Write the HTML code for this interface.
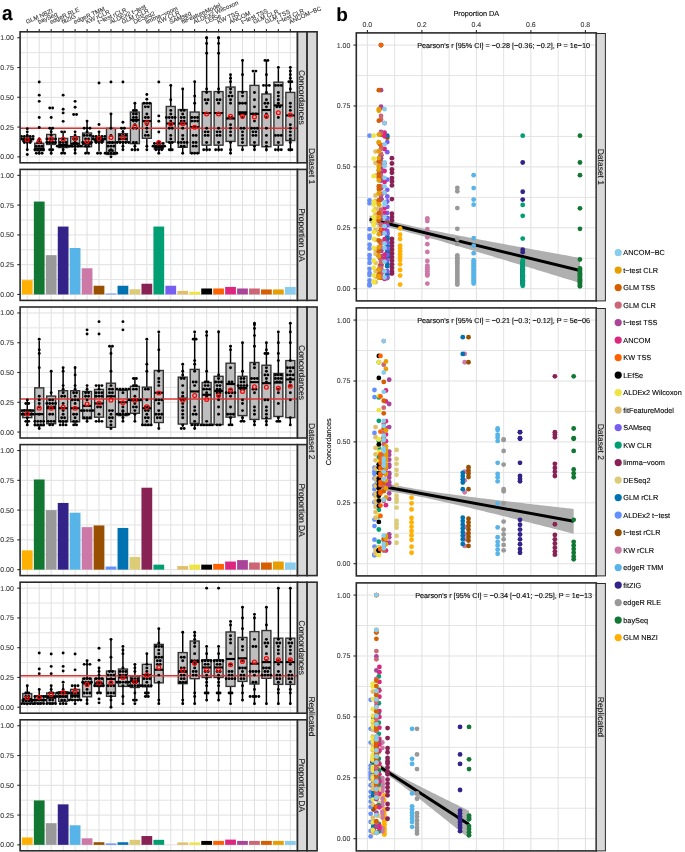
<!DOCTYPE html>
<html><head><meta charset="utf-8"><style>
html,body{margin:0;padding:0;background:#fff;}
svg{display:block;font-family:"Liberation Sans", sans-serif;will-change:transform;text-rendering:geometricPrecision;}
text{stroke-width:0.1px;}
</style></head><body>
<svg width="685" height="852" viewBox="0 0 685 852">
<rect width="685" height="852" fill="#fff"/>
<rect x="20.10" y="31.80" width="277.40" height="131.00" fill="#fff"/>
<line x1="20.10" x2="297.50" y1="141.96" y2="141.96" stroke="#E0E0E0" stroke-width="0.9"/>
<line x1="20.10" x2="297.50" y1="112.19" y2="112.19" stroke="#E0E0E0" stroke-width="0.9"/>
<line x1="20.10" x2="297.50" y1="82.41" y2="82.41" stroke="#E0E0E0" stroke-width="0.9"/>
<line x1="20.10" x2="297.50" y1="52.64" y2="52.64" stroke="#E0E0E0" stroke-width="0.9"/>
<line x1="20.10" x2="297.50" y1="156.85" y2="156.85" stroke="#E0E0E0" stroke-width="1.0"/>
<line x1="20.10" x2="297.50" y1="127.07" y2="127.07" stroke="#E0E0E0" stroke-width="1.0"/>
<line x1="20.10" x2="297.50" y1="97.30" y2="97.30" stroke="#E0E0E0" stroke-width="1.0"/>
<line x1="20.10" x2="297.50" y1="67.53" y2="67.53" stroke="#E0E0E0" stroke-width="1.0"/>
<line x1="20.10" x2="297.50" y1="37.75" y2="37.75" stroke="#E0E0E0" stroke-width="1.0"/>
<line x1="27.27" x2="27.27" y1="31.80" y2="162.80" stroke="#E0E0E0" stroke-width="1.0"/>
<line x1="39.23" x2="39.23" y1="31.80" y2="162.80" stroke="#E0E0E0" stroke-width="1.0"/>
<line x1="51.19" x2="51.19" y1="31.80" y2="162.80" stroke="#E0E0E0" stroke-width="1.0"/>
<line x1="63.14" x2="63.14" y1="31.80" y2="162.80" stroke="#E0E0E0" stroke-width="1.0"/>
<line x1="75.10" x2="75.10" y1="31.80" y2="162.80" stroke="#E0E0E0" stroke-width="1.0"/>
<line x1="87.06" x2="87.06" y1="31.80" y2="162.80" stroke="#E0E0E0" stroke-width="1.0"/>
<line x1="99.02" x2="99.02" y1="31.80" y2="162.80" stroke="#E0E0E0" stroke-width="1.0"/>
<line x1="110.97" x2="110.97" y1="31.80" y2="162.80" stroke="#E0E0E0" stroke-width="1.0"/>
<line x1="122.93" x2="122.93" y1="31.80" y2="162.80" stroke="#E0E0E0" stroke-width="1.0"/>
<line x1="134.89" x2="134.89" y1="31.80" y2="162.80" stroke="#E0E0E0" stroke-width="1.0"/>
<line x1="146.84" x2="146.84" y1="31.80" y2="162.80" stroke="#E0E0E0" stroke-width="1.0"/>
<line x1="158.80" x2="158.80" y1="31.80" y2="162.80" stroke="#E0E0E0" stroke-width="1.0"/>
<line x1="170.76" x2="170.76" y1="31.80" y2="162.80" stroke="#E0E0E0" stroke-width="1.0"/>
<line x1="182.71" x2="182.71" y1="31.80" y2="162.80" stroke="#E0E0E0" stroke-width="1.0"/>
<line x1="194.67" x2="194.67" y1="31.80" y2="162.80" stroke="#E0E0E0" stroke-width="1.0"/>
<line x1="206.63" x2="206.63" y1="31.80" y2="162.80" stroke="#E0E0E0" stroke-width="1.0"/>
<line x1="218.58" x2="218.58" y1="31.80" y2="162.80" stroke="#E0E0E0" stroke-width="1.0"/>
<line x1="230.54" x2="230.54" y1="31.80" y2="162.80" stroke="#E0E0E0" stroke-width="1.0"/>
<line x1="242.50" x2="242.50" y1="31.80" y2="162.80" stroke="#E0E0E0" stroke-width="1.0"/>
<line x1="254.46" x2="254.46" y1="31.80" y2="162.80" stroke="#E0E0E0" stroke-width="1.0"/>
<line x1="266.41" x2="266.41" y1="31.80" y2="162.80" stroke="#E0E0E0" stroke-width="1.0"/>
<line x1="278.37" x2="278.37" y1="31.80" y2="162.80" stroke="#E0E0E0" stroke-width="1.0"/>
<line x1="290.33" x2="290.33" y1="31.80" y2="162.80" stroke="#E0E0E0" stroke-width="1.0"/>
<line x1="17.30" x2="20.10" y1="156.85" y2="156.85" stroke="#2A2A2A" stroke-width="1.1"/>
<text x="13.90" y="159.35" font-size="7" fill="#3A3A3A" stroke="#3A3A3A" text-anchor="end">0.00</text>
<line x1="17.30" x2="20.10" y1="127.07" y2="127.07" stroke="#2A2A2A" stroke-width="1.1"/>
<text x="13.90" y="129.57" font-size="7" fill="#3A3A3A" stroke="#3A3A3A" text-anchor="end">0.25</text>
<line x1="17.30" x2="20.10" y1="97.30" y2="97.30" stroke="#2A2A2A" stroke-width="1.1"/>
<text x="13.90" y="99.80" font-size="7" fill="#3A3A3A" stroke="#3A3A3A" text-anchor="end">0.50</text>
<line x1="17.30" x2="20.10" y1="67.53" y2="67.53" stroke="#2A2A2A" stroke-width="1.1"/>
<text x="13.90" y="70.03" font-size="7" fill="#3A3A3A" stroke="#3A3A3A" text-anchor="end">0.75</text>
<line x1="17.30" x2="20.10" y1="37.75" y2="37.75" stroke="#2A2A2A" stroke-width="1.1"/>
<text x="13.90" y="40.25" font-size="7" fill="#3A3A3A" stroke="#3A3A3A" text-anchor="end">1.00</text>
<rect x="20.10" y="169.40" width="277.40" height="131.00" fill="#fff"/>
<line x1="20.10" x2="297.50" y1="279.56" y2="279.56" stroke="#E0E0E0" stroke-width="0.9"/>
<line x1="20.10" x2="297.50" y1="249.79" y2="249.79" stroke="#E0E0E0" stroke-width="0.9"/>
<line x1="20.10" x2="297.50" y1="220.01" y2="220.01" stroke="#E0E0E0" stroke-width="0.9"/>
<line x1="20.10" x2="297.50" y1="190.24" y2="190.24" stroke="#E0E0E0" stroke-width="0.9"/>
<line x1="20.10" x2="297.50" y1="294.45" y2="294.45" stroke="#E0E0E0" stroke-width="1.0"/>
<line x1="20.10" x2="297.50" y1="264.67" y2="264.67" stroke="#E0E0E0" stroke-width="1.0"/>
<line x1="20.10" x2="297.50" y1="234.90" y2="234.90" stroke="#E0E0E0" stroke-width="1.0"/>
<line x1="20.10" x2="297.50" y1="205.13" y2="205.13" stroke="#E0E0E0" stroke-width="1.0"/>
<line x1="20.10" x2="297.50" y1="175.35" y2="175.35" stroke="#E0E0E0" stroke-width="1.0"/>
<line x1="27.27" x2="27.27" y1="169.40" y2="300.40" stroke="#E0E0E0" stroke-width="1.0"/>
<line x1="39.23" x2="39.23" y1="169.40" y2="300.40" stroke="#E0E0E0" stroke-width="1.0"/>
<line x1="51.19" x2="51.19" y1="169.40" y2="300.40" stroke="#E0E0E0" stroke-width="1.0"/>
<line x1="63.14" x2="63.14" y1="169.40" y2="300.40" stroke="#E0E0E0" stroke-width="1.0"/>
<line x1="75.10" x2="75.10" y1="169.40" y2="300.40" stroke="#E0E0E0" stroke-width="1.0"/>
<line x1="87.06" x2="87.06" y1="169.40" y2="300.40" stroke="#E0E0E0" stroke-width="1.0"/>
<line x1="99.02" x2="99.02" y1="169.40" y2="300.40" stroke="#E0E0E0" stroke-width="1.0"/>
<line x1="110.97" x2="110.97" y1="169.40" y2="300.40" stroke="#E0E0E0" stroke-width="1.0"/>
<line x1="122.93" x2="122.93" y1="169.40" y2="300.40" stroke="#E0E0E0" stroke-width="1.0"/>
<line x1="134.89" x2="134.89" y1="169.40" y2="300.40" stroke="#E0E0E0" stroke-width="1.0"/>
<line x1="146.84" x2="146.84" y1="169.40" y2="300.40" stroke="#E0E0E0" stroke-width="1.0"/>
<line x1="158.80" x2="158.80" y1="169.40" y2="300.40" stroke="#E0E0E0" stroke-width="1.0"/>
<line x1="170.76" x2="170.76" y1="169.40" y2="300.40" stroke="#E0E0E0" stroke-width="1.0"/>
<line x1="182.71" x2="182.71" y1="169.40" y2="300.40" stroke="#E0E0E0" stroke-width="1.0"/>
<line x1="194.67" x2="194.67" y1="169.40" y2="300.40" stroke="#E0E0E0" stroke-width="1.0"/>
<line x1="206.63" x2="206.63" y1="169.40" y2="300.40" stroke="#E0E0E0" stroke-width="1.0"/>
<line x1="218.58" x2="218.58" y1="169.40" y2="300.40" stroke="#E0E0E0" stroke-width="1.0"/>
<line x1="230.54" x2="230.54" y1="169.40" y2="300.40" stroke="#E0E0E0" stroke-width="1.0"/>
<line x1="242.50" x2="242.50" y1="169.40" y2="300.40" stroke="#E0E0E0" stroke-width="1.0"/>
<line x1="254.46" x2="254.46" y1="169.40" y2="300.40" stroke="#E0E0E0" stroke-width="1.0"/>
<line x1="266.41" x2="266.41" y1="169.40" y2="300.40" stroke="#E0E0E0" stroke-width="1.0"/>
<line x1="278.37" x2="278.37" y1="169.40" y2="300.40" stroke="#E0E0E0" stroke-width="1.0"/>
<line x1="290.33" x2="290.33" y1="169.40" y2="300.40" stroke="#E0E0E0" stroke-width="1.0"/>
<line x1="17.30" x2="20.10" y1="294.45" y2="294.45" stroke="#2A2A2A" stroke-width="1.1"/>
<text x="13.90" y="296.95" font-size="7" fill="#3A3A3A" stroke="#3A3A3A" text-anchor="end">0.00</text>
<line x1="17.30" x2="20.10" y1="264.67" y2="264.67" stroke="#2A2A2A" stroke-width="1.1"/>
<text x="13.90" y="267.17" font-size="7" fill="#3A3A3A" stroke="#3A3A3A" text-anchor="end">0.25</text>
<line x1="17.30" x2="20.10" y1="234.90" y2="234.90" stroke="#2A2A2A" stroke-width="1.1"/>
<text x="13.90" y="237.40" font-size="7" fill="#3A3A3A" stroke="#3A3A3A" text-anchor="end">0.50</text>
<line x1="17.30" x2="20.10" y1="205.13" y2="205.13" stroke="#2A2A2A" stroke-width="1.1"/>
<text x="13.90" y="207.63" font-size="7" fill="#3A3A3A" stroke="#3A3A3A" text-anchor="end">0.75</text>
<line x1="17.30" x2="20.10" y1="175.35" y2="175.35" stroke="#2A2A2A" stroke-width="1.1"/>
<text x="13.90" y="177.85" font-size="7" fill="#3A3A3A" stroke="#3A3A3A" text-anchor="end">1.00</text>
<rect x="20.10" y="307.00" width="277.40" height="131.00" fill="#fff"/>
<line x1="20.10" x2="297.50" y1="417.16" y2="417.16" stroke="#E0E0E0" stroke-width="0.9"/>
<line x1="20.10" x2="297.50" y1="387.39" y2="387.39" stroke="#E0E0E0" stroke-width="0.9"/>
<line x1="20.10" x2="297.50" y1="357.61" y2="357.61" stroke="#E0E0E0" stroke-width="0.9"/>
<line x1="20.10" x2="297.50" y1="327.84" y2="327.84" stroke="#E0E0E0" stroke-width="0.9"/>
<line x1="20.10" x2="297.50" y1="432.05" y2="432.05" stroke="#E0E0E0" stroke-width="1.0"/>
<line x1="20.10" x2="297.50" y1="402.27" y2="402.27" stroke="#E0E0E0" stroke-width="1.0"/>
<line x1="20.10" x2="297.50" y1="372.50" y2="372.50" stroke="#E0E0E0" stroke-width="1.0"/>
<line x1="20.10" x2="297.50" y1="342.73" y2="342.73" stroke="#E0E0E0" stroke-width="1.0"/>
<line x1="20.10" x2="297.50" y1="312.95" y2="312.95" stroke="#E0E0E0" stroke-width="1.0"/>
<line x1="27.27" x2="27.27" y1="307.00" y2="438.00" stroke="#E0E0E0" stroke-width="1.0"/>
<line x1="39.23" x2="39.23" y1="307.00" y2="438.00" stroke="#E0E0E0" stroke-width="1.0"/>
<line x1="51.19" x2="51.19" y1="307.00" y2="438.00" stroke="#E0E0E0" stroke-width="1.0"/>
<line x1="63.14" x2="63.14" y1="307.00" y2="438.00" stroke="#E0E0E0" stroke-width="1.0"/>
<line x1="75.10" x2="75.10" y1="307.00" y2="438.00" stroke="#E0E0E0" stroke-width="1.0"/>
<line x1="87.06" x2="87.06" y1="307.00" y2="438.00" stroke="#E0E0E0" stroke-width="1.0"/>
<line x1="99.02" x2="99.02" y1="307.00" y2="438.00" stroke="#E0E0E0" stroke-width="1.0"/>
<line x1="110.97" x2="110.97" y1="307.00" y2="438.00" stroke="#E0E0E0" stroke-width="1.0"/>
<line x1="122.93" x2="122.93" y1="307.00" y2="438.00" stroke="#E0E0E0" stroke-width="1.0"/>
<line x1="134.89" x2="134.89" y1="307.00" y2="438.00" stroke="#E0E0E0" stroke-width="1.0"/>
<line x1="146.84" x2="146.84" y1="307.00" y2="438.00" stroke="#E0E0E0" stroke-width="1.0"/>
<line x1="158.80" x2="158.80" y1="307.00" y2="438.00" stroke="#E0E0E0" stroke-width="1.0"/>
<line x1="170.76" x2="170.76" y1="307.00" y2="438.00" stroke="#E0E0E0" stroke-width="1.0"/>
<line x1="182.71" x2="182.71" y1="307.00" y2="438.00" stroke="#E0E0E0" stroke-width="1.0"/>
<line x1="194.67" x2="194.67" y1="307.00" y2="438.00" stroke="#E0E0E0" stroke-width="1.0"/>
<line x1="206.63" x2="206.63" y1="307.00" y2="438.00" stroke="#E0E0E0" stroke-width="1.0"/>
<line x1="218.58" x2="218.58" y1="307.00" y2="438.00" stroke="#E0E0E0" stroke-width="1.0"/>
<line x1="230.54" x2="230.54" y1="307.00" y2="438.00" stroke="#E0E0E0" stroke-width="1.0"/>
<line x1="242.50" x2="242.50" y1="307.00" y2="438.00" stroke="#E0E0E0" stroke-width="1.0"/>
<line x1="254.46" x2="254.46" y1="307.00" y2="438.00" stroke="#E0E0E0" stroke-width="1.0"/>
<line x1="266.41" x2="266.41" y1="307.00" y2="438.00" stroke="#E0E0E0" stroke-width="1.0"/>
<line x1="278.37" x2="278.37" y1="307.00" y2="438.00" stroke="#E0E0E0" stroke-width="1.0"/>
<line x1="290.33" x2="290.33" y1="307.00" y2="438.00" stroke="#E0E0E0" stroke-width="1.0"/>
<line x1="17.30" x2="20.10" y1="432.05" y2="432.05" stroke="#2A2A2A" stroke-width="1.1"/>
<text x="13.90" y="434.55" font-size="7" fill="#3A3A3A" stroke="#3A3A3A" text-anchor="end">0.00</text>
<line x1="17.30" x2="20.10" y1="402.27" y2="402.27" stroke="#2A2A2A" stroke-width="1.1"/>
<text x="13.90" y="404.77" font-size="7" fill="#3A3A3A" stroke="#3A3A3A" text-anchor="end">0.25</text>
<line x1="17.30" x2="20.10" y1="372.50" y2="372.50" stroke="#2A2A2A" stroke-width="1.1"/>
<text x="13.90" y="375.00" font-size="7" fill="#3A3A3A" stroke="#3A3A3A" text-anchor="end">0.50</text>
<line x1="17.30" x2="20.10" y1="342.73" y2="342.73" stroke="#2A2A2A" stroke-width="1.1"/>
<text x="13.90" y="345.23" font-size="7" fill="#3A3A3A" stroke="#3A3A3A" text-anchor="end">0.75</text>
<line x1="17.30" x2="20.10" y1="312.95" y2="312.95" stroke="#2A2A2A" stroke-width="1.1"/>
<text x="13.90" y="315.45" font-size="7" fill="#3A3A3A" stroke="#3A3A3A" text-anchor="end">1.00</text>
<rect x="20.10" y="444.60" width="277.40" height="131.00" fill="#fff"/>
<line x1="20.10" x2="297.50" y1="554.76" y2="554.76" stroke="#E0E0E0" stroke-width="0.9"/>
<line x1="20.10" x2="297.50" y1="524.99" y2="524.99" stroke="#E0E0E0" stroke-width="0.9"/>
<line x1="20.10" x2="297.50" y1="495.21" y2="495.21" stroke="#E0E0E0" stroke-width="0.9"/>
<line x1="20.10" x2="297.50" y1="465.44" y2="465.44" stroke="#E0E0E0" stroke-width="0.9"/>
<line x1="20.10" x2="297.50" y1="569.65" y2="569.65" stroke="#E0E0E0" stroke-width="1.0"/>
<line x1="20.10" x2="297.50" y1="539.87" y2="539.87" stroke="#E0E0E0" stroke-width="1.0"/>
<line x1="20.10" x2="297.50" y1="510.10" y2="510.10" stroke="#E0E0E0" stroke-width="1.0"/>
<line x1="20.10" x2="297.50" y1="480.33" y2="480.33" stroke="#E0E0E0" stroke-width="1.0"/>
<line x1="20.10" x2="297.50" y1="450.55" y2="450.55" stroke="#E0E0E0" stroke-width="1.0"/>
<line x1="27.27" x2="27.27" y1="444.60" y2="575.60" stroke="#E0E0E0" stroke-width="1.0"/>
<line x1="39.23" x2="39.23" y1="444.60" y2="575.60" stroke="#E0E0E0" stroke-width="1.0"/>
<line x1="51.19" x2="51.19" y1="444.60" y2="575.60" stroke="#E0E0E0" stroke-width="1.0"/>
<line x1="63.14" x2="63.14" y1="444.60" y2="575.60" stroke="#E0E0E0" stroke-width="1.0"/>
<line x1="75.10" x2="75.10" y1="444.60" y2="575.60" stroke="#E0E0E0" stroke-width="1.0"/>
<line x1="87.06" x2="87.06" y1="444.60" y2="575.60" stroke="#E0E0E0" stroke-width="1.0"/>
<line x1="99.02" x2="99.02" y1="444.60" y2="575.60" stroke="#E0E0E0" stroke-width="1.0"/>
<line x1="110.97" x2="110.97" y1="444.60" y2="575.60" stroke="#E0E0E0" stroke-width="1.0"/>
<line x1="122.93" x2="122.93" y1="444.60" y2="575.60" stroke="#E0E0E0" stroke-width="1.0"/>
<line x1="134.89" x2="134.89" y1="444.60" y2="575.60" stroke="#E0E0E0" stroke-width="1.0"/>
<line x1="146.84" x2="146.84" y1="444.60" y2="575.60" stroke="#E0E0E0" stroke-width="1.0"/>
<line x1="158.80" x2="158.80" y1="444.60" y2="575.60" stroke="#E0E0E0" stroke-width="1.0"/>
<line x1="170.76" x2="170.76" y1="444.60" y2="575.60" stroke="#E0E0E0" stroke-width="1.0"/>
<line x1="182.71" x2="182.71" y1="444.60" y2="575.60" stroke="#E0E0E0" stroke-width="1.0"/>
<line x1="194.67" x2="194.67" y1="444.60" y2="575.60" stroke="#E0E0E0" stroke-width="1.0"/>
<line x1="206.63" x2="206.63" y1="444.60" y2="575.60" stroke="#E0E0E0" stroke-width="1.0"/>
<line x1="218.58" x2="218.58" y1="444.60" y2="575.60" stroke="#E0E0E0" stroke-width="1.0"/>
<line x1="230.54" x2="230.54" y1="444.60" y2="575.60" stroke="#E0E0E0" stroke-width="1.0"/>
<line x1="242.50" x2="242.50" y1="444.60" y2="575.60" stroke="#E0E0E0" stroke-width="1.0"/>
<line x1="254.46" x2="254.46" y1="444.60" y2="575.60" stroke="#E0E0E0" stroke-width="1.0"/>
<line x1="266.41" x2="266.41" y1="444.60" y2="575.60" stroke="#E0E0E0" stroke-width="1.0"/>
<line x1="278.37" x2="278.37" y1="444.60" y2="575.60" stroke="#E0E0E0" stroke-width="1.0"/>
<line x1="290.33" x2="290.33" y1="444.60" y2="575.60" stroke="#E0E0E0" stroke-width="1.0"/>
<line x1="17.30" x2="20.10" y1="569.65" y2="569.65" stroke="#2A2A2A" stroke-width="1.1"/>
<text x="13.90" y="572.15" font-size="7" fill="#3A3A3A" stroke="#3A3A3A" text-anchor="end">0.00</text>
<line x1="17.30" x2="20.10" y1="539.87" y2="539.87" stroke="#2A2A2A" stroke-width="1.1"/>
<text x="13.90" y="542.37" font-size="7" fill="#3A3A3A" stroke="#3A3A3A" text-anchor="end">0.25</text>
<line x1="17.30" x2="20.10" y1="510.10" y2="510.10" stroke="#2A2A2A" stroke-width="1.1"/>
<text x="13.90" y="512.60" font-size="7" fill="#3A3A3A" stroke="#3A3A3A" text-anchor="end">0.50</text>
<line x1="17.30" x2="20.10" y1="480.33" y2="480.33" stroke="#2A2A2A" stroke-width="1.1"/>
<text x="13.90" y="482.83" font-size="7" fill="#3A3A3A" stroke="#3A3A3A" text-anchor="end">0.75</text>
<line x1="17.30" x2="20.10" y1="450.55" y2="450.55" stroke="#2A2A2A" stroke-width="1.1"/>
<text x="13.90" y="453.05" font-size="7" fill="#3A3A3A" stroke="#3A3A3A" text-anchor="end">1.00</text>
<rect x="20.10" y="582.20" width="277.40" height="131.00" fill="#fff"/>
<line x1="20.10" x2="297.50" y1="692.36" y2="692.36" stroke="#E0E0E0" stroke-width="0.9"/>
<line x1="20.10" x2="297.50" y1="662.59" y2="662.59" stroke="#E0E0E0" stroke-width="0.9"/>
<line x1="20.10" x2="297.50" y1="632.81" y2="632.81" stroke="#E0E0E0" stroke-width="0.9"/>
<line x1="20.10" x2="297.50" y1="603.04" y2="603.04" stroke="#E0E0E0" stroke-width="0.9"/>
<line x1="20.10" x2="297.50" y1="707.25" y2="707.25" stroke="#E0E0E0" stroke-width="1.0"/>
<line x1="20.10" x2="297.50" y1="677.47" y2="677.47" stroke="#E0E0E0" stroke-width="1.0"/>
<line x1="20.10" x2="297.50" y1="647.70" y2="647.70" stroke="#E0E0E0" stroke-width="1.0"/>
<line x1="20.10" x2="297.50" y1="617.93" y2="617.93" stroke="#E0E0E0" stroke-width="1.0"/>
<line x1="20.10" x2="297.50" y1="588.15" y2="588.15" stroke="#E0E0E0" stroke-width="1.0"/>
<line x1="27.27" x2="27.27" y1="582.20" y2="713.20" stroke="#E0E0E0" stroke-width="1.0"/>
<line x1="39.23" x2="39.23" y1="582.20" y2="713.20" stroke="#E0E0E0" stroke-width="1.0"/>
<line x1="51.19" x2="51.19" y1="582.20" y2="713.20" stroke="#E0E0E0" stroke-width="1.0"/>
<line x1="63.14" x2="63.14" y1="582.20" y2="713.20" stroke="#E0E0E0" stroke-width="1.0"/>
<line x1="75.10" x2="75.10" y1="582.20" y2="713.20" stroke="#E0E0E0" stroke-width="1.0"/>
<line x1="87.06" x2="87.06" y1="582.20" y2="713.20" stroke="#E0E0E0" stroke-width="1.0"/>
<line x1="99.02" x2="99.02" y1="582.20" y2="713.20" stroke="#E0E0E0" stroke-width="1.0"/>
<line x1="110.97" x2="110.97" y1="582.20" y2="713.20" stroke="#E0E0E0" stroke-width="1.0"/>
<line x1="122.93" x2="122.93" y1="582.20" y2="713.20" stroke="#E0E0E0" stroke-width="1.0"/>
<line x1="134.89" x2="134.89" y1="582.20" y2="713.20" stroke="#E0E0E0" stroke-width="1.0"/>
<line x1="146.84" x2="146.84" y1="582.20" y2="713.20" stroke="#E0E0E0" stroke-width="1.0"/>
<line x1="158.80" x2="158.80" y1="582.20" y2="713.20" stroke="#E0E0E0" stroke-width="1.0"/>
<line x1="170.76" x2="170.76" y1="582.20" y2="713.20" stroke="#E0E0E0" stroke-width="1.0"/>
<line x1="182.71" x2="182.71" y1="582.20" y2="713.20" stroke="#E0E0E0" stroke-width="1.0"/>
<line x1="194.67" x2="194.67" y1="582.20" y2="713.20" stroke="#E0E0E0" stroke-width="1.0"/>
<line x1="206.63" x2="206.63" y1="582.20" y2="713.20" stroke="#E0E0E0" stroke-width="1.0"/>
<line x1="218.58" x2="218.58" y1="582.20" y2="713.20" stroke="#E0E0E0" stroke-width="1.0"/>
<line x1="230.54" x2="230.54" y1="582.20" y2="713.20" stroke="#E0E0E0" stroke-width="1.0"/>
<line x1="242.50" x2="242.50" y1="582.20" y2="713.20" stroke="#E0E0E0" stroke-width="1.0"/>
<line x1="254.46" x2="254.46" y1="582.20" y2="713.20" stroke="#E0E0E0" stroke-width="1.0"/>
<line x1="266.41" x2="266.41" y1="582.20" y2="713.20" stroke="#E0E0E0" stroke-width="1.0"/>
<line x1="278.37" x2="278.37" y1="582.20" y2="713.20" stroke="#E0E0E0" stroke-width="1.0"/>
<line x1="290.33" x2="290.33" y1="582.20" y2="713.20" stroke="#E0E0E0" stroke-width="1.0"/>
<line x1="17.30" x2="20.10" y1="707.25" y2="707.25" stroke="#2A2A2A" stroke-width="1.1"/>
<text x="13.90" y="709.75" font-size="7" fill="#3A3A3A" stroke="#3A3A3A" text-anchor="end">0.00</text>
<line x1="17.30" x2="20.10" y1="677.47" y2="677.47" stroke="#2A2A2A" stroke-width="1.1"/>
<text x="13.90" y="679.97" font-size="7" fill="#3A3A3A" stroke="#3A3A3A" text-anchor="end">0.25</text>
<line x1="17.30" x2="20.10" y1="647.70" y2="647.70" stroke="#2A2A2A" stroke-width="1.1"/>
<text x="13.90" y="650.20" font-size="7" fill="#3A3A3A" stroke="#3A3A3A" text-anchor="end">0.50</text>
<line x1="17.30" x2="20.10" y1="617.93" y2="617.93" stroke="#2A2A2A" stroke-width="1.1"/>
<text x="13.90" y="620.43" font-size="7" fill="#3A3A3A" stroke="#3A3A3A" text-anchor="end">0.75</text>
<line x1="17.30" x2="20.10" y1="588.15" y2="588.15" stroke="#2A2A2A" stroke-width="1.1"/>
<text x="13.90" y="590.65" font-size="7" fill="#3A3A3A" stroke="#3A3A3A" text-anchor="end">1.00</text>
<rect x="20.10" y="719.80" width="277.40" height="131.00" fill="#fff"/>
<line x1="20.10" x2="297.50" y1="829.96" y2="829.96" stroke="#E0E0E0" stroke-width="0.9"/>
<line x1="20.10" x2="297.50" y1="800.19" y2="800.19" stroke="#E0E0E0" stroke-width="0.9"/>
<line x1="20.10" x2="297.50" y1="770.41" y2="770.41" stroke="#E0E0E0" stroke-width="0.9"/>
<line x1="20.10" x2="297.50" y1="740.64" y2="740.64" stroke="#E0E0E0" stroke-width="0.9"/>
<line x1="20.10" x2="297.50" y1="844.85" y2="844.85" stroke="#E0E0E0" stroke-width="1.0"/>
<line x1="20.10" x2="297.50" y1="815.07" y2="815.07" stroke="#E0E0E0" stroke-width="1.0"/>
<line x1="20.10" x2="297.50" y1="785.30" y2="785.30" stroke="#E0E0E0" stroke-width="1.0"/>
<line x1="20.10" x2="297.50" y1="755.53" y2="755.53" stroke="#E0E0E0" stroke-width="1.0"/>
<line x1="20.10" x2="297.50" y1="725.75" y2="725.75" stroke="#E0E0E0" stroke-width="1.0"/>
<line x1="27.27" x2="27.27" y1="719.80" y2="850.80" stroke="#E0E0E0" stroke-width="1.0"/>
<line x1="39.23" x2="39.23" y1="719.80" y2="850.80" stroke="#E0E0E0" stroke-width="1.0"/>
<line x1="51.19" x2="51.19" y1="719.80" y2="850.80" stroke="#E0E0E0" stroke-width="1.0"/>
<line x1="63.14" x2="63.14" y1="719.80" y2="850.80" stroke="#E0E0E0" stroke-width="1.0"/>
<line x1="75.10" x2="75.10" y1="719.80" y2="850.80" stroke="#E0E0E0" stroke-width="1.0"/>
<line x1="87.06" x2="87.06" y1="719.80" y2="850.80" stroke="#E0E0E0" stroke-width="1.0"/>
<line x1="99.02" x2="99.02" y1="719.80" y2="850.80" stroke="#E0E0E0" stroke-width="1.0"/>
<line x1="110.97" x2="110.97" y1="719.80" y2="850.80" stroke="#E0E0E0" stroke-width="1.0"/>
<line x1="122.93" x2="122.93" y1="719.80" y2="850.80" stroke="#E0E0E0" stroke-width="1.0"/>
<line x1="134.89" x2="134.89" y1="719.80" y2="850.80" stroke="#E0E0E0" stroke-width="1.0"/>
<line x1="146.84" x2="146.84" y1="719.80" y2="850.80" stroke="#E0E0E0" stroke-width="1.0"/>
<line x1="158.80" x2="158.80" y1="719.80" y2="850.80" stroke="#E0E0E0" stroke-width="1.0"/>
<line x1="170.76" x2="170.76" y1="719.80" y2="850.80" stroke="#E0E0E0" stroke-width="1.0"/>
<line x1="182.71" x2="182.71" y1="719.80" y2="850.80" stroke="#E0E0E0" stroke-width="1.0"/>
<line x1="194.67" x2="194.67" y1="719.80" y2="850.80" stroke="#E0E0E0" stroke-width="1.0"/>
<line x1="206.63" x2="206.63" y1="719.80" y2="850.80" stroke="#E0E0E0" stroke-width="1.0"/>
<line x1="218.58" x2="218.58" y1="719.80" y2="850.80" stroke="#E0E0E0" stroke-width="1.0"/>
<line x1="230.54" x2="230.54" y1="719.80" y2="850.80" stroke="#E0E0E0" stroke-width="1.0"/>
<line x1="242.50" x2="242.50" y1="719.80" y2="850.80" stroke="#E0E0E0" stroke-width="1.0"/>
<line x1="254.46" x2="254.46" y1="719.80" y2="850.80" stroke="#E0E0E0" stroke-width="1.0"/>
<line x1="266.41" x2="266.41" y1="719.80" y2="850.80" stroke="#E0E0E0" stroke-width="1.0"/>
<line x1="278.37" x2="278.37" y1="719.80" y2="850.80" stroke="#E0E0E0" stroke-width="1.0"/>
<line x1="290.33" x2="290.33" y1="719.80" y2="850.80" stroke="#E0E0E0" stroke-width="1.0"/>
<line x1="17.30" x2="20.10" y1="844.85" y2="844.85" stroke="#2A2A2A" stroke-width="1.1"/>
<text x="13.90" y="847.35" font-size="7" fill="#3A3A3A" stroke="#3A3A3A" text-anchor="end">0.00</text>
<line x1="17.30" x2="20.10" y1="815.07" y2="815.07" stroke="#2A2A2A" stroke-width="1.1"/>
<text x="13.90" y="817.57" font-size="7" fill="#3A3A3A" stroke="#3A3A3A" text-anchor="end">0.25</text>
<line x1="17.30" x2="20.10" y1="785.30" y2="785.30" stroke="#2A2A2A" stroke-width="1.1"/>
<text x="13.90" y="787.80" font-size="7" fill="#3A3A3A" stroke="#3A3A3A" text-anchor="end">0.50</text>
<line x1="17.30" x2="20.10" y1="755.53" y2="755.53" stroke="#2A2A2A" stroke-width="1.1"/>
<text x="13.90" y="758.03" font-size="7" fill="#3A3A3A" stroke="#3A3A3A" text-anchor="end">0.75</text>
<line x1="17.30" x2="20.10" y1="725.75" y2="725.75" stroke="#2A2A2A" stroke-width="1.1"/>
<text x="13.90" y="728.25" font-size="7" fill="#3A3A3A" stroke="#3A3A3A" text-anchor="end">1.00</text>
<rect x="21.89" y="280.15" width="10.76" height="14.29" fill="#FFB000"/>
<rect x="33.85" y="201.55" width="10.76" height="92.89" fill="#117733"/>
<rect x="45.81" y="255.15" width="10.76" height="39.30" fill="#999999"/>
<rect x="57.76" y="226.56" width="10.76" height="67.88" fill="#332288"/>
<rect x="69.72" y="248.00" width="10.76" height="46.45" fill="#56B4E9"/>
<rect x="81.68" y="268.25" width="10.76" height="26.20" fill="#CC79A7"/>
<rect x="93.63" y="285.75" width="10.76" height="8.69" fill="#994F00"/>
<rect x="105.59" y="293.49" width="10.76" height="0.95" fill="#648FFF"/>
<rect x="117.55" y="285.75" width="10.76" height="8.69" fill="#0072B2"/>
<rect x="129.51" y="289.21" width="10.76" height="5.24" fill="#DDCC77"/>
<rect x="141.46" y="283.73" width="10.76" height="10.72" fill="#882255"/>
<rect x="153.42" y="226.56" width="10.76" height="67.88" fill="#009E73"/>
<rect x="165.38" y="285.75" width="10.76" height="8.69" fill="#785EF0"/>
<rect x="177.33" y="290.87" width="10.76" height="3.57" fill="#E1BE6A"/>
<rect x="189.29" y="291.71" width="10.76" height="2.74" fill="#F0E442"/>
<rect x="201.25" y="288.49" width="10.76" height="5.95" fill="#000000"/>
<rect x="213.20" y="288.49" width="10.76" height="5.95" fill="#FE6100"/>
<rect x="225.16" y="286.94" width="10.76" height="7.50" fill="#DC267F"/>
<rect x="237.12" y="288.49" width="10.76" height="5.95" fill="#AA4499"/>
<rect x="249.07" y="288.49" width="10.76" height="5.95" fill="#CC6677"/>
<rect x="261.03" y="289.44" width="10.76" height="5.00" fill="#D55E00"/>
<rect x="272.99" y="289.44" width="10.76" height="5.00" fill="#E69F00"/>
<rect x="284.95" y="286.94" width="10.76" height="7.50" fill="#88CCEE"/>
<rect x="21.89" y="550.35" width="10.76" height="19.29" fill="#FFB000"/>
<rect x="33.85" y="479.49" width="10.76" height="90.15" fill="#117733"/>
<rect x="45.81" y="510.10" width="10.76" height="59.55" fill="#999999"/>
<rect x="57.76" y="502.95" width="10.76" height="66.69" fill="#332288"/>
<rect x="69.72" y="512.72" width="10.76" height="56.93" fill="#56B4E9"/>
<rect x="81.68" y="527.13" width="10.76" height="42.52" fill="#CC79A7"/>
<rect x="93.63" y="525.46" width="10.76" height="44.18" fill="#994F00"/>
<rect x="105.59" y="566.55" width="10.76" height="3.10" fill="#648FFF"/>
<rect x="117.55" y="527.96" width="10.76" height="41.68" fill="#0072B2"/>
<rect x="129.51" y="556.90" width="10.76" height="12.74" fill="#DDCC77"/>
<rect x="141.46" y="487.71" width="10.76" height="81.93" fill="#882255"/>
<rect x="153.42" y="564.64" width="10.76" height="5.00" fill="#009E73"/>
<rect x="177.33" y="566.07" width="10.76" height="3.57" fill="#E1BE6A"/>
<rect x="189.29" y="564.64" width="10.76" height="5.00" fill="#F0E442"/>
<rect x="201.25" y="564.64" width="10.76" height="5.00" fill="#000000"/>
<rect x="213.20" y="563.93" width="10.76" height="5.72" fill="#FE6100"/>
<rect x="225.16" y="561.55" width="10.76" height="8.10" fill="#DC267F"/>
<rect x="237.12" y="560.12" width="10.76" height="9.53" fill="#AA4499"/>
<rect x="249.07" y="562.50" width="10.76" height="7.15" fill="#CC6677"/>
<rect x="261.03" y="562.50" width="10.76" height="7.15" fill="#D55E00"/>
<rect x="272.99" y="561.55" width="10.76" height="8.10" fill="#E69F00"/>
<rect x="284.95" y="562.50" width="10.76" height="7.15" fill="#88CCEE"/>
<rect x="21.89" y="837.46" width="10.76" height="7.38" fill="#FFB000"/>
<rect x="33.85" y="800.42" width="10.76" height="44.42" fill="#117733"/>
<rect x="45.81" y="823.17" width="10.76" height="21.67" fill="#999999"/>
<rect x="57.76" y="804.35" width="10.76" height="40.49" fill="#332288"/>
<rect x="69.72" y="825.31" width="10.76" height="19.53" fill="#56B4E9"/>
<rect x="81.68" y="838.30" width="10.76" height="6.55" fill="#CC79A7"/>
<rect x="93.63" y="842.23" width="10.76" height="2.62" fill="#994F00"/>
<rect x="105.59" y="843.42" width="10.76" height="1.43" fill="#648FFF"/>
<rect x="117.55" y="842.23" width="10.76" height="2.62" fill="#0072B2"/>
<rect x="129.51" y="839.84" width="10.76" height="5.00" fill="#DDCC77"/>
<rect x="141.46" y="836.03" width="10.76" height="8.81" fill="#882255"/>
<rect x="153.42" y="839.84" width="10.76" height="5.00" fill="#009E73"/>
<rect x="177.33" y="842.46" width="10.76" height="2.38" fill="#E1BE6A"/>
<rect x="189.29" y="842.46" width="10.76" height="2.38" fill="#F0E442"/>
<rect x="201.25" y="840.92" width="10.76" height="3.93" fill="#000000"/>
<rect x="213.20" y="840.92" width="10.76" height="3.93" fill="#FE6100"/>
<rect x="225.16" y="839.61" width="10.76" height="5.24" fill="#DC267F"/>
<rect x="237.12" y="840.92" width="10.76" height="3.93" fill="#AA4499"/>
<rect x="249.07" y="840.92" width="10.76" height="3.93" fill="#CC6677"/>
<rect x="261.03" y="840.92" width="10.76" height="3.93" fill="#D55E00"/>
<rect x="272.99" y="840.92" width="10.76" height="3.93" fill="#E69F00"/>
<rect x="284.95" y="840.92" width="10.76" height="3.93" fill="#88CCEE"/>
<line x1="27.27" x2="27.27" y1="133.62" y2="138.39" stroke="#000" stroke-width="1.45"/>
<line x1="27.27" x2="27.27" y1="141.36" y2="148.99" stroke="#000" stroke-width="1.45"/>
<rect x="22.79" y="138.39" width="8.97" height="2.98" fill="#BEBEBE" stroke="#333" stroke-width="1.4"/>
<line x1="22.79" x2="31.76" y1="140.17" y2="140.17" stroke="#000" stroke-width="2.1"/>
<line x1="39.23" x2="39.23" y1="137.79" y2="143.27" stroke="#000" stroke-width="1.45"/>
<line x1="39.23" x2="39.23" y1="150.65" y2="154.46" stroke="#000" stroke-width="1.45"/>
<rect x="34.75" y="143.27" width="8.97" height="7.38" fill="#BEBEBE" stroke="#333" stroke-width="1.4"/>
<line x1="34.75" x2="43.71" y1="148.51" y2="148.51" stroke="#000" stroke-width="2.1"/>
<line x1="51.19" x2="51.19" y1="127.55" y2="134.46" stroke="#000" stroke-width="1.45"/>
<line x1="51.19" x2="51.19" y1="144.46" y2="154.46" stroke="#000" stroke-width="1.45"/>
<rect x="46.70" y="134.46" width="8.97" height="10.00" fill="#BEBEBE" stroke="#333" stroke-width="1.4"/>
<line x1="46.70" x2="55.67" y1="142.55" y2="142.55" stroke="#000" stroke-width="2.1"/>
<line x1="63.14" x2="63.14" y1="132.19" y2="138.39" stroke="#000" stroke-width="1.45"/>
<line x1="63.14" x2="63.14" y1="147.56" y2="153.63" stroke="#000" stroke-width="1.45"/>
<rect x="58.66" y="138.39" width="8.97" height="9.17" fill="#BEBEBE" stroke="#333" stroke-width="1.4"/>
<line x1="58.66" x2="67.63" y1="144.94" y2="144.94" stroke="#000" stroke-width="2.1"/>
<line x1="75.10" x2="75.10" y1="133.62" y2="136.72" stroke="#000" stroke-width="1.45"/>
<line x1="75.10" x2="75.10" y1="146.72" y2="152.08" stroke="#000" stroke-width="1.45"/>
<rect x="70.62" y="136.72" width="8.97" height="10.00" fill="#BEBEBE" stroke="#333" stroke-width="1.4"/>
<line x1="70.62" x2="79.59" y1="143.75" y2="143.75" stroke="#000" stroke-width="2.1"/>
<line x1="87.06" x2="87.06" y1="122.07" y2="133.03" stroke="#000" stroke-width="1.45"/>
<line x1="87.06" x2="87.06" y1="146.72" y2="152.92" stroke="#000" stroke-width="1.45"/>
<rect x="82.57" y="133.03" width="8.97" height="13.70" fill="#BEBEBE" stroke="#333" stroke-width="1.4"/>
<line x1="82.57" x2="91.54" y1="143.75" y2="143.75" stroke="#000" stroke-width="2.1"/>
<line x1="99.02" x2="99.02" y1="132.19" y2="138.39" stroke="#000" stroke-width="1.45"/>
<line x1="99.02" x2="99.02" y1="141.96" y2="151.61" stroke="#000" stroke-width="1.45"/>
<rect x="94.53" y="138.39" width="8.97" height="3.57" fill="#BEBEBE" stroke="#333" stroke-width="1.4"/>
<line x1="94.53" x2="103.50" y1="140.17" y2="140.17" stroke="#000" stroke-width="2.1"/>
<line x1="110.97" x2="110.97" y1="113.62" y2="128.38" stroke="#000" stroke-width="1.45"/>
<line x1="110.97" x2="110.97" y1="154.46" y2="155.18" stroke="#000" stroke-width="1.45"/>
<rect x="106.49" y="128.38" width="8.97" height="26.08" fill="#BEBEBE" stroke="#333" stroke-width="1.4"/>
<line x1="106.49" x2="115.46" y1="142.55" y2="142.55" stroke="#000" stroke-width="2.1"/>
<line x1="122.93" x2="122.93" y1="129.81" y2="133.62" stroke="#000" stroke-width="1.45"/>
<line x1="122.93" x2="122.93" y1="142.08" y2="149.94" stroke="#000" stroke-width="1.45"/>
<rect x="118.45" y="133.62" width="8.97" height="8.46" fill="#BEBEBE" stroke="#333" stroke-width="1.4"/>
<line x1="118.45" x2="127.41" y1="138.98" y2="138.98" stroke="#000" stroke-width="2.1"/>
<line x1="134.89" x2="134.89" y1="103.25" y2="112.07" stroke="#000" stroke-width="1.45"/>
<line x1="134.89" x2="134.89" y1="143.63" y2="151.37" stroke="#000" stroke-width="1.45"/>
<rect x="130.40" y="112.07" width="8.97" height="31.56" fill="#BEBEBE" stroke="#333" stroke-width="1.4"/>
<line x1="130.40" x2="139.37" y1="119.93" y2="119.93" stroke="#000" stroke-width="2.1"/>
<line x1="146.84" x2="146.84" y1="103.25" y2="103.25" stroke="#000" stroke-width="1.45"/>
<line x1="146.84" x2="146.84" y1="138.27" y2="148.27" stroke="#000" stroke-width="1.45"/>
<rect x="142.36" y="103.25" width="8.97" height="35.01" fill="#BEBEBE" stroke="#333" stroke-width="1.4"/>
<line x1="142.36" x2="151.33" y1="121.12" y2="121.12" stroke="#000" stroke-width="2.1"/>
<line x1="158.80" x2="158.80" y1="142.55" y2="145.89" stroke="#000" stroke-width="1.45"/>
<line x1="158.80" x2="158.80" y1="148.99" y2="153.63" stroke="#000" stroke-width="1.45"/>
<rect x="154.32" y="145.89" width="8.97" height="3.10" fill="#BEBEBE" stroke="#333" stroke-width="1.4"/>
<line x1="154.32" x2="163.28" y1="147.32" y2="147.32" stroke="#000" stroke-width="2.1"/>
<line x1="170.76" x2="170.76" y1="85.15" y2="106.47" stroke="#000" stroke-width="1.45"/>
<line x1="170.76" x2="170.76" y1="142.08" y2="151.37" stroke="#000" stroke-width="1.45"/>
<rect x="166.27" y="106.47" width="8.97" height="35.61" fill="#BEBEBE" stroke="#333" stroke-width="1.4"/>
<line x1="166.27" x2="175.24" y1="123.50" y2="123.50" stroke="#000" stroke-width="2.1"/>
<line x1="182.71" x2="182.71" y1="89.80" y2="109.57" stroke="#000" stroke-width="1.45"/>
<line x1="182.71" x2="182.71" y1="147.32" y2="153.63" stroke="#000" stroke-width="1.45"/>
<rect x="178.23" y="109.57" width="8.97" height="37.75" fill="#BEBEBE" stroke="#333" stroke-width="1.4"/>
<line x1="178.23" x2="187.20" y1="123.50" y2="123.50" stroke="#000" stroke-width="2.1"/>
<line x1="194.67" x2="194.67" y1="82.06" y2="112.07" stroke="#000" stroke-width="1.45"/>
<line x1="194.67" x2="194.67" y1="153.27" y2="153.63" stroke="#000" stroke-width="1.45"/>
<rect x="190.19" y="112.07" width="8.97" height="41.21" fill="#BEBEBE" stroke="#333" stroke-width="1.4"/>
<line x1="190.19" x2="199.15" y1="127.07" y2="127.07" stroke="#000" stroke-width="2.1"/>
<line x1="206.63" x2="206.63" y1="37.75" y2="91.58" stroke="#000" stroke-width="1.45"/>
<line x1="206.63" x2="206.63" y1="145.17" y2="151.37" stroke="#000" stroke-width="1.45"/>
<rect x="202.14" y="91.58" width="8.97" height="53.59" fill="#BEBEBE" stroke="#333" stroke-width="1.4"/>
<line x1="202.14" x2="211.11" y1="113.02" y2="113.02" stroke="#000" stroke-width="2.1"/>
<line x1="218.58" x2="218.58" y1="37.75" y2="91.58" stroke="#000" stroke-width="1.45"/>
<line x1="218.58" x2="218.58" y1="145.17" y2="151.37" stroke="#000" stroke-width="1.45"/>
<rect x="214.10" y="91.58" width="8.97" height="53.59" fill="#BEBEBE" stroke="#333" stroke-width="1.4"/>
<line x1="214.10" x2="223.07" y1="113.02" y2="113.02" stroke="#000" stroke-width="2.1"/>
<line x1="230.54" x2="230.54" y1="75.86" y2="87.06" stroke="#000" stroke-width="1.45"/>
<line x1="230.54" x2="230.54" y1="141.36" y2="152.08" stroke="#000" stroke-width="1.45"/>
<rect x="226.06" y="87.06" width="8.97" height="54.31" fill="#BEBEBE" stroke="#333" stroke-width="1.4"/>
<line x1="226.06" x2="235.03" y1="118.50" y2="118.50" stroke="#000" stroke-width="2.1"/>
<line x1="242.50" x2="242.50" y1="59.79" y2="91.58" stroke="#000" stroke-width="1.45"/>
<line x1="242.50" x2="242.50" y1="145.65" y2="149.70" stroke="#000" stroke-width="1.45"/>
<rect x="238.01" y="91.58" width="8.97" height="54.07" fill="#BEBEBE" stroke="#333" stroke-width="1.4"/>
<line x1="238.01" x2="246.98" y1="112.31" y2="112.31" stroke="#000" stroke-width="2.1"/>
<line x1="254.46" x2="254.46" y1="72.41" y2="85.39" stroke="#000" stroke-width="1.45"/>
<line x1="254.46" x2="254.46" y1="145.17" y2="149.70" stroke="#000" stroke-width="1.45"/>
<rect x="249.97" y="85.39" width="8.97" height="59.78" fill="#BEBEBE" stroke="#333" stroke-width="1.4"/>
<line x1="249.97" x2="258.94" y1="113.85" y2="113.85" stroke="#000" stroke-width="2.1"/>
<line x1="266.41" x2="266.41" y1="59.79" y2="93.97" stroke="#000" stroke-width="1.45"/>
<line x1="266.41" x2="266.41" y1="146.72" y2="151.37" stroke="#000" stroke-width="1.45"/>
<rect x="261.93" y="93.97" width="8.97" height="52.76" fill="#BEBEBE" stroke="#333" stroke-width="1.4"/>
<line x1="261.93" x2="270.90" y1="110.04" y2="110.04" stroke="#000" stroke-width="2.1"/>
<line x1="278.37" x2="278.37" y1="69.08" y2="82.18" stroke="#000" stroke-width="1.45"/>
<line x1="278.37" x2="278.37" y1="145.17" y2="151.37" stroke="#000" stroke-width="1.45"/>
<rect x="273.89" y="82.18" width="8.97" height="63.00" fill="#BEBEBE" stroke="#333" stroke-width="1.4"/>
<line x1="273.89" x2="282.85" y1="105.40" y2="105.40" stroke="#000" stroke-width="2.1"/>
<line x1="290.33" x2="290.33" y1="69.08" y2="92.42" stroke="#000" stroke-width="1.45"/>
<line x1="290.33" x2="290.33" y1="140.53" y2="151.37" stroke="#000" stroke-width="1.45"/>
<rect x="285.84" y="92.42" width="8.97" height="48.11" fill="#BEBEBE" stroke="#333" stroke-width="1.4"/>
<line x1="285.84" x2="294.81" y1="115.40" y2="115.40" stroke="#000" stroke-width="2.1"/>
<line x1="27.27" x2="27.27" y1="400.25" y2="409.89" stroke="#000" stroke-width="1.45"/>
<line x1="27.27" x2="27.27" y1="417.64" y2="425.26" stroke="#000" stroke-width="1.45"/>
<rect x="22.79" y="409.89" width="8.97" height="7.74" fill="#BEBEBE" stroke="#333" stroke-width="1.4"/>
<line x1="22.79" x2="31.76" y1="414.18" y2="414.18" stroke="#000" stroke-width="2.1"/>
<line x1="39.23" x2="39.23" y1="340.58" y2="387.86" stroke="#000" stroke-width="1.45"/>
<line x1="39.23" x2="39.23" y1="425.61" y2="427.88" stroke="#000" stroke-width="1.45"/>
<rect x="34.75" y="387.86" width="8.97" height="37.75" fill="#BEBEBE" stroke="#333" stroke-width="1.4"/>
<line x1="34.75" x2="43.71" y1="414.18" y2="414.18" stroke="#000" stroke-width="2.1"/>
<line x1="51.19" x2="51.19" y1="372.02" y2="396.08" stroke="#000" stroke-width="1.45"/>
<line x1="51.19" x2="51.19" y1="423.71" y2="424.07" stroke="#000" stroke-width="1.45"/>
<rect x="46.70" y="396.08" width="8.97" height="27.63" fill="#BEBEBE" stroke="#333" stroke-width="1.4"/>
<line x1="46.70" x2="55.67" y1="408.23" y2="408.23" stroke="#000" stroke-width="2.1"/>
<line x1="63.14" x2="63.14" y1="367.62" y2="390.72" stroke="#000" stroke-width="1.45"/>
<line x1="63.14" x2="63.14" y1="421.80" y2="425.26" stroke="#000" stroke-width="1.45"/>
<rect x="58.66" y="390.72" width="8.97" height="31.08" fill="#BEBEBE" stroke="#333" stroke-width="1.4"/>
<line x1="58.66" x2="67.63" y1="408.23" y2="408.23" stroke="#000" stroke-width="2.1"/>
<line x1="75.10" x2="75.10" y1="366.31" y2="390.72" stroke="#000" stroke-width="1.45"/>
<line x1="75.10" x2="75.10" y1="421.80" y2="425.61" stroke="#000" stroke-width="1.45"/>
<rect x="70.62" y="390.72" width="8.97" height="31.08" fill="#BEBEBE" stroke="#333" stroke-width="1.4"/>
<line x1="70.62" x2="79.59" y1="408.23" y2="408.23" stroke="#000" stroke-width="2.1"/>
<line x1="87.06" x2="87.06" y1="387.15" y2="391.44" stroke="#000" stroke-width="1.45"/>
<line x1="87.06" x2="87.06" y1="418.71" y2="422.52" stroke="#000" stroke-width="1.45"/>
<rect x="82.57" y="391.44" width="8.97" height="27.27" fill="#BEBEBE" stroke="#333" stroke-width="1.4"/>
<line x1="82.57" x2="91.54" y1="405.85" y2="405.85" stroke="#000" stroke-width="2.1"/>
<line x1="99.02" x2="99.02" y1="385.60" y2="389.41" stroke="#000" stroke-width="1.45"/>
<line x1="99.02" x2="99.02" y1="417.16" y2="421.80" stroke="#000" stroke-width="1.45"/>
<rect x="94.53" y="389.41" width="8.97" height="27.75" fill="#BEBEBE" stroke="#333" stroke-width="1.4"/>
<line x1="94.53" x2="103.50" y1="403.46" y2="403.46" stroke="#000" stroke-width="2.1"/>
<line x1="110.97" x2="110.97" y1="347.13" y2="383.22" stroke="#000" stroke-width="1.45"/>
<line x1="110.97" x2="110.97" y1="427.28" y2="427.88" stroke="#000" stroke-width="1.45"/>
<rect x="106.49" y="383.22" width="8.97" height="44.06" fill="#BEBEBE" stroke="#333" stroke-width="1.4"/>
<line x1="106.49" x2="115.46" y1="396.32" y2="396.32" stroke="#000" stroke-width="2.1"/>
<line x1="122.93" x2="122.93" y1="390.36" y2="390.36" stroke="#000" stroke-width="1.45"/>
<line x1="122.93" x2="122.93" y1="415.61" y2="420.97" stroke="#000" stroke-width="1.45"/>
<rect x="118.45" y="390.36" width="8.97" height="25.25" fill="#BEBEBE" stroke="#333" stroke-width="1.4"/>
<line x1="118.45" x2="127.41" y1="402.27" y2="402.27" stroke="#000" stroke-width="2.1"/>
<line x1="134.89" x2="134.89" y1="377.14" y2="386.31" stroke="#000" stroke-width="1.45"/>
<line x1="134.89" x2="134.89" y1="413.35" y2="420.14" stroke="#000" stroke-width="1.45"/>
<rect x="130.40" y="386.31" width="8.97" height="27.03" fill="#BEBEBE" stroke="#333" stroke-width="1.4"/>
<line x1="130.40" x2="139.37" y1="400.13" y2="400.13" stroke="#000" stroke-width="2.1"/>
<line x1="146.84" x2="146.84" y1="340.58" y2="387.15" stroke="#000" stroke-width="1.45"/>
<line x1="146.84" x2="146.84" y1="425.38" y2="425.61" stroke="#000" stroke-width="1.45"/>
<rect x="142.36" y="387.15" width="8.97" height="38.23" fill="#BEBEBE" stroke="#333" stroke-width="1.4"/>
<line x1="142.36" x2="151.33" y1="408.23" y2="408.23" stroke="#000" stroke-width="2.1"/>
<line x1="158.80" x2="158.80" y1="333.56" y2="370.48" stroke="#000" stroke-width="1.45"/>
<line x1="158.80" x2="158.80" y1="422.52" y2="427.16" stroke="#000" stroke-width="1.45"/>
<rect x="154.32" y="370.48" width="8.97" height="52.04" fill="#BEBEBE" stroke="#333" stroke-width="1.4"/>
<line x1="154.32" x2="163.28" y1="392.75" y2="392.75" stroke="#000" stroke-width="2.1"/>
<line x1="182.71" x2="182.71" y1="365.24" y2="377.14" stroke="#000" stroke-width="1.45"/>
<line x1="182.71" x2="182.71" y1="424.07" y2="427.16" stroke="#000" stroke-width="1.45"/>
<rect x="178.23" y="377.14" width="8.97" height="46.92" fill="#BEBEBE" stroke="#333" stroke-width="1.4"/>
<line x1="178.23" x2="187.20" y1="398.70" y2="398.70" stroke="#000" stroke-width="2.1"/>
<line x1="194.67" x2="194.67" y1="333.56" y2="369.40" stroke="#000" stroke-width="1.45"/>
<line x1="194.67" x2="194.67" y1="423.35" y2="427.88" stroke="#000" stroke-width="1.45"/>
<rect x="190.19" y="369.40" width="8.97" height="53.95" fill="#BEBEBE" stroke="#333" stroke-width="1.4"/>
<line x1="190.19" x2="199.15" y1="391.44" y2="391.44" stroke="#000" stroke-width="2.1"/>
<line x1="206.63" x2="206.63" y1="330.46" y2="382.50" stroke="#000" stroke-width="1.45"/>
<line x1="206.63" x2="206.63" y1="425.38" y2="425.61" stroke="#000" stroke-width="1.45"/>
<rect x="202.14" y="382.50" width="8.97" height="42.87" fill="#BEBEBE" stroke="#333" stroke-width="1.4"/>
<line x1="202.14" x2="211.11" y1="394.77" y2="394.77" stroke="#000" stroke-width="2.1"/>
<line x1="218.58" x2="218.58" y1="330.46" y2="376.31" stroke="#000" stroke-width="1.45"/>
<line x1="218.58" x2="218.58" y1="424.66" y2="424.90" stroke="#000" stroke-width="1.45"/>
<rect x="214.10" y="376.31" width="8.97" height="48.35" fill="#BEBEBE" stroke="#333" stroke-width="1.4"/>
<line x1="214.10" x2="223.07" y1="390.96" y2="390.96" stroke="#000" stroke-width="2.1"/>
<line x1="230.54" x2="230.54" y1="347.37" y2="363.21" stroke="#000" stroke-width="1.45"/>
<line x1="230.54" x2="230.54" y1="417.16" y2="425.61" stroke="#000" stroke-width="1.45"/>
<rect x="226.06" y="363.21" width="8.97" height="53.95" fill="#BEBEBE" stroke="#333" stroke-width="1.4"/>
<line x1="226.06" x2="235.03" y1="384.05" y2="384.05" stroke="#000" stroke-width="2.1"/>
<line x1="242.50" x2="242.50" y1="342.13" y2="376.31" stroke="#000" stroke-width="1.45"/>
<line x1="242.50" x2="242.50" y1="415.61" y2="421.80" stroke="#000" stroke-width="1.45"/>
<rect x="238.01" y="376.31" width="8.97" height="39.30" fill="#BEBEBE" stroke="#333" stroke-width="1.4"/>
<line x1="238.01" x2="246.98" y1="387.86" y2="387.86" stroke="#000" stroke-width="2.1"/>
<line x1="254.46" x2="254.46" y1="323.20" y2="362.50" stroke="#000" stroke-width="1.45"/>
<line x1="254.46" x2="254.46" y1="419.42" y2="425.61" stroke="#000" stroke-width="1.45"/>
<rect x="249.97" y="362.50" width="8.97" height="56.93" fill="#BEBEBE" stroke="#333" stroke-width="1.4"/>
<line x1="249.97" x2="258.94" y1="382.15" y2="382.15" stroke="#000" stroke-width="2.1"/>
<line x1="266.41" x2="266.41" y1="343.20" y2="365.24" stroke="#000" stroke-width="1.45"/>
<line x1="266.41" x2="266.41" y1="418.71" y2="424.90" stroke="#000" stroke-width="1.45"/>
<rect x="261.93" y="365.24" width="8.97" height="53.47" fill="#BEBEBE" stroke="#333" stroke-width="1.4"/>
<line x1="261.93" x2="270.90" y1="383.22" y2="383.22" stroke="#000" stroke-width="2.1"/>
<line x1="278.37" x2="278.37" y1="333.20" y2="373.57" stroke="#000" stroke-width="1.45"/>
<line x1="278.37" x2="278.37" y1="416.44" y2="422.52" stroke="#000" stroke-width="1.45"/>
<rect x="273.89" y="373.57" width="8.97" height="42.87" fill="#BEBEBE" stroke="#333" stroke-width="1.4"/>
<line x1="273.89" x2="282.85" y1="382.50" y2="382.50" stroke="#000" stroke-width="2.1"/>
<line x1="290.33" x2="290.33" y1="323.20" y2="360.59" stroke="#000" stroke-width="1.45"/>
<line x1="290.33" x2="290.33" y1="417.64" y2="424.42" stroke="#000" stroke-width="1.45"/>
<rect x="285.84" y="360.59" width="8.97" height="57.04" fill="#BEBEBE" stroke="#333" stroke-width="1.4"/>
<line x1="285.84" x2="294.81" y1="379.41" y2="379.41" stroke="#000" stroke-width="2.1"/>
<line x1="27.27" x2="27.27" y1="686.05" y2="693.67" stroke="#000" stroke-width="1.45"/>
<line x1="27.27" x2="27.27" y1="703.67" y2="705.22" stroke="#000" stroke-width="1.45"/>
<rect x="22.79" y="693.67" width="8.97" height="10.00" fill="#BEBEBE" stroke="#333" stroke-width="1.4"/>
<line x1="22.79" x2="31.76" y1="698.91" y2="698.91" stroke="#000" stroke-width="2.1"/>
<line x1="39.23" x2="39.23" y1="689.38" y2="695.93" stroke="#000" stroke-width="1.45"/>
<line x1="39.23" x2="39.23" y1="702.96" y2="704.86" stroke="#000" stroke-width="1.45"/>
<rect x="34.75" y="695.93" width="8.97" height="7.03" fill="#BEBEBE" stroke="#333" stroke-width="1.4"/>
<line x1="34.75" x2="43.71" y1="700.10" y2="700.10" stroke="#000" stroke-width="2.1"/>
<line x1="51.19" x2="51.19" y1="687.12" y2="692.95" stroke="#000" stroke-width="1.45"/>
<line x1="51.19" x2="51.19" y1="702.96" y2="704.86" stroke="#000" stroke-width="1.45"/>
<rect x="46.70" y="692.95" width="8.97" height="10.00" fill="#BEBEBE" stroke="#333" stroke-width="1.4"/>
<line x1="46.70" x2="55.67" y1="697.72" y2="697.72" stroke="#000" stroke-width="2.1"/>
<line x1="63.14" x2="63.14" y1="683.90" y2="691.76" stroke="#000" stroke-width="1.45"/>
<line x1="63.14" x2="63.14" y1="701.29" y2="703.67" stroke="#000" stroke-width="1.45"/>
<rect x="58.66" y="691.76" width="8.97" height="9.53" fill="#BEBEBE" stroke="#333" stroke-width="1.4"/>
<line x1="58.66" x2="67.63" y1="696.53" y2="696.53" stroke="#000" stroke-width="2.1"/>
<line x1="75.10" x2="75.10" y1="685.45" y2="689.38" stroke="#000" stroke-width="1.45"/>
<line x1="75.10" x2="75.10" y1="700.10" y2="702.48" stroke="#000" stroke-width="1.45"/>
<rect x="70.62" y="689.38" width="8.97" height="10.72" fill="#BEBEBE" stroke="#333" stroke-width="1.4"/>
<line x1="70.62" x2="79.59" y1="695.34" y2="695.34" stroke="#000" stroke-width="2.1"/>
<line x1="87.06" x2="87.06" y1="660.20" y2="678.31" stroke="#000" stroke-width="1.45"/>
<line x1="87.06" x2="87.06" y1="696.77" y2="703.67" stroke="#000" stroke-width="1.45"/>
<rect x="82.57" y="678.31" width="8.97" height="18.46" fill="#BEBEBE" stroke="#333" stroke-width="1.4"/>
<line x1="82.57" x2="91.54" y1="683.43" y2="683.43" stroke="#000" stroke-width="2.1"/>
<line x1="99.02" x2="99.02" y1="667.95" y2="678.31" stroke="#000" stroke-width="1.45"/>
<line x1="99.02" x2="99.02" y1="686.40" y2="692.95" stroke="#000" stroke-width="1.45"/>
<rect x="94.53" y="678.31" width="8.97" height="8.10" fill="#BEBEBE" stroke="#333" stroke-width="1.4"/>
<line x1="94.53" x2="103.50" y1="683.43" y2="683.43" stroke="#000" stroke-width="2.1"/>
<line x1="110.97" x2="110.97" y1="639.36" y2="671.04" stroke="#000" stroke-width="1.45"/>
<line x1="110.97" x2="110.97" y1="696.29" y2="706.05" stroke="#000" stroke-width="1.45"/>
<rect x="106.49" y="671.04" width="8.97" height="25.25" fill="#BEBEBE" stroke="#333" stroke-width="1.4"/>
<line x1="106.49" x2="115.46" y1="679.02" y2="679.02" stroke="#000" stroke-width="2.1"/>
<line x1="122.93" x2="122.93" y1="647.94" y2="669.02" stroke="#000" stroke-width="1.45"/>
<line x1="122.93" x2="122.93" y1="686.40" y2="702.12" stroke="#000" stroke-width="1.45"/>
<rect x="118.45" y="669.02" width="8.97" height="17.39" fill="#BEBEBE" stroke="#333" stroke-width="1.4"/>
<line x1="118.45" x2="127.41" y1="677.47" y2="677.47" stroke="#000" stroke-width="2.1"/>
<line x1="134.89" x2="134.89" y1="664.37" y2="676.04" stroke="#000" stroke-width="1.45"/>
<line x1="134.89" x2="134.89" y1="687.48" y2="702.12" stroke="#000" stroke-width="1.45"/>
<rect x="130.40" y="676.04" width="8.97" height="11.43" fill="#BEBEBE" stroke="#333" stroke-width="1.4"/>
<line x1="130.40" x2="139.37" y1="681.05" y2="681.05" stroke="#000" stroke-width="2.1"/>
<line x1="146.84" x2="146.84" y1="653.18" y2="664.37" stroke="#000" stroke-width="1.45"/>
<line x1="146.84" x2="146.84" y1="686.76" y2="697.48" stroke="#000" stroke-width="1.45"/>
<rect x="142.36" y="664.37" width="8.97" height="22.39" fill="#BEBEBE" stroke="#333" stroke-width="1.4"/>
<line x1="142.36" x2="151.33" y1="675.21" y2="675.21" stroke="#000" stroke-width="2.1"/>
<line x1="158.80" x2="158.80" y1="627.93" y2="644.37" stroke="#000" stroke-width="1.45"/>
<line x1="158.80" x2="158.80" y1="682.83" y2="703.67" stroke="#000" stroke-width="1.45"/>
<rect x="154.32" y="644.37" width="8.97" height="38.47" fill="#BEBEBE" stroke="#333" stroke-width="1.4"/>
<line x1="154.32" x2="163.28" y1="669.73" y2="669.73" stroke="#000" stroke-width="2.1"/>
<line x1="182.71" x2="182.71" y1="631.62" y2="652.58" stroke="#000" stroke-width="1.45"/>
<line x1="182.71" x2="182.71" y1="683.67" y2="704.51" stroke="#000" stroke-width="1.45"/>
<rect x="178.23" y="652.58" width="8.97" height="31.08" fill="#BEBEBE" stroke="#333" stroke-width="1.4"/>
<line x1="178.23" x2="187.20" y1="671.52" y2="671.52" stroke="#000" stroke-width="2.1"/>
<line x1="194.67" x2="194.67" y1="631.62" y2="641.03" stroke="#000" stroke-width="1.45"/>
<line x1="194.67" x2="194.67" y1="678.66" y2="702.96" stroke="#000" stroke-width="1.45"/>
<rect x="190.19" y="641.03" width="8.97" height="37.63" fill="#BEBEBE" stroke="#333" stroke-width="1.4"/>
<line x1="190.19" x2="199.15" y1="661.99" y2="661.99" stroke="#000" stroke-width="2.1"/>
<line x1="206.63" x2="206.63" y1="647.94" y2="659.85" stroke="#000" stroke-width="1.45"/>
<line x1="206.63" x2="206.63" y1="677.47" y2="701.29" stroke="#000" stroke-width="1.45"/>
<rect x="202.14" y="659.85" width="8.97" height="17.63" fill="#BEBEBE" stroke="#333" stroke-width="1.4"/>
<line x1="202.14" x2="211.11" y1="667.47" y2="667.47" stroke="#000" stroke-width="2.1"/>
<line x1="218.58" x2="218.58" y1="647.94" y2="659.85" stroke="#000" stroke-width="1.45"/>
<line x1="218.58" x2="218.58" y1="677.47" y2="701.29" stroke="#000" stroke-width="1.45"/>
<rect x="214.10" y="659.85" width="8.97" height="17.63" fill="#BEBEBE" stroke="#333" stroke-width="1.4"/>
<line x1="214.10" x2="223.07" y1="667.47" y2="667.47" stroke="#000" stroke-width="2.1"/>
<line x1="230.54" x2="230.54" y1="623.29" y2="631.98" stroke="#000" stroke-width="1.45"/>
<line x1="230.54" x2="230.54" y1="686.40" y2="702.12" stroke="#000" stroke-width="1.45"/>
<rect x="226.06" y="631.98" width="8.97" height="54.42" fill="#BEBEBE" stroke="#333" stroke-width="1.4"/>
<line x1="226.06" x2="235.03" y1="659.01" y2="659.01" stroke="#000" stroke-width="2.1"/>
<line x1="242.50" x2="242.50" y1="606.38" y2="637.46" stroke="#000" stroke-width="1.45"/>
<line x1="242.50" x2="242.50" y1="681.40" y2="701.29" stroke="#000" stroke-width="1.45"/>
<rect x="238.01" y="637.46" width="8.97" height="43.94" fill="#BEBEBE" stroke="#333" stroke-width="1.4"/>
<line x1="238.01" x2="246.98" y1="658.30" y2="658.30" stroke="#000" stroke-width="2.1"/>
<line x1="254.46" x2="254.46" y1="615.55" y2="631.62" stroke="#000" stroke-width="1.45"/>
<line x1="254.46" x2="254.46" y1="684.02" y2="704.39" stroke="#000" stroke-width="1.45"/>
<rect x="249.97" y="631.62" width="8.97" height="52.40" fill="#BEBEBE" stroke="#333" stroke-width="1.4"/>
<line x1="249.97" x2="258.94" y1="663.66" y2="663.66" stroke="#000" stroke-width="2.1"/>
<line x1="266.41" x2="266.41" y1="606.38" y2="630.55" stroke="#000" stroke-width="1.45"/>
<line x1="266.41" x2="266.41" y1="678.31" y2="704.39" stroke="#000" stroke-width="1.45"/>
<rect x="261.93" y="630.55" width="8.97" height="47.76" fill="#BEBEBE" stroke="#333" stroke-width="1.4"/>
<line x1="261.93" x2="270.90" y1="662.11" y2="662.11" stroke="#000" stroke-width="2.1"/>
<line x1="278.37" x2="278.37" y1="588.15" y2="638.17" stroke="#000" stroke-width="1.45"/>
<line x1="278.37" x2="278.37" y1="684.38" y2="704.39" stroke="#000" stroke-width="1.45"/>
<rect x="273.89" y="638.17" width="8.97" height="46.21" fill="#BEBEBE" stroke="#333" stroke-width="1.4"/>
<line x1="273.89" x2="282.85" y1="662.11" y2="662.11" stroke="#000" stroke-width="2.1"/>
<line x1="290.33" x2="290.33" y1="588.15" y2="638.17" stroke="#000" stroke-width="1.45"/>
<line x1="290.33" x2="290.33" y1="684.38" y2="704.39" stroke="#000" stroke-width="1.45"/>
<rect x="285.84" y="638.17" width="8.97" height="46.21" fill="#BEBEBE" stroke="#333" stroke-width="1.4"/>
<line x1="285.84" x2="294.81" y1="662.11" y2="662.11" stroke="#000" stroke-width="2.1"/>
<line x1="20.10" x2="297.50" y1="128.26" y2="128.26" stroke="#D93535" stroke-width="1.6"/>
<circle cx="27.27" cy="154.46" r="1.45" fill="#000"/>
<circle cx="27.27" cy="149.70" r="1.45" fill="#000"/>
<circle cx="24.37" cy="142.55" r="1.45" fill="#000"/>
<circle cx="27.27" cy="142.55" r="1.45" fill="#000"/>
<circle cx="30.17" cy="142.55" r="1.45" fill="#000"/>
<circle cx="21.47" cy="138.98" r="1.45" fill="#000"/>
<circle cx="24.37" cy="138.98" r="1.45" fill="#000"/>
<circle cx="27.27" cy="138.98" r="1.45" fill="#000"/>
<circle cx="30.17" cy="138.98" r="1.45" fill="#000"/>
<circle cx="33.07" cy="138.98" r="1.45" fill="#000"/>
<circle cx="21.47" cy="136.38" r="1.45" fill="#000"/>
<circle cx="24.37" cy="136.38" r="1.45" fill="#000"/>
<circle cx="27.27" cy="136.38" r="1.45" fill="#000"/>
<circle cx="30.17" cy="136.38" r="1.45" fill="#000"/>
<circle cx="33.07" cy="136.38" r="1.45" fill="#000"/>
<circle cx="27.27" cy="135.41" r="1.45" fill="#000"/>
<circle cx="27.27" cy="131.84" r="1.45" fill="#000"/>
<circle cx="27.27" cy="128.74" r="1.45" fill="#000"/>
<circle cx="36.33" cy="153.27" r="1.45" fill="#000"/>
<circle cx="39.23" cy="153.27" r="1.45" fill="#000"/>
<circle cx="42.13" cy="153.27" r="1.45" fill="#000"/>
<circle cx="34.88" cy="149.70" r="1.45" fill="#000"/>
<circle cx="37.78" cy="149.70" r="1.45" fill="#000"/>
<circle cx="40.68" cy="149.70" r="1.45" fill="#000"/>
<circle cx="43.58" cy="149.70" r="1.45" fill="#000"/>
<circle cx="36.33" cy="146.13" r="1.45" fill="#000"/>
<circle cx="39.23" cy="146.13" r="1.45" fill="#000"/>
<circle cx="42.13" cy="146.13" r="1.45" fill="#000"/>
<circle cx="37.78" cy="142.55" r="1.45" fill="#000"/>
<circle cx="40.68" cy="142.55" r="1.45" fill="#000"/>
<circle cx="39.23" cy="138.98" r="1.45" fill="#000"/>
<circle cx="39.23" cy="127.55" r="1.45" fill="#000"/>
<circle cx="39.23" cy="117.55" r="1.45" fill="#000"/>
<circle cx="39.23" cy="101.35" r="1.45" fill="#000"/>
<circle cx="39.23" cy="95.16" r="1.45" fill="#000"/>
<circle cx="39.23" cy="82.06" r="1.45" fill="#000"/>
<circle cx="51.19" cy="153.27" r="1.45" fill="#000"/>
<circle cx="49.74" cy="149.70" r="1.45" fill="#000"/>
<circle cx="52.64" cy="149.70" r="1.45" fill="#000"/>
<circle cx="46.84" cy="142.55" r="1.45" fill="#000"/>
<circle cx="49.74" cy="142.55" r="1.45" fill="#000"/>
<circle cx="52.64" cy="142.55" r="1.45" fill="#000"/>
<circle cx="55.54" cy="142.55" r="1.45" fill="#000"/>
<circle cx="46.84" cy="138.98" r="1.45" fill="#000"/>
<circle cx="49.74" cy="138.98" r="1.45" fill="#000"/>
<circle cx="52.64" cy="138.98" r="1.45" fill="#000"/>
<circle cx="55.54" cy="138.98" r="1.45" fill="#000"/>
<circle cx="51.19" cy="135.41" r="1.45" fill="#000"/>
<circle cx="51.19" cy="131.84" r="1.45" fill="#000"/>
<circle cx="49.74" cy="128.26" r="1.45" fill="#000"/>
<circle cx="52.64" cy="128.26" r="1.45" fill="#000"/>
<circle cx="51.19" cy="117.55" r="1.45" fill="#000"/>
<circle cx="49.74" cy="108.02" r="1.45" fill="#000"/>
<circle cx="52.64" cy="108.02" r="1.45" fill="#000"/>
<circle cx="61.69" cy="153.27" r="1.45" fill="#000"/>
<circle cx="64.59" cy="153.27" r="1.45" fill="#000"/>
<circle cx="63.14" cy="149.70" r="1.45" fill="#000"/>
<circle cx="57.34" cy="146.13" r="1.45" fill="#000"/>
<circle cx="60.24" cy="146.13" r="1.45" fill="#000"/>
<circle cx="63.14" cy="146.13" r="1.45" fill="#000"/>
<circle cx="66.04" cy="146.13" r="1.45" fill="#000"/>
<circle cx="68.94" cy="146.13" r="1.45" fill="#000"/>
<circle cx="60.24" cy="142.55" r="1.45" fill="#000"/>
<circle cx="63.14" cy="142.55" r="1.45" fill="#000"/>
<circle cx="66.04" cy="142.55" r="1.45" fill="#000"/>
<circle cx="63.14" cy="138.98" r="1.45" fill="#000"/>
<circle cx="61.69" cy="131.84" r="1.45" fill="#000"/>
<circle cx="64.59" cy="131.84" r="1.45" fill="#000"/>
<circle cx="63.14" cy="121.36" r="1.45" fill="#000"/>
<circle cx="63.14" cy="112.90" r="1.45" fill="#000"/>
<circle cx="63.14" cy="109.21" r="1.45" fill="#000"/>
<circle cx="63.14" cy="95.16" r="1.45" fill="#000"/>
<circle cx="75.10" cy="153.27" r="1.45" fill="#000"/>
<circle cx="75.10" cy="149.70" r="1.45" fill="#000"/>
<circle cx="69.30" cy="146.13" r="1.45" fill="#000"/>
<circle cx="72.20" cy="146.13" r="1.45" fill="#000"/>
<circle cx="75.10" cy="146.13" r="1.45" fill="#000"/>
<circle cx="78.00" cy="146.13" r="1.45" fill="#000"/>
<circle cx="80.90" cy="146.13" r="1.45" fill="#000"/>
<circle cx="73.65" cy="143.53" r="1.45" fill="#000"/>
<circle cx="76.55" cy="143.53" r="1.45" fill="#000"/>
<circle cx="75.10" cy="142.55" r="1.45" fill="#000"/>
<circle cx="73.65" cy="138.98" r="1.45" fill="#000"/>
<circle cx="76.55" cy="138.98" r="1.45" fill="#000"/>
<circle cx="75.10" cy="135.41" r="1.45" fill="#000"/>
<circle cx="75.10" cy="131.84" r="1.45" fill="#000"/>
<circle cx="73.65" cy="114.45" r="1.45" fill="#000"/>
<circle cx="76.55" cy="114.45" r="1.45" fill="#000"/>
<circle cx="75.10" cy="107.30" r="1.45" fill="#000"/>
<circle cx="75.10" cy="101.35" r="1.45" fill="#000"/>
<circle cx="85.61" cy="153.27" r="1.45" fill="#000"/>
<circle cx="88.51" cy="153.27" r="1.45" fill="#000"/>
<circle cx="85.61" cy="146.13" r="1.45" fill="#000"/>
<circle cx="88.51" cy="146.13" r="1.45" fill="#000"/>
<circle cx="82.71" cy="142.55" r="1.45" fill="#000"/>
<circle cx="85.61" cy="142.55" r="1.45" fill="#000"/>
<circle cx="88.51" cy="142.55" r="1.45" fill="#000"/>
<circle cx="91.41" cy="142.55" r="1.45" fill="#000"/>
<circle cx="85.61" cy="138.98" r="1.45" fill="#000"/>
<circle cx="88.51" cy="138.98" r="1.45" fill="#000"/>
<circle cx="84.16" cy="135.41" r="1.45" fill="#000"/>
<circle cx="87.06" cy="135.41" r="1.45" fill="#000"/>
<circle cx="89.96" cy="135.41" r="1.45" fill="#000"/>
<circle cx="87.06" cy="131.84" r="1.45" fill="#000"/>
<circle cx="84.16" cy="128.26" r="1.45" fill="#000"/>
<circle cx="87.06" cy="128.26" r="1.45" fill="#000"/>
<circle cx="89.96" cy="128.26" r="1.45" fill="#000"/>
<circle cx="87.06" cy="121.12" r="1.45" fill="#000"/>
<circle cx="97.57" cy="153.27" r="1.45" fill="#000"/>
<circle cx="100.47" cy="153.27" r="1.45" fill="#000"/>
<circle cx="96.12" cy="142.55" r="1.45" fill="#000"/>
<circle cx="99.02" cy="142.55" r="1.45" fill="#000"/>
<circle cx="101.92" cy="142.55" r="1.45" fill="#000"/>
<circle cx="93.22" cy="138.98" r="1.45" fill="#000"/>
<circle cx="96.12" cy="138.98" r="1.45" fill="#000"/>
<circle cx="99.02" cy="138.98" r="1.45" fill="#000"/>
<circle cx="101.92" cy="138.98" r="1.45" fill="#000"/>
<circle cx="104.82" cy="138.98" r="1.45" fill="#000"/>
<circle cx="93.22" cy="136.38" r="1.45" fill="#000"/>
<circle cx="96.12" cy="136.38" r="1.45" fill="#000"/>
<circle cx="99.02" cy="136.38" r="1.45" fill="#000"/>
<circle cx="101.92" cy="136.38" r="1.45" fill="#000"/>
<circle cx="104.82" cy="136.38" r="1.45" fill="#000"/>
<circle cx="99.02" cy="131.84" r="1.45" fill="#000"/>
<circle cx="99.02" cy="124.45" r="1.45" fill="#000"/>
<circle cx="99.02" cy="83.01" r="1.45" fill="#000"/>
<circle cx="110.97" cy="156.85" r="1.45" fill="#000"/>
<circle cx="105.17" cy="153.27" r="1.45" fill="#000"/>
<circle cx="108.07" cy="153.27" r="1.45" fill="#000"/>
<circle cx="110.97" cy="153.27" r="1.45" fill="#000"/>
<circle cx="113.87" cy="153.27" r="1.45" fill="#000"/>
<circle cx="116.77" cy="153.27" r="1.45" fill="#000"/>
<circle cx="109.52" cy="150.67" r="1.45" fill="#000"/>
<circle cx="112.42" cy="150.67" r="1.45" fill="#000"/>
<circle cx="110.97" cy="149.70" r="1.45" fill="#000"/>
<circle cx="108.07" cy="146.13" r="1.45" fill="#000"/>
<circle cx="110.97" cy="146.13" r="1.45" fill="#000"/>
<circle cx="113.87" cy="146.13" r="1.45" fill="#000"/>
<circle cx="109.52" cy="142.55" r="1.45" fill="#000"/>
<circle cx="112.42" cy="142.55" r="1.45" fill="#000"/>
<circle cx="110.97" cy="135.41" r="1.45" fill="#000"/>
<circle cx="110.97" cy="128.26" r="1.45" fill="#000"/>
<circle cx="110.97" cy="113.97" r="1.45" fill="#000"/>
<circle cx="110.97" cy="82.06" r="1.45" fill="#000"/>
<circle cx="122.93" cy="149.70" r="1.45" fill="#000"/>
<circle cx="122.93" cy="146.13" r="1.45" fill="#000"/>
<circle cx="117.13" cy="142.55" r="1.45" fill="#000"/>
<circle cx="120.03" cy="142.55" r="1.45" fill="#000"/>
<circle cx="122.93" cy="142.55" r="1.45" fill="#000"/>
<circle cx="125.83" cy="142.55" r="1.45" fill="#000"/>
<circle cx="128.73" cy="142.55" r="1.45" fill="#000"/>
<circle cx="120.03" cy="138.98" r="1.45" fill="#000"/>
<circle cx="122.93" cy="138.98" r="1.45" fill="#000"/>
<circle cx="125.83" cy="138.98" r="1.45" fill="#000"/>
<circle cx="120.03" cy="135.41" r="1.45" fill="#000"/>
<circle cx="122.93" cy="135.41" r="1.45" fill="#000"/>
<circle cx="125.83" cy="135.41" r="1.45" fill="#000"/>
<circle cx="122.93" cy="131.84" r="1.45" fill="#000"/>
<circle cx="121.48" cy="128.26" r="1.45" fill="#000"/>
<circle cx="124.38" cy="128.26" r="1.45" fill="#000"/>
<circle cx="122.93" cy="122.31" r="1.45" fill="#000"/>
<circle cx="122.93" cy="82.06" r="1.45" fill="#000"/>
<circle cx="131.99" cy="149.70" r="1.45" fill="#000"/>
<circle cx="134.89" cy="149.70" r="1.45" fill="#000"/>
<circle cx="137.79" cy="149.70" r="1.45" fill="#000"/>
<circle cx="134.89" cy="146.13" r="1.45" fill="#000"/>
<circle cx="133.44" cy="142.55" r="1.45" fill="#000"/>
<circle cx="136.34" cy="142.55" r="1.45" fill="#000"/>
<circle cx="133.44" cy="128.26" r="1.45" fill="#000"/>
<circle cx="136.34" cy="128.26" r="1.45" fill="#000"/>
<circle cx="134.89" cy="124.69" r="1.45" fill="#000"/>
<circle cx="133.44" cy="121.12" r="1.45" fill="#000"/>
<circle cx="136.34" cy="121.12" r="1.45" fill="#000"/>
<circle cx="133.44" cy="117.55" r="1.45" fill="#000"/>
<circle cx="136.34" cy="117.55" r="1.45" fill="#000"/>
<circle cx="133.44" cy="113.97" r="1.45" fill="#000"/>
<circle cx="136.34" cy="113.97" r="1.45" fill="#000"/>
<circle cx="133.44" cy="110.40" r="1.45" fill="#000"/>
<circle cx="136.34" cy="110.40" r="1.45" fill="#000"/>
<circle cx="134.89" cy="103.25" r="1.45" fill="#000"/>
<circle cx="146.84" cy="149.70" r="1.45" fill="#000"/>
<circle cx="146.84" cy="146.13" r="1.45" fill="#000"/>
<circle cx="145.39" cy="135.41" r="1.45" fill="#000"/>
<circle cx="148.29" cy="135.41" r="1.45" fill="#000"/>
<circle cx="146.84" cy="131.84" r="1.45" fill="#000"/>
<circle cx="146.84" cy="128.26" r="1.45" fill="#000"/>
<circle cx="146.84" cy="124.69" r="1.45" fill="#000"/>
<circle cx="146.84" cy="121.12" r="1.45" fill="#000"/>
<circle cx="145.39" cy="117.55" r="1.45" fill="#000"/>
<circle cx="148.29" cy="117.55" r="1.45" fill="#000"/>
<circle cx="146.84" cy="113.97" r="1.45" fill="#000"/>
<circle cx="145.39" cy="106.83" r="1.45" fill="#000"/>
<circle cx="148.29" cy="106.83" r="1.45" fill="#000"/>
<circle cx="143.94" cy="103.25" r="1.45" fill="#000"/>
<circle cx="146.84" cy="103.25" r="1.45" fill="#000"/>
<circle cx="149.74" cy="103.25" r="1.45" fill="#000"/>
<circle cx="146.84" cy="99.32" r="1.45" fill="#000"/>
<circle cx="146.84" cy="94.44" r="1.45" fill="#000"/>
<circle cx="158.80" cy="153.27" r="1.45" fill="#000"/>
<circle cx="155.90" cy="149.70" r="1.45" fill="#000"/>
<circle cx="158.80" cy="149.70" r="1.45" fill="#000"/>
<circle cx="161.70" cy="149.70" r="1.45" fill="#000"/>
<circle cx="153.00" cy="146.13" r="1.45" fill="#000"/>
<circle cx="155.90" cy="146.13" r="1.45" fill="#000"/>
<circle cx="158.80" cy="146.13" r="1.45" fill="#000"/>
<circle cx="161.70" cy="146.13" r="1.45" fill="#000"/>
<circle cx="164.60" cy="146.13" r="1.45" fill="#000"/>
<circle cx="154.45" cy="143.53" r="1.45" fill="#000"/>
<circle cx="157.35" cy="143.53" r="1.45" fill="#000"/>
<circle cx="160.25" cy="143.53" r="1.45" fill="#000"/>
<circle cx="163.15" cy="143.53" r="1.45" fill="#000"/>
<circle cx="158.80" cy="142.55" r="1.45" fill="#000"/>
<circle cx="158.80" cy="132.07" r="1.45" fill="#000"/>
<circle cx="158.80" cy="121.24" r="1.45" fill="#000"/>
<circle cx="158.80" cy="115.88" r="1.45" fill="#000"/>
<circle cx="158.80" cy="82.06" r="1.45" fill="#000"/>
<circle cx="169.31" cy="149.70" r="1.45" fill="#000"/>
<circle cx="172.21" cy="149.70" r="1.45" fill="#000"/>
<circle cx="169.31" cy="142.55" r="1.45" fill="#000"/>
<circle cx="172.21" cy="142.55" r="1.45" fill="#000"/>
<circle cx="170.76" cy="138.98" r="1.45" fill="#000"/>
<circle cx="170.76" cy="135.41" r="1.45" fill="#000"/>
<circle cx="169.31" cy="128.26" r="1.45" fill="#000"/>
<circle cx="172.21" cy="128.26" r="1.45" fill="#000"/>
<circle cx="170.76" cy="124.69" r="1.45" fill="#000"/>
<circle cx="170.76" cy="121.12" r="1.45" fill="#000"/>
<circle cx="166.41" cy="117.55" r="1.45" fill="#000"/>
<circle cx="169.31" cy="117.55" r="1.45" fill="#000"/>
<circle cx="172.21" cy="117.55" r="1.45" fill="#000"/>
<circle cx="175.11" cy="117.55" r="1.45" fill="#000"/>
<circle cx="170.76" cy="113.97" r="1.45" fill="#000"/>
<circle cx="170.76" cy="110.40" r="1.45" fill="#000"/>
<circle cx="170.76" cy="99.68" r="1.45" fill="#000"/>
<circle cx="170.76" cy="85.39" r="1.45" fill="#000"/>
<circle cx="182.71" cy="153.27" r="1.45" fill="#000"/>
<circle cx="181.26" cy="146.13" r="1.45" fill="#000"/>
<circle cx="184.16" cy="146.13" r="1.45" fill="#000"/>
<circle cx="178.36" cy="142.55" r="1.45" fill="#000"/>
<circle cx="181.26" cy="142.55" r="1.45" fill="#000"/>
<circle cx="184.16" cy="142.55" r="1.45" fill="#000"/>
<circle cx="187.06" cy="142.55" r="1.45" fill="#000"/>
<circle cx="182.71" cy="138.98" r="1.45" fill="#000"/>
<circle cx="182.71" cy="135.41" r="1.45" fill="#000"/>
<circle cx="182.71" cy="128.26" r="1.45" fill="#000"/>
<circle cx="181.26" cy="121.12" r="1.45" fill="#000"/>
<circle cx="184.16" cy="121.12" r="1.45" fill="#000"/>
<circle cx="181.26" cy="117.55" r="1.45" fill="#000"/>
<circle cx="184.16" cy="117.55" r="1.45" fill="#000"/>
<circle cx="182.71" cy="113.97" r="1.45" fill="#000"/>
<circle cx="181.26" cy="110.40" r="1.45" fill="#000"/>
<circle cx="184.16" cy="110.40" r="1.45" fill="#000"/>
<circle cx="182.71" cy="88.96" r="1.45" fill="#000"/>
<circle cx="191.77" cy="153.27" r="1.45" fill="#000"/>
<circle cx="194.67" cy="153.27" r="1.45" fill="#000"/>
<circle cx="197.57" cy="153.27" r="1.45" fill="#000"/>
<circle cx="193.22" cy="146.13" r="1.45" fill="#000"/>
<circle cx="196.12" cy="146.13" r="1.45" fill="#000"/>
<circle cx="193.22" cy="142.55" r="1.45" fill="#000"/>
<circle cx="196.12" cy="142.55" r="1.45" fill="#000"/>
<circle cx="193.22" cy="135.41" r="1.45" fill="#000"/>
<circle cx="196.12" cy="135.41" r="1.45" fill="#000"/>
<circle cx="191.77" cy="121.12" r="1.45" fill="#000"/>
<circle cx="194.67" cy="121.12" r="1.45" fill="#000"/>
<circle cx="197.57" cy="121.12" r="1.45" fill="#000"/>
<circle cx="191.77" cy="117.55" r="1.45" fill="#000"/>
<circle cx="194.67" cy="117.55" r="1.45" fill="#000"/>
<circle cx="197.57" cy="117.55" r="1.45" fill="#000"/>
<circle cx="194.67" cy="103.25" r="1.45" fill="#000"/>
<circle cx="194.67" cy="96.11" r="1.45" fill="#000"/>
<circle cx="194.67" cy="81.82" r="1.45" fill="#000"/>
<circle cx="203.73" cy="149.70" r="1.45" fill="#000"/>
<circle cx="206.63" cy="149.70" r="1.45" fill="#000"/>
<circle cx="209.53" cy="149.70" r="1.45" fill="#000"/>
<circle cx="206.63" cy="142.55" r="1.45" fill="#000"/>
<circle cx="205.18" cy="135.41" r="1.45" fill="#000"/>
<circle cx="208.08" cy="135.41" r="1.45" fill="#000"/>
<circle cx="205.18" cy="131.84" r="1.45" fill="#000"/>
<circle cx="208.08" cy="131.84" r="1.45" fill="#000"/>
<circle cx="206.63" cy="128.26" r="1.45" fill="#000"/>
<circle cx="206.63" cy="103.25" r="1.45" fill="#000"/>
<circle cx="205.18" cy="99.68" r="1.45" fill="#000"/>
<circle cx="208.08" cy="99.68" r="1.45" fill="#000"/>
<circle cx="206.63" cy="92.54" r="1.45" fill="#000"/>
<circle cx="206.63" cy="88.96" r="1.45" fill="#000"/>
<circle cx="206.63" cy="53.24" r="1.45" fill="#000"/>
<circle cx="206.63" cy="43.41" r="1.45" fill="#000"/>
<circle cx="206.63" cy="37.83" r="1.45" fill="#000"/>
<circle cx="206.63" cy="37.75" r="1.45" fill="#000"/>
<circle cx="215.68" cy="149.70" r="1.45" fill="#000"/>
<circle cx="218.58" cy="149.70" r="1.45" fill="#000"/>
<circle cx="221.48" cy="149.70" r="1.45" fill="#000"/>
<circle cx="218.58" cy="142.55" r="1.45" fill="#000"/>
<circle cx="217.13" cy="135.41" r="1.45" fill="#000"/>
<circle cx="220.03" cy="135.41" r="1.45" fill="#000"/>
<circle cx="217.13" cy="131.84" r="1.45" fill="#000"/>
<circle cx="220.03" cy="131.84" r="1.45" fill="#000"/>
<circle cx="218.58" cy="128.26" r="1.45" fill="#000"/>
<circle cx="218.58" cy="103.25" r="1.45" fill="#000"/>
<circle cx="217.13" cy="99.68" r="1.45" fill="#000"/>
<circle cx="220.03" cy="99.68" r="1.45" fill="#000"/>
<circle cx="218.58" cy="92.54" r="1.45" fill="#000"/>
<circle cx="218.58" cy="88.96" r="1.45" fill="#000"/>
<circle cx="218.58" cy="53.24" r="1.45" fill="#000"/>
<circle cx="218.58" cy="43.41" r="1.45" fill="#000"/>
<circle cx="218.58" cy="37.83" r="1.45" fill="#000"/>
<circle cx="218.58" cy="37.75" r="1.45" fill="#000"/>
<circle cx="230.54" cy="153.27" r="1.45" fill="#000"/>
<circle cx="230.54" cy="149.70" r="1.45" fill="#000"/>
<circle cx="230.54" cy="142.55" r="1.45" fill="#000"/>
<circle cx="230.54" cy="135.41" r="1.45" fill="#000"/>
<circle cx="230.54" cy="131.84" r="1.45" fill="#000"/>
<circle cx="230.54" cy="128.26" r="1.45" fill="#000"/>
<circle cx="230.54" cy="124.69" r="1.45" fill="#000"/>
<circle cx="229.09" cy="117.55" r="1.45" fill="#000"/>
<circle cx="231.99" cy="117.55" r="1.45" fill="#000"/>
<circle cx="230.54" cy="103.25" r="1.45" fill="#000"/>
<circle cx="230.54" cy="99.68" r="1.45" fill="#000"/>
<circle cx="229.09" cy="96.11" r="1.45" fill="#000"/>
<circle cx="231.99" cy="96.11" r="1.45" fill="#000"/>
<circle cx="230.54" cy="92.54" r="1.45" fill="#000"/>
<circle cx="230.54" cy="88.96" r="1.45" fill="#000"/>
<circle cx="230.54" cy="81.82" r="1.45" fill="#000"/>
<circle cx="230.54" cy="78.25" r="1.45" fill="#000"/>
<circle cx="230.54" cy="74.67" r="1.45" fill="#000"/>
<circle cx="242.50" cy="149.70" r="1.45" fill="#000"/>
<circle cx="242.50" cy="142.55" r="1.45" fill="#000"/>
<circle cx="242.50" cy="138.98" r="1.45" fill="#000"/>
<circle cx="242.50" cy="135.41" r="1.45" fill="#000"/>
<circle cx="242.50" cy="131.84" r="1.45" fill="#000"/>
<circle cx="241.05" cy="128.26" r="1.45" fill="#000"/>
<circle cx="243.95" cy="128.26" r="1.45" fill="#000"/>
<circle cx="242.50" cy="117.55" r="1.45" fill="#000"/>
<circle cx="239.60" cy="113.97" r="1.45" fill="#000"/>
<circle cx="242.50" cy="113.97" r="1.45" fill="#000"/>
<circle cx="245.40" cy="113.97" r="1.45" fill="#000"/>
<circle cx="239.60" cy="103.25" r="1.45" fill="#000"/>
<circle cx="242.50" cy="103.25" r="1.45" fill="#000"/>
<circle cx="245.40" cy="103.25" r="1.45" fill="#000"/>
<circle cx="242.50" cy="96.11" r="1.45" fill="#000"/>
<circle cx="242.50" cy="92.54" r="1.45" fill="#000"/>
<circle cx="242.50" cy="74.67" r="1.45" fill="#000"/>
<circle cx="242.50" cy="60.38" r="1.45" fill="#000"/>
<circle cx="254.46" cy="149.70" r="1.45" fill="#000"/>
<circle cx="254.46" cy="146.13" r="1.45" fill="#000"/>
<circle cx="254.46" cy="142.55" r="1.45" fill="#000"/>
<circle cx="253.01" cy="135.41" r="1.45" fill="#000"/>
<circle cx="255.91" cy="135.41" r="1.45" fill="#000"/>
<circle cx="253.01" cy="131.84" r="1.45" fill="#000"/>
<circle cx="255.91" cy="131.84" r="1.45" fill="#000"/>
<circle cx="251.56" cy="128.26" r="1.45" fill="#000"/>
<circle cx="254.46" cy="128.26" r="1.45" fill="#000"/>
<circle cx="257.36" cy="128.26" r="1.45" fill="#000"/>
<circle cx="254.46" cy="121.12" r="1.45" fill="#000"/>
<circle cx="253.01" cy="113.97" r="1.45" fill="#000"/>
<circle cx="255.91" cy="113.97" r="1.45" fill="#000"/>
<circle cx="254.46" cy="106.83" r="1.45" fill="#000"/>
<circle cx="254.46" cy="99.68" r="1.45" fill="#000"/>
<circle cx="254.46" cy="92.54" r="1.45" fill="#000"/>
<circle cx="253.01" cy="71.10" r="1.45" fill="#000"/>
<circle cx="255.91" cy="71.10" r="1.45" fill="#000"/>
<circle cx="266.41" cy="149.70" r="1.45" fill="#000"/>
<circle cx="266.41" cy="146.13" r="1.45" fill="#000"/>
<circle cx="266.41" cy="142.55" r="1.45" fill="#000"/>
<circle cx="266.41" cy="135.41" r="1.45" fill="#000"/>
<circle cx="266.41" cy="128.26" r="1.45" fill="#000"/>
<circle cx="266.41" cy="117.55" r="1.45" fill="#000"/>
<circle cx="266.41" cy="113.97" r="1.45" fill="#000"/>
<circle cx="266.41" cy="106.83" r="1.45" fill="#000"/>
<circle cx="264.96" cy="103.25" r="1.45" fill="#000"/>
<circle cx="267.86" cy="103.25" r="1.45" fill="#000"/>
<circle cx="266.41" cy="99.68" r="1.45" fill="#000"/>
<circle cx="266.41" cy="92.54" r="1.45" fill="#000"/>
<circle cx="263.51" cy="85.39" r="1.45" fill="#000"/>
<circle cx="266.41" cy="85.39" r="1.45" fill="#000"/>
<circle cx="269.31" cy="85.39" r="1.45" fill="#000"/>
<circle cx="266.41" cy="74.67" r="1.45" fill="#000"/>
<circle cx="264.96" cy="60.38" r="1.45" fill="#000"/>
<circle cx="267.86" cy="60.38" r="1.45" fill="#000"/>
<circle cx="275.47" cy="149.70" r="1.45" fill="#000"/>
<circle cx="278.37" cy="149.70" r="1.45" fill="#000"/>
<circle cx="281.27" cy="149.70" r="1.45" fill="#000"/>
<circle cx="278.37" cy="142.55" r="1.45" fill="#000"/>
<circle cx="275.47" cy="135.41" r="1.45" fill="#000"/>
<circle cx="278.37" cy="135.41" r="1.45" fill="#000"/>
<circle cx="281.27" cy="135.41" r="1.45" fill="#000"/>
<circle cx="278.37" cy="117.55" r="1.45" fill="#000"/>
<circle cx="276.92" cy="106.83" r="1.45" fill="#000"/>
<circle cx="279.82" cy="106.83" r="1.45" fill="#000"/>
<circle cx="278.37" cy="103.25" r="1.45" fill="#000"/>
<circle cx="278.37" cy="99.68" r="1.45" fill="#000"/>
<circle cx="278.37" cy="96.11" r="1.45" fill="#000"/>
<circle cx="278.37" cy="92.54" r="1.45" fill="#000"/>
<circle cx="275.47" cy="85.39" r="1.45" fill="#000"/>
<circle cx="278.37" cy="85.39" r="1.45" fill="#000"/>
<circle cx="281.27" cy="85.39" r="1.45" fill="#000"/>
<circle cx="278.37" cy="67.53" r="1.45" fill="#000"/>
<circle cx="288.88" cy="149.70" r="1.45" fill="#000"/>
<circle cx="291.78" cy="149.70" r="1.45" fill="#000"/>
<circle cx="290.33" cy="142.55" r="1.45" fill="#000"/>
<circle cx="290.33" cy="138.98" r="1.45" fill="#000"/>
<circle cx="290.33" cy="135.41" r="1.45" fill="#000"/>
<circle cx="290.33" cy="131.84" r="1.45" fill="#000"/>
<circle cx="290.33" cy="128.26" r="1.45" fill="#000"/>
<circle cx="290.33" cy="124.69" r="1.45" fill="#000"/>
<circle cx="290.33" cy="110.40" r="1.45" fill="#000"/>
<circle cx="290.33" cy="106.83" r="1.45" fill="#000"/>
<circle cx="290.33" cy="103.25" r="1.45" fill="#000"/>
<circle cx="290.33" cy="88.96" r="1.45" fill="#000"/>
<circle cx="288.88" cy="81.82" r="1.45" fill="#000"/>
<circle cx="291.78" cy="81.82" r="1.45" fill="#000"/>
<circle cx="290.33" cy="78.25" r="1.45" fill="#000"/>
<circle cx="290.33" cy="74.67" r="1.45" fill="#000"/>
<circle cx="290.33" cy="71.10" r="1.45" fill="#000"/>
<circle cx="290.33" cy="67.53" r="1.45" fill="#000"/>
<circle cx="27.27" cy="139.82" r="1.9" fill="none" stroke="#FF0000" stroke-width="1.25"/>
<circle cx="39.23" cy="140.65" r="1.9" fill="none" stroke="#FF0000" stroke-width="1.25"/>
<circle cx="51.19" cy="138.98" r="1.9" fill="none" stroke="#FF0000" stroke-width="1.25"/>
<circle cx="63.14" cy="139.22" r="1.9" fill="none" stroke="#FF0000" stroke-width="1.25"/>
<circle cx="75.10" cy="138.62" r="1.9" fill="none" stroke="#FF0000" stroke-width="1.25"/>
<circle cx="87.06" cy="141.60" r="1.9" fill="none" stroke="#FF0000" stroke-width="1.25"/>
<circle cx="99.02" cy="138.39" r="1.9" fill="none" stroke="#FF0000" stroke-width="1.25"/>
<circle cx="110.97" cy="137.55" r="1.9" fill="none" stroke="#FF0000" stroke-width="1.25"/>
<circle cx="122.93" cy="137.43" r="1.9" fill="none" stroke="#FF0000" stroke-width="1.25"/>
<circle cx="134.89" cy="126.60" r="1.9" fill="none" stroke="#FF0000" stroke-width="1.25"/>
<circle cx="146.84" cy="122.79" r="1.9" fill="none" stroke="#FF0000" stroke-width="1.25"/>
<circle cx="158.80" cy="142.55" r="1.9" fill="none" stroke="#FF0000" stroke-width="1.25"/>
<circle cx="170.76" cy="124.21" r="1.9" fill="none" stroke="#FF0000" stroke-width="1.25"/>
<circle cx="182.71" cy="123.74" r="1.9" fill="none" stroke="#FF0000" stroke-width="1.25"/>
<circle cx="194.67" cy="127.31" r="1.9" fill="none" stroke="#FF0000" stroke-width="1.25"/>
<circle cx="206.63" cy="113.97" r="1.9" fill="none" stroke="#FF0000" stroke-width="1.25"/>
<circle cx="218.58" cy="113.97" r="1.9" fill="none" stroke="#FF0000" stroke-width="1.25"/>
<circle cx="230.54" cy="116.35" r="1.9" fill="none" stroke="#FF0000" stroke-width="1.25"/>
<circle cx="242.50" cy="116.35" r="1.9" fill="none" stroke="#FF0000" stroke-width="1.25"/>
<circle cx="254.46" cy="116.95" r="1.9" fill="none" stroke="#FF0000" stroke-width="1.25"/>
<circle cx="266.41" cy="116.35" r="1.9" fill="none" stroke="#FF0000" stroke-width="1.25"/>
<circle cx="278.37" cy="112.78" r="1.9" fill="none" stroke="#FF0000" stroke-width="1.25"/>
<circle cx="290.33" cy="114.93" r="1.9" fill="none" stroke="#FF0000" stroke-width="1.25"/>
<line x1="20.10" x2="297.50" y1="399.06" y2="399.06" stroke="#D93535" stroke-width="1.6"/>
<circle cx="27.27" cy="424.90" r="1.45" fill="#000"/>
<circle cx="25.82" cy="421.33" r="1.45" fill="#000"/>
<circle cx="28.72" cy="421.33" r="1.45" fill="#000"/>
<circle cx="27.27" cy="417.75" r="1.45" fill="#000"/>
<circle cx="21.47" cy="414.18" r="1.45" fill="#000"/>
<circle cx="24.37" cy="414.18" r="1.45" fill="#000"/>
<circle cx="27.27" cy="414.18" r="1.45" fill="#000"/>
<circle cx="30.17" cy="414.18" r="1.45" fill="#000"/>
<circle cx="33.07" cy="414.18" r="1.45" fill="#000"/>
<circle cx="27.27" cy="411.58" r="1.45" fill="#000"/>
<circle cx="21.47" cy="410.61" r="1.45" fill="#000"/>
<circle cx="24.37" cy="410.61" r="1.45" fill="#000"/>
<circle cx="27.27" cy="410.61" r="1.45" fill="#000"/>
<circle cx="30.17" cy="410.61" r="1.45" fill="#000"/>
<circle cx="33.07" cy="410.61" r="1.45" fill="#000"/>
<circle cx="25.82" cy="403.46" r="1.45" fill="#000"/>
<circle cx="28.72" cy="403.46" r="1.45" fill="#000"/>
<circle cx="27.27" cy="399.89" r="1.45" fill="#000"/>
<circle cx="39.23" cy="428.47" r="1.45" fill="#000"/>
<circle cx="34.88" cy="424.90" r="1.45" fill="#000"/>
<circle cx="37.78" cy="424.90" r="1.45" fill="#000"/>
<circle cx="40.68" cy="424.90" r="1.45" fill="#000"/>
<circle cx="43.58" cy="424.90" r="1.45" fill="#000"/>
<circle cx="34.88" cy="421.33" r="1.45" fill="#000"/>
<circle cx="37.78" cy="421.33" r="1.45" fill="#000"/>
<circle cx="40.68" cy="421.33" r="1.45" fill="#000"/>
<circle cx="43.58" cy="421.33" r="1.45" fill="#000"/>
<circle cx="39.23" cy="414.18" r="1.45" fill="#000"/>
<circle cx="39.23" cy="407.04" r="1.45" fill="#000"/>
<circle cx="39.23" cy="403.46" r="1.45" fill="#000"/>
<circle cx="39.23" cy="399.89" r="1.45" fill="#000"/>
<circle cx="39.23" cy="396.32" r="1.45" fill="#000"/>
<circle cx="39.23" cy="367.74" r="1.45" fill="#000"/>
<circle cx="39.23" cy="353.45" r="1.45" fill="#000"/>
<circle cx="39.23" cy="349.87" r="1.45" fill="#000"/>
<circle cx="39.23" cy="339.15" r="1.45" fill="#000"/>
<circle cx="49.74" cy="424.90" r="1.45" fill="#000"/>
<circle cx="52.64" cy="424.90" r="1.45" fill="#000"/>
<circle cx="48.29" cy="421.33" r="1.45" fill="#000"/>
<circle cx="51.19" cy="421.33" r="1.45" fill="#000"/>
<circle cx="54.09" cy="421.33" r="1.45" fill="#000"/>
<circle cx="49.74" cy="414.18" r="1.45" fill="#000"/>
<circle cx="52.64" cy="414.18" r="1.45" fill="#000"/>
<circle cx="48.29" cy="407.04" r="1.45" fill="#000"/>
<circle cx="51.19" cy="407.04" r="1.45" fill="#000"/>
<circle cx="54.09" cy="407.04" r="1.45" fill="#000"/>
<circle cx="46.84" cy="403.46" r="1.45" fill="#000"/>
<circle cx="49.74" cy="403.46" r="1.45" fill="#000"/>
<circle cx="52.64" cy="403.46" r="1.45" fill="#000"/>
<circle cx="55.54" cy="403.46" r="1.45" fill="#000"/>
<circle cx="49.74" cy="399.89" r="1.45" fill="#000"/>
<circle cx="52.64" cy="399.89" r="1.45" fill="#000"/>
<circle cx="51.19" cy="392.75" r="1.45" fill="#000"/>
<circle cx="51.19" cy="371.31" r="1.45" fill="#000"/>
<circle cx="60.24" cy="424.90" r="1.45" fill="#000"/>
<circle cx="63.14" cy="424.90" r="1.45" fill="#000"/>
<circle cx="66.04" cy="424.90" r="1.45" fill="#000"/>
<circle cx="60.24" cy="421.33" r="1.45" fill="#000"/>
<circle cx="63.14" cy="421.33" r="1.45" fill="#000"/>
<circle cx="66.04" cy="421.33" r="1.45" fill="#000"/>
<circle cx="61.69" cy="417.75" r="1.45" fill="#000"/>
<circle cx="64.59" cy="417.75" r="1.45" fill="#000"/>
<circle cx="63.14" cy="414.18" r="1.45" fill="#000"/>
<circle cx="63.14" cy="410.61" r="1.45" fill="#000"/>
<circle cx="63.14" cy="403.46" r="1.45" fill="#000"/>
<circle cx="61.69" cy="396.32" r="1.45" fill="#000"/>
<circle cx="64.59" cy="396.32" r="1.45" fill="#000"/>
<circle cx="63.14" cy="392.75" r="1.45" fill="#000"/>
<circle cx="63.14" cy="389.17" r="1.45" fill="#000"/>
<circle cx="63.14" cy="385.60" r="1.45" fill="#000"/>
<circle cx="63.14" cy="371.31" r="1.45" fill="#000"/>
<circle cx="63.14" cy="367.74" r="1.45" fill="#000"/>
<circle cx="73.65" cy="424.90" r="1.45" fill="#000"/>
<circle cx="76.55" cy="424.90" r="1.45" fill="#000"/>
<circle cx="73.65" cy="421.33" r="1.45" fill="#000"/>
<circle cx="76.55" cy="421.33" r="1.45" fill="#000"/>
<circle cx="75.10" cy="417.75" r="1.45" fill="#000"/>
<circle cx="73.65" cy="414.18" r="1.45" fill="#000"/>
<circle cx="76.55" cy="414.18" r="1.45" fill="#000"/>
<circle cx="75.10" cy="403.46" r="1.45" fill="#000"/>
<circle cx="72.20" cy="399.89" r="1.45" fill="#000"/>
<circle cx="75.10" cy="399.89" r="1.45" fill="#000"/>
<circle cx="78.00" cy="399.89" r="1.45" fill="#000"/>
<circle cx="75.10" cy="396.32" r="1.45" fill="#000"/>
<circle cx="73.65" cy="392.75" r="1.45" fill="#000"/>
<circle cx="76.55" cy="392.75" r="1.45" fill="#000"/>
<circle cx="75.10" cy="389.17" r="1.45" fill="#000"/>
<circle cx="75.10" cy="385.60" r="1.45" fill="#000"/>
<circle cx="75.10" cy="374.88" r="1.45" fill="#000"/>
<circle cx="75.10" cy="367.74" r="1.45" fill="#000"/>
<circle cx="87.06" cy="421.33" r="1.45" fill="#000"/>
<circle cx="84.16" cy="417.75" r="1.45" fill="#000"/>
<circle cx="87.06" cy="417.75" r="1.45" fill="#000"/>
<circle cx="89.96" cy="417.75" r="1.45" fill="#000"/>
<circle cx="81.26" cy="410.61" r="1.45" fill="#000"/>
<circle cx="84.16" cy="410.61" r="1.45" fill="#000"/>
<circle cx="87.06" cy="410.61" r="1.45" fill="#000"/>
<circle cx="89.96" cy="410.61" r="1.45" fill="#000"/>
<circle cx="92.86" cy="410.61" r="1.45" fill="#000"/>
<circle cx="87.06" cy="399.89" r="1.45" fill="#000"/>
<circle cx="85.61" cy="396.32" r="1.45" fill="#000"/>
<circle cx="88.51" cy="396.32" r="1.45" fill="#000"/>
<circle cx="85.61" cy="392.75" r="1.45" fill="#000"/>
<circle cx="88.51" cy="392.75" r="1.45" fill="#000"/>
<circle cx="87.06" cy="389.17" r="1.45" fill="#000"/>
<circle cx="87.06" cy="385.60" r="1.45" fill="#000"/>
<circle cx="87.06" cy="334.03" r="1.45" fill="#000"/>
<circle cx="87.06" cy="329.87" r="1.45" fill="#000"/>
<circle cx="96.12" cy="421.33" r="1.45" fill="#000"/>
<circle cx="99.02" cy="421.33" r="1.45" fill="#000"/>
<circle cx="101.92" cy="421.33" r="1.45" fill="#000"/>
<circle cx="99.02" cy="414.18" r="1.45" fill="#000"/>
<circle cx="97.57" cy="407.04" r="1.45" fill="#000"/>
<circle cx="100.47" cy="407.04" r="1.45" fill="#000"/>
<circle cx="96.12" cy="396.32" r="1.45" fill="#000"/>
<circle cx="99.02" cy="396.32" r="1.45" fill="#000"/>
<circle cx="101.92" cy="396.32" r="1.45" fill="#000"/>
<circle cx="96.12" cy="392.75" r="1.45" fill="#000"/>
<circle cx="99.02" cy="392.75" r="1.45" fill="#000"/>
<circle cx="101.92" cy="392.75" r="1.45" fill="#000"/>
<circle cx="99.02" cy="389.17" r="1.45" fill="#000"/>
<circle cx="96.12" cy="385.60" r="1.45" fill="#000"/>
<circle cx="99.02" cy="385.60" r="1.45" fill="#000"/>
<circle cx="101.92" cy="385.60" r="1.45" fill="#000"/>
<circle cx="99.02" cy="334.03" r="1.45" fill="#000"/>
<circle cx="99.02" cy="321.65" r="1.45" fill="#000"/>
<circle cx="110.97" cy="428.47" r="1.45" fill="#000"/>
<circle cx="110.97" cy="424.90" r="1.45" fill="#000"/>
<circle cx="110.97" cy="421.33" r="1.45" fill="#000"/>
<circle cx="109.52" cy="417.75" r="1.45" fill="#000"/>
<circle cx="112.42" cy="417.75" r="1.45" fill="#000"/>
<circle cx="110.97" cy="414.18" r="1.45" fill="#000"/>
<circle cx="109.52" cy="410.61" r="1.45" fill="#000"/>
<circle cx="112.42" cy="410.61" r="1.45" fill="#000"/>
<circle cx="110.97" cy="396.32" r="1.45" fill="#000"/>
<circle cx="109.52" cy="392.75" r="1.45" fill="#000"/>
<circle cx="112.42" cy="392.75" r="1.45" fill="#000"/>
<circle cx="109.52" cy="389.17" r="1.45" fill="#000"/>
<circle cx="112.42" cy="389.17" r="1.45" fill="#000"/>
<circle cx="110.97" cy="385.60" r="1.45" fill="#000"/>
<circle cx="110.97" cy="371.31" r="1.45" fill="#000"/>
<circle cx="110.97" cy="353.45" r="1.45" fill="#000"/>
<circle cx="109.52" cy="346.30" r="1.45" fill="#000"/>
<circle cx="112.42" cy="346.30" r="1.45" fill="#000"/>
<circle cx="122.93" cy="421.33" r="1.45" fill="#000"/>
<circle cx="122.93" cy="417.75" r="1.45" fill="#000"/>
<circle cx="117.13" cy="414.18" r="1.45" fill="#000"/>
<circle cx="120.03" cy="414.18" r="1.45" fill="#000"/>
<circle cx="122.93" cy="414.18" r="1.45" fill="#000"/>
<circle cx="125.83" cy="414.18" r="1.45" fill="#000"/>
<circle cx="128.73" cy="414.18" r="1.45" fill="#000"/>
<circle cx="122.93" cy="411.58" r="1.45" fill="#000"/>
<circle cx="122.93" cy="410.61" r="1.45" fill="#000"/>
<circle cx="122.93" cy="407.04" r="1.45" fill="#000"/>
<circle cx="122.93" cy="392.75" r="1.45" fill="#000"/>
<circle cx="117.13" cy="389.17" r="1.45" fill="#000"/>
<circle cx="120.03" cy="389.17" r="1.45" fill="#000"/>
<circle cx="122.93" cy="389.17" r="1.45" fill="#000"/>
<circle cx="125.83" cy="389.17" r="1.45" fill="#000"/>
<circle cx="128.73" cy="389.17" r="1.45" fill="#000"/>
<circle cx="122.93" cy="329.87" r="1.45" fill="#000"/>
<circle cx="122.93" cy="321.65" r="1.45" fill="#000"/>
<circle cx="134.89" cy="421.33" r="1.45" fill="#000"/>
<circle cx="134.89" cy="414.18" r="1.45" fill="#000"/>
<circle cx="134.89" cy="410.61" r="1.45" fill="#000"/>
<circle cx="133.44" cy="407.04" r="1.45" fill="#000"/>
<circle cx="136.34" cy="407.04" r="1.45" fill="#000"/>
<circle cx="134.89" cy="403.46" r="1.45" fill="#000"/>
<circle cx="129.09" cy="399.89" r="1.45" fill="#000"/>
<circle cx="131.99" cy="399.89" r="1.45" fill="#000"/>
<circle cx="134.89" cy="399.89" r="1.45" fill="#000"/>
<circle cx="137.79" cy="399.89" r="1.45" fill="#000"/>
<circle cx="140.69" cy="399.89" r="1.45" fill="#000"/>
<circle cx="134.89" cy="396.32" r="1.45" fill="#000"/>
<circle cx="133.44" cy="389.17" r="1.45" fill="#000"/>
<circle cx="136.34" cy="389.17" r="1.45" fill="#000"/>
<circle cx="133.44" cy="385.60" r="1.45" fill="#000"/>
<circle cx="136.34" cy="385.60" r="1.45" fill="#000"/>
<circle cx="133.44" cy="378.45" r="1.45" fill="#000"/>
<circle cx="136.34" cy="378.45" r="1.45" fill="#000"/>
<circle cx="142.49" cy="424.90" r="1.45" fill="#000"/>
<circle cx="145.39" cy="424.90" r="1.45" fill="#000"/>
<circle cx="148.29" cy="424.90" r="1.45" fill="#000"/>
<circle cx="151.19" cy="424.90" r="1.45" fill="#000"/>
<circle cx="146.84" cy="421.33" r="1.45" fill="#000"/>
<circle cx="145.39" cy="417.75" r="1.45" fill="#000"/>
<circle cx="148.29" cy="417.75" r="1.45" fill="#000"/>
<circle cx="146.84" cy="414.18" r="1.45" fill="#000"/>
<circle cx="145.39" cy="410.61" r="1.45" fill="#000"/>
<circle cx="148.29" cy="410.61" r="1.45" fill="#000"/>
<circle cx="145.39" cy="407.04" r="1.45" fill="#000"/>
<circle cx="148.29" cy="407.04" r="1.45" fill="#000"/>
<circle cx="146.84" cy="399.89" r="1.45" fill="#000"/>
<circle cx="145.39" cy="389.17" r="1.45" fill="#000"/>
<circle cx="148.29" cy="389.17" r="1.45" fill="#000"/>
<circle cx="146.84" cy="371.31" r="1.45" fill="#000"/>
<circle cx="146.84" cy="364.16" r="1.45" fill="#000"/>
<circle cx="146.84" cy="339.15" r="1.45" fill="#000"/>
<circle cx="158.80" cy="428.47" r="1.45" fill="#000"/>
<circle cx="157.35" cy="417.75" r="1.45" fill="#000"/>
<circle cx="160.25" cy="417.75" r="1.45" fill="#000"/>
<circle cx="155.90" cy="414.18" r="1.45" fill="#000"/>
<circle cx="158.80" cy="414.18" r="1.45" fill="#000"/>
<circle cx="161.70" cy="414.18" r="1.45" fill="#000"/>
<circle cx="158.80" cy="410.61" r="1.45" fill="#000"/>
<circle cx="158.80" cy="403.46" r="1.45" fill="#000"/>
<circle cx="155.90" cy="399.89" r="1.45" fill="#000"/>
<circle cx="158.80" cy="399.89" r="1.45" fill="#000"/>
<circle cx="161.70" cy="399.89" r="1.45" fill="#000"/>
<circle cx="158.80" cy="392.75" r="1.45" fill="#000"/>
<circle cx="158.80" cy="385.60" r="1.45" fill="#000"/>
<circle cx="158.80" cy="382.03" r="1.45" fill="#000"/>
<circle cx="158.80" cy="378.45" r="1.45" fill="#000"/>
<circle cx="158.80" cy="371.31" r="1.45" fill="#000"/>
<circle cx="158.80" cy="349.87" r="1.45" fill="#000"/>
<circle cx="158.80" cy="332.01" r="1.45" fill="#000"/>
<circle cx="181.26" cy="428.47" r="1.45" fill="#000"/>
<circle cx="184.16" cy="428.47" r="1.45" fill="#000"/>
<circle cx="182.71" cy="424.90" r="1.45" fill="#000"/>
<circle cx="182.71" cy="417.75" r="1.45" fill="#000"/>
<circle cx="182.71" cy="414.18" r="1.45" fill="#000"/>
<circle cx="182.71" cy="410.61" r="1.45" fill="#000"/>
<circle cx="182.71" cy="407.04" r="1.45" fill="#000"/>
<circle cx="182.71" cy="403.46" r="1.45" fill="#000"/>
<circle cx="181.26" cy="399.89" r="1.45" fill="#000"/>
<circle cx="184.16" cy="399.89" r="1.45" fill="#000"/>
<circle cx="182.71" cy="396.32" r="1.45" fill="#000"/>
<circle cx="182.71" cy="392.75" r="1.45" fill="#000"/>
<circle cx="182.71" cy="385.60" r="1.45" fill="#000"/>
<circle cx="181.26" cy="378.45" r="1.45" fill="#000"/>
<circle cx="184.16" cy="378.45" r="1.45" fill="#000"/>
<circle cx="182.71" cy="374.88" r="1.45" fill="#000"/>
<circle cx="182.71" cy="371.31" r="1.45" fill="#000"/>
<circle cx="182.71" cy="364.16" r="1.45" fill="#000"/>
<circle cx="194.67" cy="428.47" r="1.45" fill="#000"/>
<circle cx="191.77" cy="424.90" r="1.45" fill="#000"/>
<circle cx="194.67" cy="424.90" r="1.45" fill="#000"/>
<circle cx="197.57" cy="424.90" r="1.45" fill="#000"/>
<circle cx="194.67" cy="421.33" r="1.45" fill="#000"/>
<circle cx="193.22" cy="414.18" r="1.45" fill="#000"/>
<circle cx="196.12" cy="414.18" r="1.45" fill="#000"/>
<circle cx="194.67" cy="410.61" r="1.45" fill="#000"/>
<circle cx="194.67" cy="407.04" r="1.45" fill="#000"/>
<circle cx="194.67" cy="385.60" r="1.45" fill="#000"/>
<circle cx="193.22" cy="382.03" r="1.45" fill="#000"/>
<circle cx="196.12" cy="382.03" r="1.45" fill="#000"/>
<circle cx="194.67" cy="371.31" r="1.45" fill="#000"/>
<circle cx="194.67" cy="364.16" r="1.45" fill="#000"/>
<circle cx="194.67" cy="360.59" r="1.45" fill="#000"/>
<circle cx="193.22" cy="339.15" r="1.45" fill="#000"/>
<circle cx="196.12" cy="339.15" r="1.45" fill="#000"/>
<circle cx="194.67" cy="332.01" r="1.45" fill="#000"/>
<circle cx="200.83" cy="424.90" r="1.45" fill="#000"/>
<circle cx="203.73" cy="424.90" r="1.45" fill="#000"/>
<circle cx="206.63" cy="424.90" r="1.45" fill="#000"/>
<circle cx="209.53" cy="424.90" r="1.45" fill="#000"/>
<circle cx="212.43" cy="424.90" r="1.45" fill="#000"/>
<circle cx="206.63" cy="421.33" r="1.45" fill="#000"/>
<circle cx="206.63" cy="396.32" r="1.45" fill="#000"/>
<circle cx="206.63" cy="392.75" r="1.45" fill="#000"/>
<circle cx="203.73" cy="389.17" r="1.45" fill="#000"/>
<circle cx="206.63" cy="389.17" r="1.45" fill="#000"/>
<circle cx="209.53" cy="389.17" r="1.45" fill="#000"/>
<circle cx="205.18" cy="385.60" r="1.45" fill="#000"/>
<circle cx="208.08" cy="385.60" r="1.45" fill="#000"/>
<circle cx="205.18" cy="382.03" r="1.45" fill="#000"/>
<circle cx="208.08" cy="382.03" r="1.45" fill="#000"/>
<circle cx="206.63" cy="371.31" r="1.45" fill="#000"/>
<circle cx="206.63" cy="335.58" r="1.45" fill="#000"/>
<circle cx="206.63" cy="332.01" r="1.45" fill="#000"/>
<circle cx="217.13" cy="424.90" r="1.45" fill="#000"/>
<circle cx="220.03" cy="424.90" r="1.45" fill="#000"/>
<circle cx="218.58" cy="414.18" r="1.45" fill="#000"/>
<circle cx="218.58" cy="407.04" r="1.45" fill="#000"/>
<circle cx="218.58" cy="399.89" r="1.45" fill="#000"/>
<circle cx="218.58" cy="396.32" r="1.45" fill="#000"/>
<circle cx="217.13" cy="392.75" r="1.45" fill="#000"/>
<circle cx="220.03" cy="392.75" r="1.45" fill="#000"/>
<circle cx="217.13" cy="389.17" r="1.45" fill="#000"/>
<circle cx="220.03" cy="389.17" r="1.45" fill="#000"/>
<circle cx="217.13" cy="385.60" r="1.45" fill="#000"/>
<circle cx="220.03" cy="385.60" r="1.45" fill="#000"/>
<circle cx="215.68" cy="382.03" r="1.45" fill="#000"/>
<circle cx="218.58" cy="382.03" r="1.45" fill="#000"/>
<circle cx="221.48" cy="382.03" r="1.45" fill="#000"/>
<circle cx="218.58" cy="378.45" r="1.45" fill="#000"/>
<circle cx="218.58" cy="374.88" r="1.45" fill="#000"/>
<circle cx="218.58" cy="332.01" r="1.45" fill="#000"/>
<circle cx="229.09" cy="424.90" r="1.45" fill="#000"/>
<circle cx="231.99" cy="424.90" r="1.45" fill="#000"/>
<circle cx="230.54" cy="417.75" r="1.45" fill="#000"/>
<circle cx="227.64" cy="414.18" r="1.45" fill="#000"/>
<circle cx="230.54" cy="414.18" r="1.45" fill="#000"/>
<circle cx="233.44" cy="414.18" r="1.45" fill="#000"/>
<circle cx="230.54" cy="407.04" r="1.45" fill="#000"/>
<circle cx="230.54" cy="396.32" r="1.45" fill="#000"/>
<circle cx="226.19" cy="392.75" r="1.45" fill="#000"/>
<circle cx="229.09" cy="392.75" r="1.45" fill="#000"/>
<circle cx="231.99" cy="392.75" r="1.45" fill="#000"/>
<circle cx="234.89" cy="392.75" r="1.45" fill="#000"/>
<circle cx="230.54" cy="389.17" r="1.45" fill="#000"/>
<circle cx="229.09" cy="382.03" r="1.45" fill="#000"/>
<circle cx="231.99" cy="382.03" r="1.45" fill="#000"/>
<circle cx="230.54" cy="367.74" r="1.45" fill="#000"/>
<circle cx="230.54" cy="349.87" r="1.45" fill="#000"/>
<circle cx="230.54" cy="346.30" r="1.45" fill="#000"/>
<circle cx="241.05" cy="421.33" r="1.45" fill="#000"/>
<circle cx="243.95" cy="421.33" r="1.45" fill="#000"/>
<circle cx="242.50" cy="417.75" r="1.45" fill="#000"/>
<circle cx="242.50" cy="410.61" r="1.45" fill="#000"/>
<circle cx="242.50" cy="403.46" r="1.45" fill="#000"/>
<circle cx="242.50" cy="399.89" r="1.45" fill="#000"/>
<circle cx="241.05" cy="389.17" r="1.45" fill="#000"/>
<circle cx="243.95" cy="389.17" r="1.45" fill="#000"/>
<circle cx="238.15" cy="385.60" r="1.45" fill="#000"/>
<circle cx="241.05" cy="385.60" r="1.45" fill="#000"/>
<circle cx="243.95" cy="385.60" r="1.45" fill="#000"/>
<circle cx="246.85" cy="385.60" r="1.45" fill="#000"/>
<circle cx="241.05" cy="382.03" r="1.45" fill="#000"/>
<circle cx="243.95" cy="382.03" r="1.45" fill="#000"/>
<circle cx="241.05" cy="378.45" r="1.45" fill="#000"/>
<circle cx="243.95" cy="378.45" r="1.45" fill="#000"/>
<circle cx="242.50" cy="371.31" r="1.45" fill="#000"/>
<circle cx="242.50" cy="342.73" r="1.45" fill="#000"/>
<circle cx="254.46" cy="424.90" r="1.45" fill="#000"/>
<circle cx="254.46" cy="421.33" r="1.45" fill="#000"/>
<circle cx="254.46" cy="414.18" r="1.45" fill="#000"/>
<circle cx="254.46" cy="410.61" r="1.45" fill="#000"/>
<circle cx="254.46" cy="407.04" r="1.45" fill="#000"/>
<circle cx="254.46" cy="392.75" r="1.45" fill="#000"/>
<circle cx="253.01" cy="389.17" r="1.45" fill="#000"/>
<circle cx="255.91" cy="389.17" r="1.45" fill="#000"/>
<circle cx="251.56" cy="378.45" r="1.45" fill="#000"/>
<circle cx="254.46" cy="378.45" r="1.45" fill="#000"/>
<circle cx="257.36" cy="378.45" r="1.45" fill="#000"/>
<circle cx="254.46" cy="367.74" r="1.45" fill="#000"/>
<circle cx="254.46" cy="364.16" r="1.45" fill="#000"/>
<circle cx="254.46" cy="346.30" r="1.45" fill="#000"/>
<circle cx="254.46" cy="335.58" r="1.45" fill="#000"/>
<circle cx="254.46" cy="328.44" r="1.45" fill="#000"/>
<circle cx="254.46" cy="324.86" r="1.45" fill="#000"/>
<circle cx="254.46" cy="323.20" r="1.45" fill="#000"/>
<circle cx="266.41" cy="424.90" r="1.45" fill="#000"/>
<circle cx="266.41" cy="421.33" r="1.45" fill="#000"/>
<circle cx="266.41" cy="417.75" r="1.45" fill="#000"/>
<circle cx="266.41" cy="414.18" r="1.45" fill="#000"/>
<circle cx="266.41" cy="410.61" r="1.45" fill="#000"/>
<circle cx="266.41" cy="407.04" r="1.45" fill="#000"/>
<circle cx="264.96" cy="399.89" r="1.45" fill="#000"/>
<circle cx="267.86" cy="399.89" r="1.45" fill="#000"/>
<circle cx="266.41" cy="382.03" r="1.45" fill="#000"/>
<circle cx="266.41" cy="378.45" r="1.45" fill="#000"/>
<circle cx="264.96" cy="374.88" r="1.45" fill="#000"/>
<circle cx="267.86" cy="374.88" r="1.45" fill="#000"/>
<circle cx="266.41" cy="371.31" r="1.45" fill="#000"/>
<circle cx="266.41" cy="367.74" r="1.45" fill="#000"/>
<circle cx="264.96" cy="353.45" r="1.45" fill="#000"/>
<circle cx="267.86" cy="353.45" r="1.45" fill="#000"/>
<circle cx="266.41" cy="349.87" r="1.45" fill="#000"/>
<circle cx="266.41" cy="342.73" r="1.45" fill="#000"/>
<circle cx="276.92" cy="421.33" r="1.45" fill="#000"/>
<circle cx="279.82" cy="421.33" r="1.45" fill="#000"/>
<circle cx="278.37" cy="417.75" r="1.45" fill="#000"/>
<circle cx="278.37" cy="403.46" r="1.45" fill="#000"/>
<circle cx="278.37" cy="392.75" r="1.45" fill="#000"/>
<circle cx="278.37" cy="389.17" r="1.45" fill="#000"/>
<circle cx="276.92" cy="382.03" r="1.45" fill="#000"/>
<circle cx="279.82" cy="382.03" r="1.45" fill="#000"/>
<circle cx="275.47" cy="378.45" r="1.45" fill="#000"/>
<circle cx="278.37" cy="378.45" r="1.45" fill="#000"/>
<circle cx="281.27" cy="378.45" r="1.45" fill="#000"/>
<circle cx="275.47" cy="374.88" r="1.45" fill="#000"/>
<circle cx="278.37" cy="374.88" r="1.45" fill="#000"/>
<circle cx="281.27" cy="374.88" r="1.45" fill="#000"/>
<circle cx="278.37" cy="360.59" r="1.45" fill="#000"/>
<circle cx="278.37" cy="353.45" r="1.45" fill="#000"/>
<circle cx="278.37" cy="342.73" r="1.45" fill="#000"/>
<circle cx="278.37" cy="332.01" r="1.45" fill="#000"/>
<circle cx="290.33" cy="424.90" r="1.45" fill="#000"/>
<circle cx="290.33" cy="417.75" r="1.45" fill="#000"/>
<circle cx="290.33" cy="399.89" r="1.45" fill="#000"/>
<circle cx="290.33" cy="392.75" r="1.45" fill="#000"/>
<circle cx="290.33" cy="385.60" r="1.45" fill="#000"/>
<circle cx="290.33" cy="382.03" r="1.45" fill="#000"/>
<circle cx="290.33" cy="378.45" r="1.45" fill="#000"/>
<circle cx="287.43" cy="374.88" r="1.45" fill="#000"/>
<circle cx="290.33" cy="374.88" r="1.45" fill="#000"/>
<circle cx="293.23" cy="374.88" r="1.45" fill="#000"/>
<circle cx="290.33" cy="371.31" r="1.45" fill="#000"/>
<circle cx="287.43" cy="367.74" r="1.45" fill="#000"/>
<circle cx="290.33" cy="367.74" r="1.45" fill="#000"/>
<circle cx="293.23" cy="367.74" r="1.45" fill="#000"/>
<circle cx="290.33" cy="360.59" r="1.45" fill="#000"/>
<circle cx="290.33" cy="342.73" r="1.45" fill="#000"/>
<circle cx="290.33" cy="332.01" r="1.45" fill="#000"/>
<circle cx="290.33" cy="323.20" r="1.45" fill="#000"/>
<circle cx="27.27" cy="413.71" r="1.9" fill="none" stroke="#FF0000" stroke-width="1.25"/>
<circle cx="39.23" cy="408.23" r="1.9" fill="none" stroke="#FF0000" stroke-width="1.25"/>
<circle cx="51.19" cy="408.23" r="1.9" fill="none" stroke="#FF0000" stroke-width="1.25"/>
<circle cx="63.14" cy="407.16" r="1.9" fill="none" stroke="#FF0000" stroke-width="1.25"/>
<circle cx="75.10" cy="408.23" r="1.9" fill="none" stroke="#FF0000" stroke-width="1.25"/>
<circle cx="87.06" cy="404.06" r="1.9" fill="none" stroke="#FF0000" stroke-width="1.25"/>
<circle cx="99.02" cy="402.99" r="1.9" fill="none" stroke="#FF0000" stroke-width="1.25"/>
<circle cx="110.97" cy="400.13" r="1.9" fill="none" stroke="#FF0000" stroke-width="1.25"/>
<circle cx="122.93" cy="402.87" r="1.9" fill="none" stroke="#FF0000" stroke-width="1.25"/>
<circle cx="134.89" cy="400.13" r="1.9" fill="none" stroke="#FF0000" stroke-width="1.25"/>
<circle cx="146.84" cy="406.80" r="1.9" fill="none" stroke="#FF0000" stroke-width="1.25"/>
<circle cx="158.80" cy="392.98" r="1.9" fill="none" stroke="#FF0000" stroke-width="1.25"/>
<circle cx="182.71" cy="400.13" r="1.9" fill="none" stroke="#FF0000" stroke-width="1.25"/>
<circle cx="194.67" cy="395.60" r="1.9" fill="none" stroke="#FF0000" stroke-width="1.25"/>
<circle cx="206.63" cy="399.41" r="1.9" fill="none" stroke="#FF0000" stroke-width="1.25"/>
<circle cx="218.58" cy="395.60" r="1.9" fill="none" stroke="#FF0000" stroke-width="1.25"/>
<circle cx="230.54" cy="390.13" r="1.9" fill="none" stroke="#FF0000" stroke-width="1.25"/>
<circle cx="242.50" cy="391.44" r="1.9" fill="none" stroke="#FF0000" stroke-width="1.25"/>
<circle cx="254.46" cy="386.79" r="1.9" fill="none" stroke="#FF0000" stroke-width="1.25"/>
<circle cx="266.41" cy="387.15" r="1.9" fill="none" stroke="#FF0000" stroke-width="1.25"/>
<circle cx="278.37" cy="388.22" r="1.9" fill="none" stroke="#FF0000" stroke-width="1.25"/>
<circle cx="290.33" cy="386.31" r="1.9" fill="none" stroke="#FF0000" stroke-width="1.25"/>
<line x1="20.10" x2="297.50" y1="675.69" y2="675.69" stroke="#D93535" stroke-width="1.6"/>
<circle cx="21.47" cy="703.67" r="1.45" fill="#000"/>
<circle cx="24.37" cy="703.67" r="1.45" fill="#000"/>
<circle cx="27.27" cy="703.67" r="1.45" fill="#000"/>
<circle cx="30.17" cy="703.67" r="1.45" fill="#000"/>
<circle cx="33.07" cy="703.67" r="1.45" fill="#000"/>
<circle cx="22.92" cy="701.07" r="1.45" fill="#000"/>
<circle cx="25.82" cy="701.07" r="1.45" fill="#000"/>
<circle cx="28.72" cy="701.07" r="1.45" fill="#000"/>
<circle cx="31.62" cy="701.07" r="1.45" fill="#000"/>
<circle cx="22.92" cy="700.10" r="1.45" fill="#000"/>
<circle cx="25.82" cy="700.10" r="1.45" fill="#000"/>
<circle cx="28.72" cy="700.10" r="1.45" fill="#000"/>
<circle cx="31.62" cy="700.10" r="1.45" fill="#000"/>
<circle cx="25.82" cy="696.53" r="1.45" fill="#000"/>
<circle cx="28.72" cy="696.53" r="1.45" fill="#000"/>
<circle cx="25.82" cy="692.95" r="1.45" fill="#000"/>
<circle cx="28.72" cy="692.95" r="1.45" fill="#000"/>
<circle cx="27.27" cy="685.81" r="1.45" fill="#000"/>
<circle cx="34.88" cy="703.67" r="1.45" fill="#000"/>
<circle cx="37.78" cy="703.67" r="1.45" fill="#000"/>
<circle cx="40.68" cy="703.67" r="1.45" fill="#000"/>
<circle cx="43.58" cy="703.67" r="1.45" fill="#000"/>
<circle cx="33.43" cy="700.10" r="1.45" fill="#000"/>
<circle cx="36.33" cy="700.10" r="1.45" fill="#000"/>
<circle cx="39.23" cy="700.10" r="1.45" fill="#000"/>
<circle cx="42.13" cy="700.10" r="1.45" fill="#000"/>
<circle cx="45.03" cy="700.10" r="1.45" fill="#000"/>
<circle cx="39.23" cy="697.50" r="1.45" fill="#000"/>
<circle cx="34.88" cy="696.53" r="1.45" fill="#000"/>
<circle cx="37.78" cy="696.53" r="1.45" fill="#000"/>
<circle cx="40.68" cy="696.53" r="1.45" fill="#000"/>
<circle cx="43.58" cy="696.53" r="1.45" fill="#000"/>
<circle cx="39.23" cy="689.38" r="1.45" fill="#000"/>
<circle cx="39.23" cy="673.66" r="1.45" fill="#000"/>
<circle cx="39.23" cy="669.02" r="1.45" fill="#000"/>
<circle cx="39.23" cy="652.94" r="1.45" fill="#000"/>
<circle cx="46.84" cy="703.67" r="1.45" fill="#000"/>
<circle cx="49.74" cy="703.67" r="1.45" fill="#000"/>
<circle cx="52.64" cy="703.67" r="1.45" fill="#000"/>
<circle cx="55.54" cy="703.67" r="1.45" fill="#000"/>
<circle cx="49.74" cy="700.10" r="1.45" fill="#000"/>
<circle cx="52.64" cy="700.10" r="1.45" fill="#000"/>
<circle cx="45.39" cy="696.53" r="1.45" fill="#000"/>
<circle cx="48.29" cy="696.53" r="1.45" fill="#000"/>
<circle cx="51.19" cy="696.53" r="1.45" fill="#000"/>
<circle cx="54.09" cy="696.53" r="1.45" fill="#000"/>
<circle cx="56.99" cy="696.53" r="1.45" fill="#000"/>
<circle cx="49.74" cy="692.95" r="1.45" fill="#000"/>
<circle cx="52.64" cy="692.95" r="1.45" fill="#000"/>
<circle cx="51.19" cy="689.38" r="1.45" fill="#000"/>
<circle cx="51.19" cy="685.81" r="1.45" fill="#000"/>
<circle cx="51.19" cy="673.66" r="1.45" fill="#000"/>
<circle cx="51.19" cy="666.40" r="1.45" fill="#000"/>
<circle cx="51.19" cy="654.01" r="1.45" fill="#000"/>
<circle cx="60.24" cy="703.67" r="1.45" fill="#000"/>
<circle cx="63.14" cy="703.67" r="1.45" fill="#000"/>
<circle cx="66.04" cy="703.67" r="1.45" fill="#000"/>
<circle cx="61.69" cy="700.10" r="1.45" fill="#000"/>
<circle cx="64.59" cy="700.10" r="1.45" fill="#000"/>
<circle cx="60.24" cy="696.53" r="1.45" fill="#000"/>
<circle cx="63.14" cy="696.53" r="1.45" fill="#000"/>
<circle cx="66.04" cy="696.53" r="1.45" fill="#000"/>
<circle cx="57.34" cy="692.95" r="1.45" fill="#000"/>
<circle cx="60.24" cy="692.95" r="1.45" fill="#000"/>
<circle cx="63.14" cy="692.95" r="1.45" fill="#000"/>
<circle cx="66.04" cy="692.95" r="1.45" fill="#000"/>
<circle cx="68.94" cy="692.95" r="1.45" fill="#000"/>
<circle cx="63.14" cy="689.38" r="1.45" fill="#000"/>
<circle cx="63.14" cy="682.24" r="1.45" fill="#000"/>
<circle cx="63.14" cy="671.04" r="1.45" fill="#000"/>
<circle cx="63.14" cy="666.40" r="1.45" fill="#000"/>
<circle cx="63.14" cy="652.94" r="1.45" fill="#000"/>
<circle cx="75.10" cy="703.67" r="1.45" fill="#000"/>
<circle cx="69.30" cy="700.10" r="1.45" fill="#000"/>
<circle cx="72.20" cy="700.10" r="1.45" fill="#000"/>
<circle cx="75.10" cy="700.10" r="1.45" fill="#000"/>
<circle cx="78.00" cy="700.10" r="1.45" fill="#000"/>
<circle cx="80.90" cy="700.10" r="1.45" fill="#000"/>
<circle cx="72.20" cy="696.53" r="1.45" fill="#000"/>
<circle cx="75.10" cy="696.53" r="1.45" fill="#000"/>
<circle cx="78.00" cy="696.53" r="1.45" fill="#000"/>
<circle cx="72.20" cy="692.95" r="1.45" fill="#000"/>
<circle cx="75.10" cy="692.95" r="1.45" fill="#000"/>
<circle cx="78.00" cy="692.95" r="1.45" fill="#000"/>
<circle cx="75.10" cy="689.38" r="1.45" fill="#000"/>
<circle cx="72.20" cy="685.81" r="1.45" fill="#000"/>
<circle cx="75.10" cy="685.81" r="1.45" fill="#000"/>
<circle cx="78.00" cy="685.81" r="1.45" fill="#000"/>
<circle cx="75.10" cy="669.85" r="1.45" fill="#000"/>
<circle cx="75.10" cy="654.01" r="1.45" fill="#000"/>
<circle cx="87.06" cy="703.67" r="1.45" fill="#000"/>
<circle cx="87.06" cy="700.10" r="1.45" fill="#000"/>
<circle cx="84.16" cy="692.95" r="1.45" fill="#000"/>
<circle cx="87.06" cy="692.95" r="1.45" fill="#000"/>
<circle cx="89.96" cy="692.95" r="1.45" fill="#000"/>
<circle cx="87.06" cy="689.38" r="1.45" fill="#000"/>
<circle cx="87.06" cy="685.81" r="1.45" fill="#000"/>
<circle cx="82.71" cy="682.24" r="1.45" fill="#000"/>
<circle cx="85.61" cy="682.24" r="1.45" fill="#000"/>
<circle cx="88.51" cy="682.24" r="1.45" fill="#000"/>
<circle cx="91.41" cy="682.24" r="1.45" fill="#000"/>
<circle cx="84.16" cy="678.66" r="1.45" fill="#000"/>
<circle cx="87.06" cy="678.66" r="1.45" fill="#000"/>
<circle cx="89.96" cy="678.66" r="1.45" fill="#000"/>
<circle cx="84.16" cy="664.37" r="1.45" fill="#000"/>
<circle cx="87.06" cy="664.37" r="1.45" fill="#000"/>
<circle cx="89.96" cy="664.37" r="1.45" fill="#000"/>
<circle cx="87.06" cy="660.80" r="1.45" fill="#000"/>
<circle cx="99.02" cy="702.84" r="1.45" fill="#000"/>
<circle cx="99.02" cy="699.03" r="1.45" fill="#000"/>
<circle cx="97.57" cy="692.95" r="1.45" fill="#000"/>
<circle cx="100.47" cy="692.95" r="1.45" fill="#000"/>
<circle cx="94.67" cy="685.81" r="1.45" fill="#000"/>
<circle cx="97.57" cy="685.81" r="1.45" fill="#000"/>
<circle cx="100.47" cy="685.81" r="1.45" fill="#000"/>
<circle cx="103.37" cy="685.81" r="1.45" fill="#000"/>
<circle cx="97.57" cy="682.24" r="1.45" fill="#000"/>
<circle cx="100.47" cy="682.24" r="1.45" fill="#000"/>
<circle cx="96.12" cy="678.66" r="1.45" fill="#000"/>
<circle cx="99.02" cy="678.66" r="1.45" fill="#000"/>
<circle cx="101.92" cy="678.66" r="1.45" fill="#000"/>
<circle cx="99.02" cy="675.09" r="1.45" fill="#000"/>
<circle cx="99.02" cy="671.52" r="1.45" fill="#000"/>
<circle cx="99.02" cy="667.95" r="1.45" fill="#000"/>
<circle cx="99.02" cy="660.20" r="1.45" fill="#000"/>
<circle cx="99.02" cy="648.30" r="1.45" fill="#000"/>
<circle cx="110.97" cy="707.25" r="1.45" fill="#000"/>
<circle cx="110.97" cy="700.10" r="1.45" fill="#000"/>
<circle cx="110.97" cy="696.53" r="1.45" fill="#000"/>
<circle cx="108.07" cy="692.95" r="1.45" fill="#000"/>
<circle cx="110.97" cy="692.95" r="1.45" fill="#000"/>
<circle cx="113.87" cy="692.95" r="1.45" fill="#000"/>
<circle cx="108.07" cy="685.81" r="1.45" fill="#000"/>
<circle cx="110.97" cy="685.81" r="1.45" fill="#000"/>
<circle cx="113.87" cy="685.81" r="1.45" fill="#000"/>
<circle cx="110.97" cy="682.24" r="1.45" fill="#000"/>
<circle cx="110.97" cy="678.66" r="1.45" fill="#000"/>
<circle cx="108.07" cy="675.09" r="1.45" fill="#000"/>
<circle cx="110.97" cy="675.09" r="1.45" fill="#000"/>
<circle cx="113.87" cy="675.09" r="1.45" fill="#000"/>
<circle cx="109.52" cy="671.52" r="1.45" fill="#000"/>
<circle cx="112.42" cy="671.52" r="1.45" fill="#000"/>
<circle cx="110.97" cy="657.23" r="1.45" fill="#000"/>
<circle cx="110.97" cy="639.36" r="1.45" fill="#000"/>
<circle cx="122.93" cy="703.67" r="1.45" fill="#000"/>
<circle cx="122.93" cy="696.53" r="1.45" fill="#000"/>
<circle cx="122.93" cy="685.81" r="1.45" fill="#000"/>
<circle cx="117.13" cy="682.24" r="1.45" fill="#000"/>
<circle cx="120.03" cy="682.24" r="1.45" fill="#000"/>
<circle cx="122.93" cy="682.24" r="1.45" fill="#000"/>
<circle cx="125.83" cy="682.24" r="1.45" fill="#000"/>
<circle cx="128.73" cy="682.24" r="1.45" fill="#000"/>
<circle cx="120.03" cy="675.09" r="1.45" fill="#000"/>
<circle cx="122.93" cy="675.09" r="1.45" fill="#000"/>
<circle cx="125.83" cy="675.09" r="1.45" fill="#000"/>
<circle cx="120.03" cy="671.52" r="1.45" fill="#000"/>
<circle cx="122.93" cy="671.52" r="1.45" fill="#000"/>
<circle cx="125.83" cy="671.52" r="1.45" fill="#000"/>
<circle cx="122.93" cy="667.95" r="1.45" fill="#000"/>
<circle cx="122.93" cy="653.65" r="1.45" fill="#000"/>
<circle cx="122.93" cy="650.08" r="1.45" fill="#000"/>
<circle cx="122.93" cy="646.51" r="1.45" fill="#000"/>
<circle cx="134.89" cy="703.67" r="1.45" fill="#000"/>
<circle cx="133.44" cy="700.10" r="1.45" fill="#000"/>
<circle cx="136.34" cy="700.10" r="1.45" fill="#000"/>
<circle cx="134.89" cy="692.95" r="1.45" fill="#000"/>
<circle cx="129.09" cy="685.81" r="1.45" fill="#000"/>
<circle cx="131.99" cy="685.81" r="1.45" fill="#000"/>
<circle cx="134.89" cy="685.81" r="1.45" fill="#000"/>
<circle cx="137.79" cy="685.81" r="1.45" fill="#000"/>
<circle cx="140.69" cy="685.81" r="1.45" fill="#000"/>
<circle cx="134.89" cy="683.21" r="1.45" fill="#000"/>
<circle cx="133.44" cy="682.24" r="1.45" fill="#000"/>
<circle cx="136.34" cy="682.24" r="1.45" fill="#000"/>
<circle cx="131.99" cy="678.66" r="1.45" fill="#000"/>
<circle cx="134.89" cy="678.66" r="1.45" fill="#000"/>
<circle cx="137.79" cy="678.66" r="1.45" fill="#000"/>
<circle cx="134.89" cy="671.52" r="1.45" fill="#000"/>
<circle cx="134.89" cy="667.95" r="1.45" fill="#000"/>
<circle cx="134.89" cy="664.37" r="1.45" fill="#000"/>
<circle cx="145.39" cy="696.53" r="1.45" fill="#000"/>
<circle cx="148.29" cy="696.53" r="1.45" fill="#000"/>
<circle cx="145.39" cy="692.95" r="1.45" fill="#000"/>
<circle cx="148.29" cy="692.95" r="1.45" fill="#000"/>
<circle cx="142.49" cy="685.81" r="1.45" fill="#000"/>
<circle cx="145.39" cy="685.81" r="1.45" fill="#000"/>
<circle cx="148.29" cy="685.81" r="1.45" fill="#000"/>
<circle cx="151.19" cy="685.81" r="1.45" fill="#000"/>
<circle cx="146.84" cy="682.24" r="1.45" fill="#000"/>
<circle cx="143.94" cy="678.66" r="1.45" fill="#000"/>
<circle cx="146.84" cy="678.66" r="1.45" fill="#000"/>
<circle cx="149.74" cy="678.66" r="1.45" fill="#000"/>
<circle cx="145.39" cy="675.09" r="1.45" fill="#000"/>
<circle cx="148.29" cy="675.09" r="1.45" fill="#000"/>
<circle cx="146.84" cy="671.52" r="1.45" fill="#000"/>
<circle cx="146.84" cy="667.95" r="1.45" fill="#000"/>
<circle cx="146.84" cy="664.37" r="1.45" fill="#000"/>
<circle cx="146.84" cy="653.65" r="1.45" fill="#000"/>
<circle cx="158.80" cy="703.67" r="1.45" fill="#000"/>
<circle cx="158.80" cy="700.10" r="1.45" fill="#000"/>
<circle cx="158.80" cy="682.24" r="1.45" fill="#000"/>
<circle cx="158.80" cy="675.09" r="1.45" fill="#000"/>
<circle cx="157.35" cy="664.37" r="1.45" fill="#000"/>
<circle cx="160.25" cy="664.37" r="1.45" fill="#000"/>
<circle cx="157.35" cy="660.80" r="1.45" fill="#000"/>
<circle cx="160.25" cy="660.80" r="1.45" fill="#000"/>
<circle cx="155.90" cy="657.23" r="1.45" fill="#000"/>
<circle cx="158.80" cy="657.23" r="1.45" fill="#000"/>
<circle cx="161.70" cy="657.23" r="1.45" fill="#000"/>
<circle cx="158.80" cy="653.65" r="1.45" fill="#000"/>
<circle cx="158.80" cy="650.08" r="1.45" fill="#000"/>
<circle cx="155.90" cy="646.51" r="1.45" fill="#000"/>
<circle cx="158.80" cy="646.51" r="1.45" fill="#000"/>
<circle cx="161.70" cy="646.51" r="1.45" fill="#000"/>
<circle cx="158.80" cy="642.94" r="1.45" fill="#000"/>
<circle cx="158.80" cy="628.65" r="1.45" fill="#000"/>
<circle cx="182.71" cy="703.67" r="1.45" fill="#000"/>
<circle cx="182.71" cy="700.10" r="1.45" fill="#000"/>
<circle cx="179.81" cy="682.24" r="1.45" fill="#000"/>
<circle cx="182.71" cy="682.24" r="1.45" fill="#000"/>
<circle cx="185.61" cy="682.24" r="1.45" fill="#000"/>
<circle cx="181.26" cy="678.66" r="1.45" fill="#000"/>
<circle cx="184.16" cy="678.66" r="1.45" fill="#000"/>
<circle cx="181.26" cy="675.09" r="1.45" fill="#000"/>
<circle cx="184.16" cy="675.09" r="1.45" fill="#000"/>
<circle cx="179.81" cy="671.52" r="1.45" fill="#000"/>
<circle cx="182.71" cy="671.52" r="1.45" fill="#000"/>
<circle cx="185.61" cy="671.52" r="1.45" fill="#000"/>
<circle cx="181.26" cy="667.95" r="1.45" fill="#000"/>
<circle cx="184.16" cy="667.95" r="1.45" fill="#000"/>
<circle cx="182.71" cy="660.80" r="1.45" fill="#000"/>
<circle cx="181.26" cy="657.23" r="1.45" fill="#000"/>
<circle cx="184.16" cy="657.23" r="1.45" fill="#000"/>
<circle cx="182.71" cy="632.22" r="1.45" fill="#000"/>
<circle cx="194.67" cy="703.67" r="1.45" fill="#000"/>
<circle cx="194.67" cy="696.53" r="1.45" fill="#000"/>
<circle cx="194.67" cy="692.95" r="1.45" fill="#000"/>
<circle cx="193.22" cy="675.09" r="1.45" fill="#000"/>
<circle cx="196.12" cy="675.09" r="1.45" fill="#000"/>
<circle cx="193.22" cy="671.52" r="1.45" fill="#000"/>
<circle cx="196.12" cy="671.52" r="1.45" fill="#000"/>
<circle cx="194.67" cy="667.95" r="1.45" fill="#000"/>
<circle cx="194.67" cy="664.37" r="1.45" fill="#000"/>
<circle cx="191.77" cy="660.80" r="1.45" fill="#000"/>
<circle cx="194.67" cy="660.80" r="1.45" fill="#000"/>
<circle cx="197.57" cy="660.80" r="1.45" fill="#000"/>
<circle cx="194.67" cy="653.65" r="1.45" fill="#000"/>
<circle cx="194.67" cy="646.51" r="1.45" fill="#000"/>
<circle cx="194.67" cy="642.94" r="1.45" fill="#000"/>
<circle cx="194.67" cy="639.36" r="1.45" fill="#000"/>
<circle cx="194.67" cy="635.79" r="1.45" fill="#000"/>
<circle cx="194.67" cy="632.22" r="1.45" fill="#000"/>
<circle cx="206.63" cy="700.10" r="1.45" fill="#000"/>
<circle cx="205.18" cy="692.95" r="1.45" fill="#000"/>
<circle cx="208.08" cy="692.95" r="1.45" fill="#000"/>
<circle cx="206.63" cy="685.81" r="1.45" fill="#000"/>
<circle cx="206.63" cy="682.24" r="1.45" fill="#000"/>
<circle cx="206.63" cy="678.66" r="1.45" fill="#000"/>
<circle cx="206.63" cy="675.09" r="1.45" fill="#000"/>
<circle cx="205.18" cy="671.52" r="1.45" fill="#000"/>
<circle cx="208.08" cy="671.52" r="1.45" fill="#000"/>
<circle cx="205.18" cy="664.37" r="1.45" fill="#000"/>
<circle cx="208.08" cy="664.37" r="1.45" fill="#000"/>
<circle cx="202.28" cy="660.80" r="1.45" fill="#000"/>
<circle cx="205.18" cy="660.80" r="1.45" fill="#000"/>
<circle cx="208.08" cy="660.80" r="1.45" fill="#000"/>
<circle cx="210.98" cy="660.80" r="1.45" fill="#000"/>
<circle cx="206.63" cy="653.65" r="1.45" fill="#000"/>
<circle cx="206.63" cy="646.51" r="1.45" fill="#000"/>
<circle cx="206.63" cy="588.15" r="1.45" fill="#000"/>
<circle cx="218.58" cy="700.10" r="1.45" fill="#000"/>
<circle cx="217.13" cy="692.95" r="1.45" fill="#000"/>
<circle cx="220.03" cy="692.95" r="1.45" fill="#000"/>
<circle cx="218.58" cy="685.81" r="1.45" fill="#000"/>
<circle cx="218.58" cy="682.24" r="1.45" fill="#000"/>
<circle cx="218.58" cy="678.66" r="1.45" fill="#000"/>
<circle cx="218.58" cy="675.09" r="1.45" fill="#000"/>
<circle cx="217.13" cy="671.52" r="1.45" fill="#000"/>
<circle cx="220.03" cy="671.52" r="1.45" fill="#000"/>
<circle cx="217.13" cy="664.37" r="1.45" fill="#000"/>
<circle cx="220.03" cy="664.37" r="1.45" fill="#000"/>
<circle cx="214.23" cy="660.80" r="1.45" fill="#000"/>
<circle cx="217.13" cy="660.80" r="1.45" fill="#000"/>
<circle cx="220.03" cy="660.80" r="1.45" fill="#000"/>
<circle cx="222.93" cy="660.80" r="1.45" fill="#000"/>
<circle cx="218.58" cy="653.65" r="1.45" fill="#000"/>
<circle cx="218.58" cy="646.51" r="1.45" fill="#000"/>
<circle cx="218.58" cy="588.15" r="1.45" fill="#000"/>
<circle cx="230.54" cy="703.67" r="1.45" fill="#000"/>
<circle cx="229.09" cy="692.95" r="1.45" fill="#000"/>
<circle cx="231.99" cy="692.95" r="1.45" fill="#000"/>
<circle cx="226.19" cy="678.66" r="1.45" fill="#000"/>
<circle cx="229.09" cy="678.66" r="1.45" fill="#000"/>
<circle cx="231.99" cy="678.66" r="1.45" fill="#000"/>
<circle cx="234.89" cy="678.66" r="1.45" fill="#000"/>
<circle cx="229.09" cy="675.09" r="1.45" fill="#000"/>
<circle cx="231.99" cy="675.09" r="1.45" fill="#000"/>
<circle cx="229.09" cy="671.52" r="1.45" fill="#000"/>
<circle cx="231.99" cy="671.52" r="1.45" fill="#000"/>
<circle cx="230.54" cy="664.37" r="1.45" fill="#000"/>
<circle cx="230.54" cy="653.65" r="1.45" fill="#000"/>
<circle cx="230.54" cy="642.94" r="1.45" fill="#000"/>
<circle cx="230.54" cy="639.36" r="1.45" fill="#000"/>
<circle cx="230.54" cy="635.79" r="1.45" fill="#000"/>
<circle cx="230.54" cy="625.07" r="1.45" fill="#000"/>
<circle cx="230.54" cy="621.50" r="1.45" fill="#000"/>
<circle cx="242.50" cy="700.10" r="1.45" fill="#000"/>
<circle cx="242.50" cy="692.95" r="1.45" fill="#000"/>
<circle cx="242.50" cy="685.81" r="1.45" fill="#000"/>
<circle cx="241.05" cy="678.66" r="1.45" fill="#000"/>
<circle cx="243.95" cy="678.66" r="1.45" fill="#000"/>
<circle cx="241.05" cy="675.09" r="1.45" fill="#000"/>
<circle cx="243.95" cy="675.09" r="1.45" fill="#000"/>
<circle cx="242.50" cy="671.52" r="1.45" fill="#000"/>
<circle cx="239.60" cy="667.95" r="1.45" fill="#000"/>
<circle cx="242.50" cy="667.95" r="1.45" fill="#000"/>
<circle cx="245.40" cy="667.95" r="1.45" fill="#000"/>
<circle cx="242.50" cy="660.80" r="1.45" fill="#000"/>
<circle cx="242.50" cy="650.08" r="1.45" fill="#000"/>
<circle cx="242.50" cy="646.51" r="1.45" fill="#000"/>
<circle cx="242.50" cy="639.36" r="1.45" fill="#000"/>
<circle cx="242.50" cy="628.65" r="1.45" fill="#000"/>
<circle cx="242.50" cy="617.93" r="1.45" fill="#000"/>
<circle cx="242.50" cy="607.21" r="1.45" fill="#000"/>
<circle cx="254.46" cy="703.67" r="1.45" fill="#000"/>
<circle cx="250.11" cy="696.53" r="1.45" fill="#000"/>
<circle cx="253.01" cy="696.53" r="1.45" fill="#000"/>
<circle cx="255.91" cy="696.53" r="1.45" fill="#000"/>
<circle cx="258.81" cy="696.53" r="1.45" fill="#000"/>
<circle cx="254.46" cy="689.38" r="1.45" fill="#000"/>
<circle cx="253.01" cy="682.24" r="1.45" fill="#000"/>
<circle cx="255.91" cy="682.24" r="1.45" fill="#000"/>
<circle cx="254.46" cy="675.09" r="1.45" fill="#000"/>
<circle cx="250.11" cy="671.52" r="1.45" fill="#000"/>
<circle cx="253.01" cy="671.52" r="1.45" fill="#000"/>
<circle cx="255.91" cy="671.52" r="1.45" fill="#000"/>
<circle cx="258.81" cy="671.52" r="1.45" fill="#000"/>
<circle cx="253.01" cy="646.51" r="1.45" fill="#000"/>
<circle cx="255.91" cy="646.51" r="1.45" fill="#000"/>
<circle cx="254.46" cy="639.36" r="1.45" fill="#000"/>
<circle cx="254.46" cy="617.93" r="1.45" fill="#000"/>
<circle cx="254.46" cy="614.35" r="1.45" fill="#000"/>
<circle cx="266.41" cy="703.67" r="1.45" fill="#000"/>
<circle cx="262.06" cy="675.09" r="1.45" fill="#000"/>
<circle cx="264.96" cy="675.09" r="1.45" fill="#000"/>
<circle cx="267.86" cy="675.09" r="1.45" fill="#000"/>
<circle cx="270.76" cy="675.09" r="1.45" fill="#000"/>
<circle cx="264.96" cy="671.52" r="1.45" fill="#000"/>
<circle cx="267.86" cy="671.52" r="1.45" fill="#000"/>
<circle cx="263.51" cy="667.95" r="1.45" fill="#000"/>
<circle cx="266.41" cy="667.95" r="1.45" fill="#000"/>
<circle cx="269.31" cy="667.95" r="1.45" fill="#000"/>
<circle cx="266.41" cy="660.80" r="1.45" fill="#000"/>
<circle cx="266.41" cy="653.65" r="1.45" fill="#000"/>
<circle cx="266.41" cy="646.51" r="1.45" fill="#000"/>
<circle cx="264.96" cy="642.94" r="1.45" fill="#000"/>
<circle cx="267.86" cy="642.94" r="1.45" fill="#000"/>
<circle cx="266.41" cy="639.36" r="1.45" fill="#000"/>
<circle cx="266.41" cy="625.07" r="1.45" fill="#000"/>
<circle cx="266.41" cy="607.21" r="1.45" fill="#000"/>
<circle cx="278.37" cy="703.67" r="1.45" fill="#000"/>
<circle cx="278.37" cy="692.95" r="1.45" fill="#000"/>
<circle cx="278.37" cy="689.38" r="1.45" fill="#000"/>
<circle cx="278.37" cy="682.24" r="1.45" fill="#000"/>
<circle cx="276.92" cy="678.66" r="1.45" fill="#000"/>
<circle cx="279.82" cy="678.66" r="1.45" fill="#000"/>
<circle cx="276.92" cy="675.09" r="1.45" fill="#000"/>
<circle cx="279.82" cy="675.09" r="1.45" fill="#000"/>
<circle cx="278.37" cy="671.52" r="1.45" fill="#000"/>
<circle cx="278.37" cy="664.37" r="1.45" fill="#000"/>
<circle cx="278.37" cy="660.80" r="1.45" fill="#000"/>
<circle cx="278.37" cy="653.65" r="1.45" fill="#000"/>
<circle cx="278.37" cy="650.08" r="1.45" fill="#000"/>
<circle cx="278.37" cy="646.51" r="1.45" fill="#000"/>
<circle cx="276.92" cy="642.94" r="1.45" fill="#000"/>
<circle cx="279.82" cy="642.94" r="1.45" fill="#000"/>
<circle cx="278.37" cy="639.36" r="1.45" fill="#000"/>
<circle cx="278.37" cy="588.15" r="1.45" fill="#000"/>
<circle cx="290.33" cy="703.67" r="1.45" fill="#000"/>
<circle cx="290.33" cy="692.95" r="1.45" fill="#000"/>
<circle cx="290.33" cy="689.38" r="1.45" fill="#000"/>
<circle cx="290.33" cy="682.24" r="1.45" fill="#000"/>
<circle cx="288.88" cy="678.66" r="1.45" fill="#000"/>
<circle cx="291.78" cy="678.66" r="1.45" fill="#000"/>
<circle cx="288.88" cy="675.09" r="1.45" fill="#000"/>
<circle cx="291.78" cy="675.09" r="1.45" fill="#000"/>
<circle cx="290.33" cy="671.52" r="1.45" fill="#000"/>
<circle cx="290.33" cy="664.37" r="1.45" fill="#000"/>
<circle cx="290.33" cy="660.80" r="1.45" fill="#000"/>
<circle cx="290.33" cy="653.65" r="1.45" fill="#000"/>
<circle cx="290.33" cy="650.08" r="1.45" fill="#000"/>
<circle cx="290.33" cy="646.51" r="1.45" fill="#000"/>
<circle cx="288.88" cy="642.94" r="1.45" fill="#000"/>
<circle cx="291.78" cy="642.94" r="1.45" fill="#000"/>
<circle cx="290.33" cy="639.36" r="1.45" fill="#000"/>
<circle cx="290.33" cy="588.15" r="1.45" fill="#000"/>
<circle cx="27.27" cy="697.84" r="1.9" fill="none" stroke="#FF0000" stroke-width="1.25"/>
<circle cx="39.23" cy="697.24" r="1.9" fill="none" stroke="#FF0000" stroke-width="1.25"/>
<circle cx="51.19" cy="694.50" r="1.9" fill="none" stroke="#FF0000" stroke-width="1.25"/>
<circle cx="63.14" cy="692.60" r="1.9" fill="none" stroke="#FF0000" stroke-width="1.25"/>
<circle cx="75.10" cy="691.05" r="1.9" fill="none" stroke="#FF0000" stroke-width="1.25"/>
<circle cx="87.06" cy="684.38" r="1.9" fill="none" stroke="#FF0000" stroke-width="1.25"/>
<circle cx="99.02" cy="682.83" r="1.9" fill="none" stroke="#FF0000" stroke-width="1.25"/>
<circle cx="110.97" cy="682.83" r="1.9" fill="none" stroke="#FF0000" stroke-width="1.25"/>
<circle cx="122.93" cy="677.47" r="1.9" fill="none" stroke="#FF0000" stroke-width="1.25"/>
<circle cx="134.89" cy="681.76" r="1.9" fill="none" stroke="#FF0000" stroke-width="1.25"/>
<circle cx="146.84" cy="675.21" r="1.9" fill="none" stroke="#FF0000" stroke-width="1.25"/>
<circle cx="158.80" cy="667.47" r="1.9" fill="none" stroke="#FF0000" stroke-width="1.25"/>
<circle cx="182.71" cy="670.57" r="1.9" fill="none" stroke="#FF0000" stroke-width="1.25"/>
<circle cx="194.67" cy="663.30" r="1.9" fill="none" stroke="#FF0000" stroke-width="1.25"/>
<circle cx="206.63" cy="670.09" r="1.9" fill="none" stroke="#FF0000" stroke-width="1.25"/>
<circle cx="218.58" cy="670.09" r="1.9" fill="none" stroke="#FF0000" stroke-width="1.25"/>
<circle cx="230.54" cy="664.73" r="1.9" fill="none" stroke="#FF0000" stroke-width="1.25"/>
<circle cx="242.50" cy="661.40" r="1.9" fill="none" stroke="#FF0000" stroke-width="1.25"/>
<circle cx="254.46" cy="662.11" r="1.9" fill="none" stroke="#FF0000" stroke-width="1.25"/>
<circle cx="266.41" cy="658.54" r="1.9" fill="none" stroke="#FF0000" stroke-width="1.25"/>
<circle cx="278.37" cy="659.85" r="1.9" fill="none" stroke="#FF0000" stroke-width="1.25"/>
<circle cx="290.33" cy="659.85" r="1.9" fill="none" stroke="#FF0000" stroke-width="1.25"/>
<rect x="20.10" y="31.80" width="277.40" height="131.00" fill="none" stroke="#2A2A2A" stroke-width="1.6"/>
<rect x="20.10" y="169.40" width="277.40" height="131.00" fill="none" stroke="#2A2A2A" stroke-width="1.6"/>
<rect x="20.10" y="307.00" width="277.40" height="131.00" fill="none" stroke="#2A2A2A" stroke-width="1.6"/>
<rect x="20.10" y="444.60" width="277.40" height="131.00" fill="none" stroke="#2A2A2A" stroke-width="1.6"/>
<rect x="20.10" y="582.20" width="277.40" height="131.00" fill="none" stroke="#2A2A2A" stroke-width="1.6"/>
<rect x="20.10" y="719.80" width="277.40" height="131.00" fill="none" stroke="#2A2A2A" stroke-width="1.6"/>
<rect x="297.50" y="31.80" width="9.60" height="131.00" fill="#D9D9D9" stroke="#2A2A2A" stroke-width="1.6"/>
<text x="302.30" y="97.30" font-size="8.5" fill="#1A1A1A" stroke="#1A1A1A" text-anchor="middle" transform="rotate(90 302.30 97.30) translate(0 3.0)">Concordances</text>
<rect x="297.50" y="169.40" width="9.60" height="131.00" fill="#D9D9D9" stroke="#2A2A2A" stroke-width="1.6"/>
<text x="302.30" y="234.90" font-size="8.5" fill="#1A1A1A" stroke="#1A1A1A" text-anchor="middle" transform="rotate(90 302.30 234.90) translate(0 3.0)">Proportion DA</text>
<rect x="297.50" y="307.00" width="9.60" height="131.00" fill="#D9D9D9" stroke="#2A2A2A" stroke-width="1.6"/>
<text x="302.30" y="372.50" font-size="8.5" fill="#1A1A1A" stroke="#1A1A1A" text-anchor="middle" transform="rotate(90 302.30 372.50) translate(0 3.0)">Concordances</text>
<rect x="297.50" y="444.60" width="9.60" height="131.00" fill="#D9D9D9" stroke="#2A2A2A" stroke-width="1.6"/>
<text x="302.30" y="510.10" font-size="8.5" fill="#1A1A1A" stroke="#1A1A1A" text-anchor="middle" transform="rotate(90 302.30 510.10) translate(0 3.0)">Proportion DA</text>
<rect x="297.50" y="582.20" width="9.60" height="131.00" fill="#D9D9D9" stroke="#2A2A2A" stroke-width="1.6"/>
<text x="302.30" y="647.70" font-size="8.5" fill="#1A1A1A" stroke="#1A1A1A" text-anchor="middle" transform="rotate(90 302.30 647.70) translate(0 3.0)">Concordances</text>
<rect x="297.50" y="719.80" width="9.60" height="131.00" fill="#D9D9D9" stroke="#2A2A2A" stroke-width="1.6"/>
<text x="302.30" y="785.30" font-size="8.5" fill="#1A1A1A" stroke="#1A1A1A" text-anchor="middle" transform="rotate(90 302.30 785.30) translate(0 3.0)">Proportion DA</text>
<rect x="307.10" y="31.80" width="10.00" height="268.60" fill="#D9D9D9" stroke="#2A2A2A" stroke-width="1.6"/>
<text x="312.10" y="166.10" font-size="8.5" fill="#1A1A1A" stroke="#1A1A1A" text-anchor="middle" transform="rotate(90 312.10 166.10) translate(0 3.0)">Dataset 1</text>
<rect x="307.10" y="307.00" width="10.00" height="268.60" fill="#D9D9D9" stroke="#2A2A2A" stroke-width="1.6"/>
<text x="312.10" y="441.30" font-size="8.5" fill="#1A1A1A" stroke="#1A1A1A" text-anchor="middle" transform="rotate(90 312.10 441.30) translate(0 3.0)">Dataset 2</text>
<rect x="307.10" y="582.20" width="10.00" height="268.60" fill="#D9D9D9" stroke="#2A2A2A" stroke-width="1.6"/>
<text x="312.10" y="716.50" font-size="8.5" fill="#1A1A1A" stroke="#1A1A1A" text-anchor="middle" transform="rotate(90 312.10 716.50) translate(0 3.0)">Replicated</text>
<line x1="27.27" x2="27.27" y1="29.00" y2="31.80" stroke="#2A2A2A" stroke-width="1.1"/>
<text x="26.97" y="24.00" font-size="6.1" fill="#333" stroke="#333" transform="rotate(-24 26.97 24.0)">GLM NBZI</text>
<line x1="39.23" x2="39.23" y1="29.00" y2="31.80" stroke="#2A2A2A" stroke-width="1.1"/>
<text x="38.93" y="24.00" font-size="6.1" fill="#333" stroke="#333" transform="rotate(-24 38.93 24.0)">baySeq</text>
<line x1="51.19" x2="51.19" y1="29.00" y2="31.80" stroke="#2A2A2A" stroke-width="1.1"/>
<text x="50.89" y="24.00" font-size="6.1" fill="#333" stroke="#333" transform="rotate(-24 50.89 24.0)">edgeR RLE</text>
<line x1="63.14" x2="63.14" y1="29.00" y2="31.80" stroke="#2A2A2A" stroke-width="1.1"/>
<text x="62.84" y="24.00" font-size="6.1" fill="#333" stroke="#333" transform="rotate(-24 62.84 24.0)">fitZIG</text>
<line x1="75.10" x2="75.10" y1="29.00" y2="31.80" stroke="#2A2A2A" stroke-width="1.1"/>
<text x="74.80" y="24.00" font-size="6.1" fill="#333" stroke="#333" transform="rotate(-24 74.80 24.0)">edgeR TMM</text>
<line x1="87.06" x2="87.06" y1="29.00" y2="31.80" stroke="#2A2A2A" stroke-width="1.1"/>
<text x="86.76" y="24.00" font-size="6.1" fill="#333" stroke="#333" transform="rotate(-24 86.76 24.0)">KW rCLR</text>
<line x1="99.02" x2="99.02" y1="29.00" y2="31.80" stroke="#2A2A2A" stroke-width="1.1"/>
<text x="98.72" y="24.00" font-size="6.1" fill="#333" stroke="#333" transform="rotate(-24 98.72 24.0)">t&#8722;test rCLR</text>
<line x1="110.97" x2="110.97" y1="29.00" y2="31.80" stroke="#2A2A2A" stroke-width="1.1"/>
<text x="110.67" y="24.00" font-size="6.1" fill="#333" stroke="#333" transform="rotate(-24 110.67 24.0)">ALDEx2 t&#8722;test</text>
<line x1="122.93" x2="122.93" y1="29.00" y2="31.80" stroke="#2A2A2A" stroke-width="1.1"/>
<text x="122.63" y="24.00" font-size="6.1" fill="#333" stroke="#333" transform="rotate(-24 122.63 24.0)">GLM rCLR</text>
<line x1="134.89" x2="134.89" y1="29.00" y2="31.80" stroke="#2A2A2A" stroke-width="1.1"/>
<text x="134.59" y="24.00" font-size="6.1" fill="#333" stroke="#333" transform="rotate(-24 134.59 24.0)">DESeq2</text>
<line x1="146.84" x2="146.84" y1="29.00" y2="31.80" stroke="#2A2A2A" stroke-width="1.1"/>
<text x="146.54" y="24.00" font-size="6.1" fill="#333" stroke="#333" transform="rotate(-24 146.54 24.0)">limma&#8722;voom</text>
<line x1="158.80" x2="158.80" y1="29.00" y2="31.80" stroke="#2A2A2A" stroke-width="1.1"/>
<text x="158.50" y="24.00" font-size="6.1" fill="#333" stroke="#333" transform="rotate(-24 158.50 24.0)">KW CLR</text>
<line x1="170.76" x2="170.76" y1="29.00" y2="31.80" stroke="#2A2A2A" stroke-width="1.1"/>
<text x="170.46" y="24.00" font-size="6.1" fill="#333" stroke="#333" transform="rotate(-24 170.46 24.0)">SAMseq</text>
<line x1="182.71" x2="182.71" y1="29.00" y2="31.80" stroke="#2A2A2A" stroke-width="1.1"/>
<text x="182.41" y="24.00" font-size="6.1" fill="#333" stroke="#333" transform="rotate(-24 182.41 24.0)">fitFeatureModel</text>
<line x1="194.67" x2="194.67" y1="29.00" y2="31.80" stroke="#2A2A2A" stroke-width="1.1"/>
<text x="194.37" y="24.00" font-size="6.1" fill="#333" stroke="#333" transform="rotate(-24 194.37 24.0)">ALDEx2 Wilcoxon</text>
<line x1="206.63" x2="206.63" y1="29.00" y2="31.80" stroke="#2A2A2A" stroke-width="1.1"/>
<text x="206.33" y="24.00" font-size="6.1" fill="#333" stroke="#333" transform="rotate(-24 206.33 24.0)">LEfSe</text>
<line x1="218.58" x2="218.58" y1="29.00" y2="31.80" stroke="#2A2A2A" stroke-width="1.1"/>
<text x="218.28" y="24.00" font-size="6.1" fill="#333" stroke="#333" transform="rotate(-24 218.28 24.0)">KW TSS</text>
<line x1="230.54" x2="230.54" y1="29.00" y2="31.80" stroke="#2A2A2A" stroke-width="1.1"/>
<text x="230.24" y="24.00" font-size="6.1" fill="#333" stroke="#333" transform="rotate(-24 230.24 24.0)">ANCOM</text>
<line x1="242.50" x2="242.50" y1="29.00" y2="31.80" stroke="#2A2A2A" stroke-width="1.1"/>
<text x="242.20" y="24.00" font-size="6.1" fill="#333" stroke="#333" transform="rotate(-24 242.20 24.0)">t&#8722;test TSS</text>
<line x1="254.46" x2="254.46" y1="29.00" y2="31.80" stroke="#2A2A2A" stroke-width="1.1"/>
<text x="254.16" y="24.00" font-size="6.1" fill="#333" stroke="#333" transform="rotate(-24 254.16 24.0)">GLM CLR</text>
<line x1="266.41" x2="266.41" y1="29.00" y2="31.80" stroke="#2A2A2A" stroke-width="1.1"/>
<text x="266.11" y="24.00" font-size="6.1" fill="#333" stroke="#333" transform="rotate(-24 266.11 24.0)">GLM TSS</text>
<line x1="278.37" x2="278.37" y1="29.00" y2="31.80" stroke="#2A2A2A" stroke-width="1.1"/>
<text x="278.07" y="24.00" font-size="6.1" fill="#333" stroke="#333" transform="rotate(-24 278.07 24.0)">t&#8722;test CLR</text>
<line x1="290.33" x2="290.33" y1="29.00" y2="31.80" stroke="#2A2A2A" stroke-width="1.1"/>
<text x="290.03" y="24.00" font-size="6.1" fill="#333" stroke="#333" transform="rotate(-24 290.03 24.0)">ANCOM&#8722;BC</text>
<rect x="356.30" y="32.90" width="240.00" height="268.00" fill="#fff"/>
<line x1="356.30" x2="596.30" y1="258.26" y2="258.26" stroke="#E0E0E0" stroke-width="0.9"/>
<line x1="356.30" x2="596.30" y1="197.35" y2="197.35" stroke="#E0E0E0" stroke-width="0.9"/>
<line x1="356.30" x2="596.30" y1="136.45" y2="136.45" stroke="#E0E0E0" stroke-width="0.9"/>
<line x1="356.30" x2="596.30" y1="75.54" y2="75.54" stroke="#E0E0E0" stroke-width="0.9"/>
<line x1="394.65" x2="394.65" y1="32.90" y2="300.90" stroke="#E0E0E0" stroke-width="0.9"/>
<line x1="449.15" x2="449.15" y1="32.90" y2="300.90" stroke="#E0E0E0" stroke-width="0.9"/>
<line x1="503.65" x2="503.65" y1="32.90" y2="300.90" stroke="#E0E0E0" stroke-width="0.9"/>
<line x1="558.15" x2="558.15" y1="32.90" y2="300.90" stroke="#E0E0E0" stroke-width="0.9"/>
<line x1="356.30" x2="596.30" y1="288.72" y2="288.72" stroke="#E0E0E0" stroke-width="1.0"/>
<line x1="356.30" x2="596.30" y1="227.81" y2="227.81" stroke="#E0E0E0" stroke-width="1.0"/>
<line x1="356.30" x2="596.30" y1="166.90" y2="166.90" stroke="#E0E0E0" stroke-width="1.0"/>
<line x1="356.30" x2="596.30" y1="105.99" y2="105.99" stroke="#E0E0E0" stroke-width="1.0"/>
<line x1="356.30" x2="596.30" y1="45.08" y2="45.08" stroke="#E0E0E0" stroke-width="1.0"/>
<line x1="367.40" x2="367.40" y1="32.90" y2="300.90" stroke="#E0E0E0" stroke-width="1.0"/>
<line x1="421.90" x2="421.90" y1="32.90" y2="300.90" stroke="#E0E0E0" stroke-width="1.0"/>
<line x1="476.40" x2="476.40" y1="32.90" y2="300.90" stroke="#E0E0E0" stroke-width="1.0"/>
<line x1="530.90" x2="530.90" y1="32.90" y2="300.90" stroke="#E0E0E0" stroke-width="1.0"/>
<line x1="585.40" x2="585.40" y1="32.90" y2="300.90" stroke="#E0E0E0" stroke-width="1.0"/>
<line x1="353.50" x2="356.30" y1="288.72" y2="288.72" stroke="#2A2A2A" stroke-width="1.1"/>
<text x="350.30" y="291.22" font-size="7" fill="#3A3A3A" stroke="#3A3A3A" text-anchor="end">0.00</text>
<line x1="353.50" x2="356.30" y1="227.81" y2="227.81" stroke="#2A2A2A" stroke-width="1.1"/>
<text x="350.30" y="230.31" font-size="7" fill="#3A3A3A" stroke="#3A3A3A" text-anchor="end">0.25</text>
<line x1="353.50" x2="356.30" y1="166.90" y2="166.90" stroke="#2A2A2A" stroke-width="1.1"/>
<text x="350.30" y="169.40" font-size="7" fill="#3A3A3A" stroke="#3A3A3A" text-anchor="end">0.50</text>
<line x1="353.50" x2="356.30" y1="105.99" y2="105.99" stroke="#2A2A2A" stroke-width="1.1"/>
<text x="350.30" y="108.49" font-size="7" fill="#3A3A3A" stroke="#3A3A3A" text-anchor="end">0.75</text>
<line x1="353.50" x2="356.30" y1="45.08" y2="45.08" stroke="#2A2A2A" stroke-width="1.1"/>
<text x="350.30" y="47.58" font-size="7" fill="#3A3A3A" stroke="#3A3A3A" text-anchor="end">1.00</text>
<rect x="356.30" y="307.90" width="240.00" height="268.00" fill="#fff"/>
<line x1="356.30" x2="596.30" y1="533.26" y2="533.26" stroke="#E0E0E0" stroke-width="0.9"/>
<line x1="356.30" x2="596.30" y1="472.35" y2="472.35" stroke="#E0E0E0" stroke-width="0.9"/>
<line x1="356.30" x2="596.30" y1="411.45" y2="411.45" stroke="#E0E0E0" stroke-width="0.9"/>
<line x1="356.30" x2="596.30" y1="350.54" y2="350.54" stroke="#E0E0E0" stroke-width="0.9"/>
<line x1="394.65" x2="394.65" y1="307.90" y2="575.90" stroke="#E0E0E0" stroke-width="0.9"/>
<line x1="449.15" x2="449.15" y1="307.90" y2="575.90" stroke="#E0E0E0" stroke-width="0.9"/>
<line x1="503.65" x2="503.65" y1="307.90" y2="575.90" stroke="#E0E0E0" stroke-width="0.9"/>
<line x1="558.15" x2="558.15" y1="307.90" y2="575.90" stroke="#E0E0E0" stroke-width="0.9"/>
<line x1="356.30" x2="596.30" y1="563.72" y2="563.72" stroke="#E0E0E0" stroke-width="1.0"/>
<line x1="356.30" x2="596.30" y1="502.81" y2="502.81" stroke="#E0E0E0" stroke-width="1.0"/>
<line x1="356.30" x2="596.30" y1="441.90" y2="441.90" stroke="#E0E0E0" stroke-width="1.0"/>
<line x1="356.30" x2="596.30" y1="380.99" y2="380.99" stroke="#E0E0E0" stroke-width="1.0"/>
<line x1="356.30" x2="596.30" y1="320.08" y2="320.08" stroke="#E0E0E0" stroke-width="1.0"/>
<line x1="367.40" x2="367.40" y1="307.90" y2="575.90" stroke="#E0E0E0" stroke-width="1.0"/>
<line x1="421.90" x2="421.90" y1="307.90" y2="575.90" stroke="#E0E0E0" stroke-width="1.0"/>
<line x1="476.40" x2="476.40" y1="307.90" y2="575.90" stroke="#E0E0E0" stroke-width="1.0"/>
<line x1="530.90" x2="530.90" y1="307.90" y2="575.90" stroke="#E0E0E0" stroke-width="1.0"/>
<line x1="585.40" x2="585.40" y1="307.90" y2="575.90" stroke="#E0E0E0" stroke-width="1.0"/>
<line x1="353.50" x2="356.30" y1="563.72" y2="563.72" stroke="#2A2A2A" stroke-width="1.1"/>
<text x="350.30" y="566.22" font-size="7" fill="#3A3A3A" stroke="#3A3A3A" text-anchor="end">0.00</text>
<line x1="353.50" x2="356.30" y1="502.81" y2="502.81" stroke="#2A2A2A" stroke-width="1.1"/>
<text x="350.30" y="505.31" font-size="7" fill="#3A3A3A" stroke="#3A3A3A" text-anchor="end">0.25</text>
<line x1="353.50" x2="356.30" y1="441.90" y2="441.90" stroke="#2A2A2A" stroke-width="1.1"/>
<text x="350.30" y="444.40" font-size="7" fill="#3A3A3A" stroke="#3A3A3A" text-anchor="end">0.50</text>
<line x1="353.50" x2="356.30" y1="380.99" y2="380.99" stroke="#2A2A2A" stroke-width="1.1"/>
<text x="350.30" y="383.49" font-size="7" fill="#3A3A3A" stroke="#3A3A3A" text-anchor="end">0.75</text>
<line x1="353.50" x2="356.30" y1="320.08" y2="320.08" stroke="#2A2A2A" stroke-width="1.1"/>
<text x="350.30" y="322.58" font-size="7" fill="#3A3A3A" stroke="#3A3A3A" text-anchor="end">1.00</text>
<rect x="356.30" y="582.90" width="240.00" height="268.00" fill="#fff"/>
<line x1="356.30" x2="596.30" y1="808.26" y2="808.26" stroke="#E0E0E0" stroke-width="0.9"/>
<line x1="356.30" x2="596.30" y1="747.35" y2="747.35" stroke="#E0E0E0" stroke-width="0.9"/>
<line x1="356.30" x2="596.30" y1="686.45" y2="686.45" stroke="#E0E0E0" stroke-width="0.9"/>
<line x1="356.30" x2="596.30" y1="625.54" y2="625.54" stroke="#E0E0E0" stroke-width="0.9"/>
<line x1="394.65" x2="394.65" y1="582.90" y2="850.90" stroke="#E0E0E0" stroke-width="0.9"/>
<line x1="449.15" x2="449.15" y1="582.90" y2="850.90" stroke="#E0E0E0" stroke-width="0.9"/>
<line x1="503.65" x2="503.65" y1="582.90" y2="850.90" stroke="#E0E0E0" stroke-width="0.9"/>
<line x1="558.15" x2="558.15" y1="582.90" y2="850.90" stroke="#E0E0E0" stroke-width="0.9"/>
<line x1="356.30" x2="596.30" y1="838.72" y2="838.72" stroke="#E0E0E0" stroke-width="1.0"/>
<line x1="356.30" x2="596.30" y1="777.81" y2="777.81" stroke="#E0E0E0" stroke-width="1.0"/>
<line x1="356.30" x2="596.30" y1="716.90" y2="716.90" stroke="#E0E0E0" stroke-width="1.0"/>
<line x1="356.30" x2="596.30" y1="655.99" y2="655.99" stroke="#E0E0E0" stroke-width="1.0"/>
<line x1="356.30" x2="596.30" y1="595.08" y2="595.08" stroke="#E0E0E0" stroke-width="1.0"/>
<line x1="367.40" x2="367.40" y1="582.90" y2="850.90" stroke="#E0E0E0" stroke-width="1.0"/>
<line x1="421.90" x2="421.90" y1="582.90" y2="850.90" stroke="#E0E0E0" stroke-width="1.0"/>
<line x1="476.40" x2="476.40" y1="582.90" y2="850.90" stroke="#E0E0E0" stroke-width="1.0"/>
<line x1="530.90" x2="530.90" y1="582.90" y2="850.90" stroke="#E0E0E0" stroke-width="1.0"/>
<line x1="585.40" x2="585.40" y1="582.90" y2="850.90" stroke="#E0E0E0" stroke-width="1.0"/>
<line x1="353.50" x2="356.30" y1="838.72" y2="838.72" stroke="#2A2A2A" stroke-width="1.1"/>
<text x="350.30" y="841.22" font-size="7" fill="#3A3A3A" stroke="#3A3A3A" text-anchor="end">0.00</text>
<line x1="353.50" x2="356.30" y1="777.81" y2="777.81" stroke="#2A2A2A" stroke-width="1.1"/>
<text x="350.30" y="780.31" font-size="7" fill="#3A3A3A" stroke="#3A3A3A" text-anchor="end">0.25</text>
<line x1="353.50" x2="356.30" y1="716.90" y2="716.90" stroke="#2A2A2A" stroke-width="1.1"/>
<text x="350.30" y="719.40" font-size="7" fill="#3A3A3A" stroke="#3A3A3A" text-anchor="end">0.50</text>
<line x1="353.50" x2="356.30" y1="655.99" y2="655.99" stroke="#2A2A2A" stroke-width="1.1"/>
<text x="350.30" y="658.49" font-size="7" fill="#3A3A3A" stroke="#3A3A3A" text-anchor="end">0.75</text>
<line x1="353.50" x2="356.30" y1="595.08" y2="595.08" stroke="#2A2A2A" stroke-width="1.1"/>
<text x="350.30" y="597.58" font-size="7" fill="#3A3A3A" stroke="#3A3A3A" text-anchor="end">1.00</text>
<polygon points="369.58,215.44 373.09,216.39 376.59,217.32 380.10,218.24 383.60,219.15 387.11,220.04 390.62,220.92 394.12,221.79 397.63,222.64 401.14,223.47 404.64,224.29 408.15,225.09 411.65,225.88 415.16,226.66 418.67,227.43 422.17,228.18 425.68,228.93 429.18,229.66 432.69,230.38 436.20,231.10 439.70,231.81 443.21,232.51 446.72,233.21 450.22,233.90 453.73,234.58 457.23,235.27 460.74,235.94 464.25,236.62 467.75,237.28 471.26,237.95 474.76,238.62 478.27,239.28 481.78,239.94 485.28,240.59 488.79,241.25 492.30,241.90 495.80,242.55 499.31,243.20 502.81,243.85 506.32,244.50 509.83,245.14 513.33,245.79 516.84,246.43 520.35,247.07 523.85,247.72 527.36,248.36 530.86,249.00 534.37,249.64 537.88,250.28 541.38,250.91 544.89,251.55 548.39,252.19 551.90,252.82 555.41,253.46 558.91,254.10 562.42,254.73 565.93,255.37 569.43,256.00 572.94,256.63 576.44,257.27 579.95,257.90 579.95,282.99 576.44,281.92 572.94,280.85 569.43,279.77 565.93,278.70 562.42,277.63 558.91,276.56 555.41,275.49 551.90,274.42 548.39,273.35 544.89,272.29 541.38,271.22 537.88,270.15 534.37,269.08 530.86,268.02 527.36,266.95 523.85,265.89 520.35,264.82 516.84,263.76 513.33,262.70 509.83,261.64 506.32,260.58 502.81,259.52 499.31,258.46 495.80,257.41 492.30,256.35 488.79,255.30 485.28,254.25 481.78,253.20 478.27,252.16 474.76,251.11 471.26,250.07 467.75,249.03 464.25,248.00 460.74,246.96 457.23,245.93 453.73,244.91 450.22,243.89 446.72,242.88 443.21,241.87 439.70,240.86 436.20,239.87 432.69,238.88 429.18,237.90 425.68,236.93 422.17,235.96 418.67,235.01 415.16,234.07 411.65,233.14 408.15,232.23 404.64,231.33 401.14,230.44 397.63,229.57 394.12,228.72 390.62,227.87 387.11,227.05 383.60,226.24 380.10,225.44 376.59,224.65 373.09,223.88 369.58,223.12" fill="#AFAFAF"/>
<line x1="369.58" y1="219.28" x2="579.95" y2="270.45" stroke="#000" stroke-width="3"/>
<circle cx="400.10" cy="284.58" r="2.4" fill="#FFB000"/>
<circle cx="400.10" cy="275.56" r="2.4" fill="#FFB000"/>
<circle cx="400.10" cy="269.96" r="2.4" fill="#FFB000"/>
<circle cx="400.10" cy="264.35" r="2.4" fill="#FFB000"/>
<circle cx="400.10" cy="259.97" r="2.4" fill="#FFB000"/>
<circle cx="400.10" cy="257.05" r="2.4" fill="#FFB000"/>
<circle cx="400.10" cy="254.37" r="2.4" fill="#FFB000"/>
<circle cx="400.10" cy="251.44" r="2.4" fill="#FFB000"/>
<circle cx="400.10" cy="248.52" r="2.4" fill="#FFB000"/>
<circle cx="400.10" cy="245.59" r="2.4" fill="#FFB000"/>
<circle cx="400.10" cy="239.02" r="2.4" fill="#FFB000"/>
<circle cx="400.10" cy="234.63" r="2.4" fill="#FFB000"/>
<circle cx="400.10" cy="228.30" r="2.4" fill="#FFB000"/>
<circle cx="579.95" cy="286.28" r="2.4" fill="#117733"/>
<circle cx="579.95" cy="285.10" r="2.4" fill="#117733"/>
<circle cx="579.95" cy="283.91" r="2.4" fill="#117733"/>
<circle cx="579.95" cy="282.72" r="2.4" fill="#117733"/>
<circle cx="579.95" cy="281.54" r="2.4" fill="#117733"/>
<circle cx="579.95" cy="280.35" r="2.4" fill="#117733"/>
<circle cx="579.95" cy="279.17" r="2.4" fill="#117733"/>
<circle cx="579.95" cy="277.98" r="2.4" fill="#117733"/>
<circle cx="579.95" cy="276.80" r="2.4" fill="#117733"/>
<circle cx="579.95" cy="275.61" r="2.4" fill="#117733"/>
<circle cx="579.95" cy="274.42" r="2.4" fill="#117733"/>
<circle cx="579.95" cy="273.24" r="2.4" fill="#117733"/>
<circle cx="579.95" cy="272.05" r="2.4" fill="#117733"/>
<circle cx="579.95" cy="270.87" r="2.4" fill="#117733"/>
<circle cx="579.95" cy="269.68" r="2.4" fill="#117733"/>
<circle cx="579.95" cy="268.50" r="2.4" fill="#117733"/>
<circle cx="579.95" cy="259.48" r="2.4" fill="#117733"/>
<circle cx="579.95" cy="228.78" r="2.4" fill="#117733"/>
<circle cx="579.95" cy="208.32" r="2.4" fill="#117733"/>
<circle cx="579.95" cy="175.18" r="2.4" fill="#117733"/>
<circle cx="579.95" cy="162.51" r="2.4" fill="#117733"/>
<circle cx="579.95" cy="135.71" r="2.4" fill="#117733"/>
<circle cx="457.32" cy="284.58" r="2.4" fill="#999999"/>
<circle cx="457.32" cy="282.63" r="2.4" fill="#999999"/>
<circle cx="457.32" cy="280.68" r="2.4" fill="#999999"/>
<circle cx="457.32" cy="278.73" r="2.4" fill="#999999"/>
<circle cx="457.32" cy="276.78" r="2.4" fill="#999999"/>
<circle cx="457.32" cy="274.83" r="2.4" fill="#999999"/>
<circle cx="457.32" cy="272.88" r="2.4" fill="#999999"/>
<circle cx="457.32" cy="270.93" r="2.4" fill="#999999"/>
<circle cx="457.32" cy="268.98" r="2.4" fill="#999999"/>
<circle cx="457.32" cy="267.03" r="2.4" fill="#999999"/>
<circle cx="457.32" cy="265.09" r="2.4" fill="#999999"/>
<circle cx="457.32" cy="263.14" r="2.4" fill="#999999"/>
<circle cx="457.32" cy="261.19" r="2.4" fill="#999999"/>
<circle cx="457.32" cy="259.24" r="2.4" fill="#999999"/>
<circle cx="457.32" cy="257.29" r="2.4" fill="#999999"/>
<circle cx="457.32" cy="255.34" r="2.4" fill="#999999"/>
<circle cx="457.32" cy="243.89" r="2.4" fill="#999999"/>
<circle cx="457.32" cy="239.02" r="2.4" fill="#999999"/>
<circle cx="457.32" cy="228.78" r="2.4" fill="#999999"/>
<circle cx="457.32" cy="208.07" r="2.4" fill="#999999"/>
<circle cx="457.32" cy="191.26" r="2.4" fill="#999999"/>
<circle cx="457.32" cy="187.85" r="2.4" fill="#999999"/>
<circle cx="522.72" cy="283.85" r="2.4" fill="#332288"/>
<circle cx="522.72" cy="282.63" r="2.4" fill="#332288"/>
<circle cx="522.72" cy="281.41" r="2.4" fill="#332288"/>
<circle cx="522.72" cy="280.19" r="2.4" fill="#332288"/>
<circle cx="522.72" cy="278.97" r="2.4" fill="#332288"/>
<circle cx="522.72" cy="277.75" r="2.4" fill="#332288"/>
<circle cx="522.72" cy="276.54" r="2.4" fill="#332288"/>
<circle cx="522.72" cy="275.32" r="2.4" fill="#332288"/>
<circle cx="522.72" cy="274.10" r="2.4" fill="#332288"/>
<circle cx="522.72" cy="272.88" r="2.4" fill="#332288"/>
<circle cx="522.72" cy="271.66" r="2.4" fill="#332288"/>
<circle cx="522.72" cy="270.45" r="2.4" fill="#332288"/>
<circle cx="522.72" cy="269.23" r="2.4" fill="#332288"/>
<circle cx="522.72" cy="268.01" r="2.4" fill="#332288"/>
<circle cx="522.72" cy="266.79" r="2.4" fill="#332288"/>
<circle cx="522.72" cy="264.84" r="2.4" fill="#332288"/>
<circle cx="522.72" cy="262.65" r="2.4" fill="#332288"/>
<circle cx="522.72" cy="252.17" r="2.4" fill="#332288"/>
<circle cx="522.72" cy="249.74" r="2.4" fill="#332288"/>
<circle cx="522.72" cy="199.55" r="2.4" fill="#332288"/>
<circle cx="522.72" cy="191.75" r="2.4" fill="#332288"/>
<circle cx="522.72" cy="162.51" r="2.4" fill="#332288"/>
<circle cx="473.67" cy="283.60" r="2.4" fill="#56B4E9"/>
<circle cx="473.67" cy="281.93" r="2.4" fill="#56B4E9"/>
<circle cx="473.67" cy="280.26" r="2.4" fill="#56B4E9"/>
<circle cx="473.67" cy="278.59" r="2.4" fill="#56B4E9"/>
<circle cx="473.67" cy="276.92" r="2.4" fill="#56B4E9"/>
<circle cx="473.67" cy="275.25" r="2.4" fill="#56B4E9"/>
<circle cx="473.67" cy="273.58" r="2.4" fill="#56B4E9"/>
<circle cx="473.67" cy="271.91" r="2.4" fill="#56B4E9"/>
<circle cx="473.67" cy="270.24" r="2.4" fill="#56B4E9"/>
<circle cx="473.67" cy="268.57" r="2.4" fill="#56B4E9"/>
<circle cx="473.67" cy="266.90" r="2.4" fill="#56B4E9"/>
<circle cx="473.67" cy="265.22" r="2.4" fill="#56B4E9"/>
<circle cx="473.67" cy="263.55" r="2.4" fill="#56B4E9"/>
<circle cx="473.67" cy="261.88" r="2.4" fill="#56B4E9"/>
<circle cx="473.67" cy="260.21" r="2.4" fill="#56B4E9"/>
<circle cx="473.67" cy="253.15" r="2.4" fill="#56B4E9"/>
<circle cx="473.67" cy="245.59" r="2.4" fill="#56B4E9"/>
<circle cx="473.67" cy="238.04" r="2.4" fill="#56B4E9"/>
<circle cx="473.67" cy="204.66" r="2.4" fill="#56B4E9"/>
<circle cx="473.67" cy="199.55" r="2.4" fill="#56B4E9"/>
<circle cx="473.67" cy="188.10" r="2.4" fill="#56B4E9"/>
<circle cx="473.67" cy="175.18" r="2.4" fill="#56B4E9"/>
<circle cx="427.35" cy="283.60" r="2.4" fill="#CC79A7"/>
<circle cx="427.35" cy="275.56" r="2.4" fill="#CC79A7"/>
<circle cx="427.35" cy="274.59" r="2.4" fill="#CC79A7"/>
<circle cx="427.35" cy="273.13" r="2.4" fill="#CC79A7"/>
<circle cx="427.35" cy="271.18" r="2.4" fill="#CC79A7"/>
<circle cx="427.35" cy="269.23" r="2.4" fill="#CC79A7"/>
<circle cx="427.35" cy="267.28" r="2.4" fill="#CC79A7"/>
<circle cx="427.35" cy="265.57" r="2.4" fill="#CC79A7"/>
<circle cx="427.35" cy="260.94" r="2.4" fill="#CC79A7"/>
<circle cx="427.35" cy="251.93" r="2.4" fill="#CC79A7"/>
<circle cx="427.35" cy="244.13" r="2.4" fill="#CC79A7"/>
<circle cx="427.35" cy="237.31" r="2.4" fill="#CC79A7"/>
<circle cx="427.35" cy="229.03" r="2.4" fill="#CC79A7"/>
<circle cx="427.35" cy="220.99" r="2.4" fill="#CC79A7"/>
<circle cx="427.35" cy="218.31" r="2.4" fill="#CC79A7"/>
<circle cx="387.29" cy="278.00" r="2.4" fill="#994F00"/>
<circle cx="387.29" cy="274.39" r="2.4" fill="#994F00"/>
<circle cx="387.29" cy="258.64" r="2.4" fill="#994F00"/>
<circle cx="387.29" cy="257.60" r="2.4" fill="#994F00"/>
<circle cx="387.29" cy="256.82" r="2.4" fill="#994F00"/>
<circle cx="387.29" cy="256.50" r="2.4" fill="#994F00"/>
<circle cx="387.29" cy="255.79" r="2.4" fill="#994F00"/>
<circle cx="387.29" cy="255.15" r="2.4" fill="#994F00"/>
<circle cx="387.29" cy="254.42" r="2.4" fill="#994F00"/>
<circle cx="387.29" cy="253.45" r="2.4" fill="#994F00"/>
<circle cx="387.29" cy="253.09" r="2.4" fill="#994F00"/>
<circle cx="387.29" cy="252.19" r="2.4" fill="#994F00"/>
<circle cx="387.29" cy="251.68" r="2.4" fill="#994F00"/>
<circle cx="387.29" cy="250.84" r="2.4" fill="#994F00"/>
<circle cx="387.29" cy="242.47" r="2.4" fill="#994F00"/>
<circle cx="387.29" cy="238.29" r="2.4" fill="#994F00"/>
<circle cx="387.29" cy="222.45" r="2.4" fill="#994F00"/>
<circle cx="387.29" cy="137.66" r="2.4" fill="#994F00"/>
<circle cx="369.58" cy="285.31" r="2.4" fill="#648FFF"/>
<circle cx="369.58" cy="285.16" r="2.4" fill="#648FFF"/>
<circle cx="369.58" cy="283.96" r="2.4" fill="#648FFF"/>
<circle cx="369.58" cy="280.33" r="2.4" fill="#648FFF"/>
<circle cx="369.58" cy="275.07" r="2.4" fill="#648FFF"/>
<circle cx="369.58" cy="273.09" r="2.4" fill="#648FFF"/>
<circle cx="369.58" cy="268.87" r="2.4" fill="#648FFF"/>
<circle cx="369.58" cy="262.96" r="2.4" fill="#648FFF"/>
<circle cx="369.58" cy="258.84" r="2.4" fill="#648FFF"/>
<circle cx="369.58" cy="255.20" r="2.4" fill="#648FFF"/>
<circle cx="369.58" cy="248.56" r="2.4" fill="#648FFF"/>
<circle cx="369.58" cy="244.64" r="2.4" fill="#648FFF"/>
<circle cx="369.58" cy="238.01" r="2.4" fill="#648FFF"/>
<circle cx="369.58" cy="235.60" r="2.4" fill="#648FFF"/>
<circle cx="369.58" cy="229.17" r="2.4" fill="#648FFF"/>
<circle cx="369.58" cy="203.28" r="2.4" fill="#648FFF"/>
<circle cx="369.58" cy="200.28" r="2.4" fill="#648FFF"/>
<circle cx="369.58" cy="135.71" r="2.4" fill="#648FFF"/>
<circle cx="387.29" cy="274.59" r="2.4" fill="#0072B2"/>
<circle cx="387.29" cy="266.24" r="2.4" fill="#0072B2"/>
<circle cx="387.29" cy="263.97" r="2.4" fill="#0072B2"/>
<circle cx="387.29" cy="257.31" r="2.4" fill="#0072B2"/>
<circle cx="387.29" cy="256.67" r="2.4" fill="#0072B2"/>
<circle cx="387.29" cy="254.69" r="2.4" fill="#0072B2"/>
<circle cx="387.29" cy="254.42" r="2.4" fill="#0072B2"/>
<circle cx="387.29" cy="252.41" r="2.4" fill="#0072B2"/>
<circle cx="387.29" cy="250.84" r="2.4" fill="#0072B2"/>
<circle cx="387.29" cy="248.49" r="2.4" fill="#0072B2"/>
<circle cx="387.29" cy="246.20" r="2.4" fill="#0072B2"/>
<circle cx="387.29" cy="245.39" r="2.4" fill="#0072B2"/>
<circle cx="387.29" cy="243.17" r="2.4" fill="#0072B2"/>
<circle cx="387.29" cy="239.60" r="2.4" fill="#0072B2"/>
<circle cx="387.29" cy="236.55" r="2.4" fill="#0072B2"/>
<circle cx="387.29" cy="233.41" r="2.4" fill="#0072B2"/>
<circle cx="387.29" cy="218.06" r="2.4" fill="#0072B2"/>
<circle cx="387.29" cy="135.71" r="2.4" fill="#0072B2"/>
<circle cx="379.39" cy="277.51" r="2.4" fill="#DDCC77"/>
<circle cx="379.39" cy="274.30" r="2.4" fill="#DDCC77"/>
<circle cx="379.39" cy="265.27" r="2.4" fill="#DDCC77"/>
<circle cx="379.39" cy="257.58" r="2.4" fill="#DDCC77"/>
<circle cx="379.39" cy="249.41" r="2.4" fill="#DDCC77"/>
<circle cx="379.39" cy="241.68" r="2.4" fill="#DDCC77"/>
<circle cx="379.39" cy="232.12" r="2.4" fill="#DDCC77"/>
<circle cx="379.39" cy="226.69" r="2.4" fill="#DDCC77"/>
<circle cx="379.39" cy="216.32" r="2.4" fill="#DDCC77"/>
<circle cx="379.39" cy="212.91" r="2.4" fill="#DDCC77"/>
<circle cx="379.39" cy="209.64" r="2.4" fill="#DDCC77"/>
<circle cx="379.39" cy="206.93" r="2.4" fill="#DDCC77"/>
<circle cx="379.39" cy="204.69" r="2.4" fill="#DDCC77"/>
<circle cx="379.39" cy="200.77" r="2.4" fill="#DDCC77"/>
<circle cx="379.39" cy="199.05" r="2.4" fill="#DDCC77"/>
<circle cx="379.39" cy="190.99" r="2.4" fill="#DDCC77"/>
<circle cx="379.39" cy="180.35" r="2.4" fill="#DDCC77"/>
<circle cx="379.39" cy="179.08" r="2.4" fill="#DDCC77"/>
<circle cx="391.92" cy="273.61" r="2.4" fill="#882255"/>
<circle cx="391.92" cy="271.66" r="2.4" fill="#882255"/>
<circle cx="391.92" cy="268.01" r="2.4" fill="#882255"/>
<circle cx="391.92" cy="264.35" r="2.4" fill="#882255"/>
<circle cx="391.92" cy="260.70" r="2.4" fill="#882255"/>
<circle cx="391.92" cy="257.05" r="2.4" fill="#882255"/>
<circle cx="391.92" cy="253.39" r="2.4" fill="#882255"/>
<circle cx="391.92" cy="249.74" r="2.4" fill="#882255"/>
<circle cx="391.92" cy="246.08" r="2.4" fill="#882255"/>
<circle cx="391.92" cy="242.43" r="2.4" fill="#882255"/>
<circle cx="391.92" cy="239.02" r="2.4" fill="#882255"/>
<circle cx="391.92" cy="220.50" r="2.4" fill="#882255"/>
<circle cx="391.92" cy="217.09" r="2.4" fill="#882255"/>
<circle cx="391.92" cy="213.68" r="2.4" fill="#882255"/>
<circle cx="391.92" cy="199.06" r="2.4" fill="#882255"/>
<circle cx="391.92" cy="185.42" r="2.4" fill="#882255"/>
<circle cx="391.92" cy="181.52" r="2.4" fill="#882255"/>
<circle cx="391.92" cy="178.11" r="2.4" fill="#882255"/>
<circle cx="391.92" cy="172.75" r="2.4" fill="#882255"/>
<circle cx="391.92" cy="169.34" r="2.4" fill="#882255"/>
<circle cx="391.92" cy="163.49" r="2.4" fill="#882255"/>
<circle cx="391.92" cy="158.13" r="2.4" fill="#882255"/>
<circle cx="522.72" cy="285.79" r="2.4" fill="#009E73"/>
<circle cx="522.72" cy="284.20" r="2.4" fill="#009E73"/>
<circle cx="522.72" cy="282.60" r="2.4" fill="#009E73"/>
<circle cx="522.72" cy="281.00" r="2.4" fill="#009E73"/>
<circle cx="522.72" cy="279.40" r="2.4" fill="#009E73"/>
<circle cx="522.72" cy="277.80" r="2.4" fill="#009E73"/>
<circle cx="522.72" cy="276.20" r="2.4" fill="#009E73"/>
<circle cx="522.72" cy="274.60" r="2.4" fill="#009E73"/>
<circle cx="522.72" cy="273.00" r="2.4" fill="#009E73"/>
<circle cx="522.72" cy="271.40" r="2.4" fill="#009E73"/>
<circle cx="522.72" cy="269.81" r="2.4" fill="#009E73"/>
<circle cx="522.72" cy="268.21" r="2.4" fill="#009E73"/>
<circle cx="522.72" cy="266.61" r="2.4" fill="#009E73"/>
<circle cx="522.72" cy="265.01" r="2.4" fill="#009E73"/>
<circle cx="522.72" cy="264.84" r="2.4" fill="#009E73"/>
<circle cx="522.72" cy="263.41" r="2.4" fill="#009E73"/>
<circle cx="522.72" cy="261.81" r="2.4" fill="#009E73"/>
<circle cx="522.72" cy="260.21" r="2.4" fill="#009E73"/>
<circle cx="522.72" cy="238.53" r="2.4" fill="#009E73"/>
<circle cx="522.72" cy="215.87" r="2.4" fill="#009E73"/>
<circle cx="522.72" cy="204.91" r="2.4" fill="#009E73"/>
<circle cx="522.72" cy="135.71" r="2.4" fill="#009E73"/>
<circle cx="387.29" cy="277.51" r="2.4" fill="#785EF0"/>
<circle cx="387.29" cy="271.16" r="2.4" fill="#785EF0"/>
<circle cx="387.29" cy="260.41" r="2.4" fill="#785EF0"/>
<circle cx="387.29" cy="254.78" r="2.4" fill="#785EF0"/>
<circle cx="387.29" cy="248.57" r="2.4" fill="#785EF0"/>
<circle cx="387.29" cy="242.91" r="2.4" fill="#785EF0"/>
<circle cx="387.29" cy="233.64" r="2.4" fill="#785EF0"/>
<circle cx="387.29" cy="230.93" r="2.4" fill="#785EF0"/>
<circle cx="387.29" cy="225.38" r="2.4" fill="#785EF0"/>
<circle cx="387.29" cy="218.73" r="2.4" fill="#785EF0"/>
<circle cx="387.29" cy="213.00" r="2.4" fill="#785EF0"/>
<circle cx="387.29" cy="206.97" r="2.4" fill="#785EF0"/>
<circle cx="387.29" cy="201.51" r="2.4" fill="#785EF0"/>
<circle cx="387.29" cy="196.51" r="2.4" fill="#785EF0"/>
<circle cx="387.29" cy="189.78" r="2.4" fill="#785EF0"/>
<circle cx="387.29" cy="179.55" r="2.4" fill="#785EF0"/>
<circle cx="387.29" cy="152.15" r="2.4" fill="#785EF0"/>
<circle cx="387.29" cy="142.05" r="2.4" fill="#785EF0"/>
<circle cx="375.57" cy="282.14" r="2.4" fill="#E1BE6A"/>
<circle cx="375.57" cy="276.59" r="2.4" fill="#E1BE6A"/>
<circle cx="375.57" cy="271.05" r="2.4" fill="#E1BE6A"/>
<circle cx="375.57" cy="262.87" r="2.4" fill="#E1BE6A"/>
<circle cx="375.57" cy="253.97" r="2.4" fill="#E1BE6A"/>
<circle cx="375.57" cy="250.09" r="2.4" fill="#E1BE6A"/>
<circle cx="375.57" cy="239.67" r="2.4" fill="#E1BE6A"/>
<circle cx="375.57" cy="229.93" r="2.4" fill="#E1BE6A"/>
<circle cx="375.57" cy="222.12" r="2.4" fill="#E1BE6A"/>
<circle cx="375.57" cy="217.88" r="2.4" fill="#E1BE6A"/>
<circle cx="375.57" cy="214.71" r="2.4" fill="#E1BE6A"/>
<circle cx="375.57" cy="209.11" r="2.4" fill="#E1BE6A"/>
<circle cx="375.57" cy="202.24" r="2.4" fill="#E1BE6A"/>
<circle cx="375.57" cy="200.89" r="2.4" fill="#E1BE6A"/>
<circle cx="375.57" cy="195.39" r="2.4" fill="#E1BE6A"/>
<circle cx="375.57" cy="175.56" r="2.4" fill="#E1BE6A"/>
<circle cx="375.57" cy="162.94" r="2.4" fill="#E1BE6A"/>
<circle cx="375.57" cy="151.55" r="2.4" fill="#E1BE6A"/>
<circle cx="373.67" cy="282.14" r="2.4" fill="#F0E442"/>
<circle cx="373.67" cy="282.05" r="2.4" fill="#F0E442"/>
<circle cx="373.67" cy="281.51" r="2.4" fill="#F0E442"/>
<circle cx="373.67" cy="275.34" r="2.4" fill="#F0E442"/>
<circle cx="373.67" cy="267.63" r="2.4" fill="#F0E442"/>
<circle cx="373.67" cy="260.67" r="2.4" fill="#F0E442"/>
<circle cx="373.67" cy="247.78" r="2.4" fill="#F0E442"/>
<circle cx="373.67" cy="238.86" r="2.4" fill="#F0E442"/>
<circle cx="373.67" cy="232.13" r="2.4" fill="#F0E442"/>
<circle cx="373.67" cy="225.26" r="2.4" fill="#F0E442"/>
<circle cx="373.67" cy="221.30" r="2.4" fill="#F0E442"/>
<circle cx="373.67" cy="217.19" r="2.4" fill="#F0E442"/>
<circle cx="373.67" cy="210.66" r="2.4" fill="#F0E442"/>
<circle cx="373.67" cy="204.74" r="2.4" fill="#F0E442"/>
<circle cx="373.67" cy="201.78" r="2.4" fill="#F0E442"/>
<circle cx="373.67" cy="176.17" r="2.4" fill="#F0E442"/>
<circle cx="373.67" cy="158.55" r="2.4" fill="#F0E442"/>
<circle cx="373.67" cy="135.71" r="2.4" fill="#F0E442"/>
<circle cx="381.02" cy="277.51" r="2.4" fill="#000000"/>
<circle cx="381.02" cy="277.51" r="2.4" fill="#000000"/>
<circle cx="381.02" cy="272.88" r="2.4" fill="#000000"/>
<circle cx="381.02" cy="269.23" r="2.4" fill="#000000"/>
<circle cx="381.02" cy="264.84" r="2.4" fill="#000000"/>
<circle cx="381.02" cy="264.84" r="2.4" fill="#000000"/>
<circle cx="381.02" cy="259.48" r="2.4" fill="#000000"/>
<circle cx="381.02" cy="250.71" r="2.4" fill="#000000"/>
<circle cx="381.02" cy="242.91" r="2.4" fill="#000000"/>
<circle cx="381.02" cy="230.25" r="2.4" fill="#000000"/>
<circle cx="381.02" cy="215.63" r="2.4" fill="#000000"/>
<circle cx="381.02" cy="199.06" r="2.4" fill="#000000"/>
<circle cx="381.02" cy="199.06" r="2.4" fill="#000000"/>
<circle cx="381.02" cy="194.19" r="2.4" fill="#000000"/>
<circle cx="381.02" cy="187.85" r="2.4" fill="#000000"/>
<circle cx="381.02" cy="178.35" r="2.4" fill="#000000"/>
<circle cx="381.02" cy="162.51" r="2.4" fill="#000000"/>
<circle cx="381.02" cy="155.21" r="2.4" fill="#000000"/>
<circle cx="381.02" cy="145.22" r="2.4" fill="#000000"/>
<circle cx="381.02" cy="134.25" r="2.4" fill="#000000"/>
<circle cx="381.02" cy="107.94" r="2.4" fill="#000000"/>
<circle cx="381.02" cy="45.08" r="2.4" fill="#000000"/>
<circle cx="381.02" cy="277.51" r="2.4" fill="#FE6100"/>
<circle cx="381.02" cy="277.51" r="2.4" fill="#FE6100"/>
<circle cx="381.02" cy="272.88" r="2.4" fill="#FE6100"/>
<circle cx="381.02" cy="269.23" r="2.4" fill="#FE6100"/>
<circle cx="381.02" cy="264.84" r="2.4" fill="#FE6100"/>
<circle cx="381.02" cy="264.84" r="2.4" fill="#FE6100"/>
<circle cx="381.02" cy="259.48" r="2.4" fill="#FE6100"/>
<circle cx="381.02" cy="250.71" r="2.4" fill="#FE6100"/>
<circle cx="381.02" cy="242.91" r="2.4" fill="#FE6100"/>
<circle cx="381.02" cy="230.25" r="2.4" fill="#FE6100"/>
<circle cx="381.02" cy="215.63" r="2.4" fill="#FE6100"/>
<circle cx="381.02" cy="199.06" r="2.4" fill="#FE6100"/>
<circle cx="381.02" cy="199.06" r="2.4" fill="#FE6100"/>
<circle cx="381.02" cy="194.19" r="2.4" fill="#FE6100"/>
<circle cx="381.02" cy="187.85" r="2.4" fill="#FE6100"/>
<circle cx="381.02" cy="178.35" r="2.4" fill="#FE6100"/>
<circle cx="381.02" cy="162.51" r="2.4" fill="#FE6100"/>
<circle cx="381.02" cy="155.21" r="2.4" fill="#FE6100"/>
<circle cx="381.02" cy="145.22" r="2.4" fill="#FE6100"/>
<circle cx="381.02" cy="134.25" r="2.4" fill="#FE6100"/>
<circle cx="381.02" cy="107.94" r="2.4" fill="#FE6100"/>
<circle cx="381.02" cy="45.08" r="2.4" fill="#FE6100"/>
<circle cx="384.57" cy="278.97" r="2.4" fill="#DC267F"/>
<circle cx="384.57" cy="271.32" r="2.4" fill="#DC267F"/>
<circle cx="384.57" cy="258.74" r="2.4" fill="#DC267F"/>
<circle cx="384.57" cy="254.54" r="2.4" fill="#DC267F"/>
<circle cx="384.57" cy="241.82" r="2.4" fill="#DC267F"/>
<circle cx="384.57" cy="239.08" r="2.4" fill="#DC267F"/>
<circle cx="384.57" cy="228.45" r="2.4" fill="#DC267F"/>
<circle cx="384.57" cy="224.32" r="2.4" fill="#DC267F"/>
<circle cx="384.57" cy="212.53" r="2.4" fill="#DC267F"/>
<circle cx="384.57" cy="207.93" r="2.4" fill="#DC267F"/>
<circle cx="384.57" cy="192.65" r="2.4" fill="#DC267F"/>
<circle cx="384.57" cy="181.92" r="2.4" fill="#DC267F"/>
<circle cx="384.57" cy="170.99" r="2.4" fill="#DC267F"/>
<circle cx="384.57" cy="163.16" r="2.4" fill="#DC267F"/>
<circle cx="384.57" cy="148.99" r="2.4" fill="#DC267F"/>
<circle cx="384.57" cy="136.28" r="2.4" fill="#DC267F"/>
<circle cx="384.57" cy="132.68" r="2.4" fill="#DC267F"/>
<circle cx="384.57" cy="123.05" r="2.4" fill="#DC267F"/>
<circle cx="381.02" cy="274.10" r="2.4" fill="#AA4499"/>
<circle cx="381.02" cy="272.37" r="2.4" fill="#AA4499"/>
<circle cx="381.02" cy="266.16" r="2.4" fill="#AA4499"/>
<circle cx="381.02" cy="256.23" r="2.4" fill="#AA4499"/>
<circle cx="381.02" cy="250.66" r="2.4" fill="#AA4499"/>
<circle cx="381.02" cy="233.53" r="2.4" fill="#AA4499"/>
<circle cx="381.02" cy="224.42" r="2.4" fill="#AA4499"/>
<circle cx="381.02" cy="218.54" r="2.4" fill="#AA4499"/>
<circle cx="381.02" cy="199.14" r="2.4" fill="#AA4499"/>
<circle cx="381.02" cy="195.47" r="2.4" fill="#AA4499"/>
<circle cx="381.02" cy="188.22" r="2.4" fill="#AA4499"/>
<circle cx="381.02" cy="180.59" r="2.4" fill="#AA4499"/>
<circle cx="381.02" cy="172.70" r="2.4" fill="#AA4499"/>
<circle cx="381.02" cy="168.32" r="2.4" fill="#AA4499"/>
<circle cx="381.02" cy="158.21" r="2.4" fill="#AA4499"/>
<circle cx="381.02" cy="131.97" r="2.4" fill="#AA4499"/>
<circle cx="381.02" cy="106.76" r="2.4" fill="#AA4499"/>
<circle cx="381.02" cy="90.15" r="2.4" fill="#AA4499"/>
<circle cx="381.02" cy="274.10" r="2.4" fill="#CC6677"/>
<circle cx="381.02" cy="270.74" r="2.4" fill="#CC6677"/>
<circle cx="381.02" cy="268.01" r="2.4" fill="#CC6677"/>
<circle cx="381.02" cy="261.22" r="2.4" fill="#CC6677"/>
<circle cx="381.02" cy="247.34" r="2.4" fill="#CC6677"/>
<circle cx="381.02" cy="241.39" r="2.4" fill="#CC6677"/>
<circle cx="381.02" cy="224.78" r="2.4" fill="#CC6677"/>
<circle cx="381.02" cy="214.34" r="2.4" fill="#CC6677"/>
<circle cx="381.02" cy="209.90" r="2.4" fill="#CC6677"/>
<circle cx="381.02" cy="194.57" r="2.4" fill="#CC6677"/>
<circle cx="381.02" cy="186.38" r="2.4" fill="#CC6677"/>
<circle cx="381.02" cy="175.78" r="2.4" fill="#CC6677"/>
<circle cx="381.02" cy="163.77" r="2.4" fill="#CC6677"/>
<circle cx="381.02" cy="153.94" r="2.4" fill="#CC6677"/>
<circle cx="381.02" cy="148.79" r="2.4" fill="#CC6677"/>
<circle cx="381.02" cy="132.92" r="2.4" fill="#CC6677"/>
<circle cx="381.02" cy="119.73" r="2.4" fill="#CC6677"/>
<circle cx="381.02" cy="115.98" r="2.4" fill="#CC6677"/>
<circle cx="378.84" cy="277.51" r="2.4" fill="#D55E00"/>
<circle cx="378.84" cy="274.45" r="2.4" fill="#D55E00"/>
<circle cx="378.84" cy="269.29" r="2.4" fill="#D55E00"/>
<circle cx="378.84" cy="256.34" r="2.4" fill="#D55E00"/>
<circle cx="378.84" cy="251.51" r="2.4" fill="#D55E00"/>
<circle cx="378.84" cy="240.46" r="2.4" fill="#D55E00"/>
<circle cx="378.84" cy="220.62" r="2.4" fill="#D55E00"/>
<circle cx="378.84" cy="213.13" r="2.4" fill="#D55E00"/>
<circle cx="378.84" cy="200.40" r="2.4" fill="#D55E00"/>
<circle cx="378.84" cy="188.90" r="2.4" fill="#D55E00"/>
<circle cx="378.84" cy="186.23" r="2.4" fill="#D55E00"/>
<circle cx="378.84" cy="177.67" r="2.4" fill="#D55E00"/>
<circle cx="378.84" cy="174.07" r="2.4" fill="#D55E00"/>
<circle cx="378.84" cy="170.48" r="2.4" fill="#D55E00"/>
<circle cx="378.84" cy="161.41" r="2.4" fill="#D55E00"/>
<circle cx="378.84" cy="142.66" r="2.4" fill="#D55E00"/>
<circle cx="378.84" cy="120.64" r="2.4" fill="#D55E00"/>
<circle cx="378.84" cy="90.15" r="2.4" fill="#D55E00"/>
<circle cx="378.84" cy="277.51" r="2.4" fill="#E69F00"/>
<circle cx="378.84" cy="276.25" r="2.4" fill="#E69F00"/>
<circle cx="378.84" cy="269.56" r="2.4" fill="#E69F00"/>
<circle cx="378.84" cy="256.04" r="2.4" fill="#E69F00"/>
<circle cx="378.84" cy="247.14" r="2.4" fill="#E69F00"/>
<circle cx="378.84" cy="234.25" r="2.4" fill="#E69F00"/>
<circle cx="378.84" cy="217.31" r="2.4" fill="#E69F00"/>
<circle cx="378.84" cy="204.43" r="2.4" fill="#E69F00"/>
<circle cx="378.84" cy="193.23" r="2.4" fill="#E69F00"/>
<circle cx="378.84" cy="180.24" r="2.4" fill="#E69F00"/>
<circle cx="378.84" cy="169.61" r="2.4" fill="#E69F00"/>
<circle cx="378.84" cy="166.24" r="2.4" fill="#E69F00"/>
<circle cx="378.84" cy="158.07" r="2.4" fill="#E69F00"/>
<circle cx="378.84" cy="151.26" r="2.4" fill="#E69F00"/>
<circle cx="378.84" cy="142.12" r="2.4" fill="#E69F00"/>
<circle cx="378.84" cy="134.62" r="2.4" fill="#E69F00"/>
<circle cx="378.84" cy="110.72" r="2.4" fill="#E69F00"/>
<circle cx="378.84" cy="109.16" r="2.4" fill="#E69F00"/>
<circle cx="384.57" cy="277.51" r="2.4" fill="#88CCEE"/>
<circle cx="384.57" cy="271.29" r="2.4" fill="#88CCEE"/>
<circle cx="384.57" cy="261.61" r="2.4" fill="#88CCEE"/>
<circle cx="384.57" cy="248.10" r="2.4" fill="#88CCEE"/>
<circle cx="384.57" cy="243.41" r="2.4" fill="#88CCEE"/>
<circle cx="384.57" cy="233.46" r="2.4" fill="#88CCEE"/>
<circle cx="384.57" cy="226.13" r="2.4" fill="#88CCEE"/>
<circle cx="384.57" cy="217.19" r="2.4" fill="#88CCEE"/>
<circle cx="384.57" cy="204.96" r="2.4" fill="#88CCEE"/>
<circle cx="384.57" cy="202.52" r="2.4" fill="#88CCEE"/>
<circle cx="384.57" cy="192.67" r="2.4" fill="#88CCEE"/>
<circle cx="384.57" cy="186.30" r="2.4" fill="#88CCEE"/>
<circle cx="384.57" cy="177.79" r="2.4" fill="#88CCEE"/>
<circle cx="384.57" cy="166.04" r="2.4" fill="#88CCEE"/>
<circle cx="384.57" cy="162.45" r="2.4" fill="#88CCEE"/>
<circle cx="384.57" cy="144.32" r="2.4" fill="#88CCEE"/>
<circle cx="384.57" cy="123.19" r="2.4" fill="#88CCEE"/>
<circle cx="384.57" cy="109.16" r="2.4" fill="#88CCEE"/>
<text x="503.65" y="48.48" font-size="7.25" fill="#000" stroke="#000" text-anchor="middle">Pearson's r [95% CI] = &#8722;0.28 [&#8722;0.36; &#8722;0.2], P = 1e&#8722;10</text>
<polygon points="374.48,480.58 377.80,481.33 381.12,482.06 384.44,482.79 387.76,483.51 391.08,484.21 394.40,484.90 397.72,485.57 401.04,486.23 404.36,486.88 407.68,487.50 411.00,488.11 414.32,488.71 417.64,489.29 420.96,489.85 424.28,490.39 427.60,490.92 430.92,491.44 434.24,491.94 437.56,492.43 440.88,492.91 444.20,493.39 447.52,493.85 450.84,494.30 454.16,494.75 457.48,495.19 460.80,495.62 464.12,496.05 467.44,496.47 470.76,496.89 474.08,497.31 477.40,497.72 480.72,498.13 484.04,498.53 487.36,498.93 490.68,499.33 494.00,499.73 497.32,500.13 500.64,500.52 503.96,500.92 507.28,501.31 510.60,501.70 513.92,502.08 517.24,502.47 520.56,502.86 523.88,503.24 527.20,503.63 530.52,504.01 533.84,504.39 537.16,504.77 540.48,505.15 543.80,505.53 547.12,505.91 550.44,506.29 553.76,506.67 557.08,507.05 560.40,507.42 563.72,507.80 567.04,508.18 570.36,508.55 573.68,508.93 573.68,533.72 570.36,532.89 567.04,532.05 563.72,531.21 560.40,530.37 557.08,529.53 553.76,528.70 550.44,527.86 547.12,527.03 543.80,526.19 540.48,525.36 537.16,524.52 533.84,523.69 530.52,522.86 527.20,522.03 523.88,521.20 520.56,520.37 517.24,519.54 513.92,518.71 510.60,517.89 507.28,517.06 503.96,516.24 500.64,515.42 497.32,514.60 494.00,513.78 490.68,512.96 487.36,512.15 484.04,511.34 480.72,510.53 477.40,509.72 474.08,508.92 470.76,508.12 467.44,507.33 464.12,506.54 460.80,505.75 457.48,504.97 454.16,504.20 450.84,503.43 447.52,502.67 444.20,501.91 440.88,501.17 437.56,500.44 434.24,499.72 430.92,499.01 427.60,498.31 424.28,497.62 420.96,496.96 417.64,496.30 414.32,495.66 411.00,495.04 407.68,494.44 404.36,493.85 401.04,493.28 397.72,492.73 394.40,492.19 391.08,491.66 387.76,491.15 384.44,490.65 381.12,490.17 377.80,489.69 374.48,489.22" fill="#AFAFAF"/>
<line x1="374.48" y1="484.90" x2="573.68" y2="521.33" stroke="#000" stroke-width="3"/>
<circle cx="411.54" cy="552.75" r="2.4" fill="#FFB000"/>
<circle cx="411.54" cy="546.66" r="2.4" fill="#FFB000"/>
<circle cx="411.54" cy="539.84" r="2.4" fill="#FFB000"/>
<circle cx="411.54" cy="535.46" r="2.4" fill="#FFB000"/>
<circle cx="411.54" cy="531.07" r="2.4" fill="#FFB000"/>
<circle cx="411.54" cy="526.69" r="2.4" fill="#FFB000"/>
<circle cx="411.54" cy="522.30" r="2.4" fill="#FFB000"/>
<circle cx="411.54" cy="517.91" r="2.4" fill="#FFB000"/>
<circle cx="411.54" cy="509.39" r="2.4" fill="#FFB000"/>
<circle cx="411.54" cy="503.30" r="2.4" fill="#FFB000"/>
<circle cx="411.54" cy="497.69" r="2.4" fill="#FFB000"/>
<circle cx="573.68" cy="559.33" r="2.4" fill="#117733"/>
<circle cx="573.68" cy="556.41" r="2.4" fill="#117733"/>
<circle cx="573.68" cy="552.75" r="2.4" fill="#117733"/>
<circle cx="573.68" cy="549.10" r="2.4" fill="#117733"/>
<circle cx="573.68" cy="545.45" r="2.4" fill="#117733"/>
<circle cx="573.68" cy="541.79" r="2.4" fill="#117733"/>
<circle cx="573.68" cy="519.86" r="2.4" fill="#117733"/>
<circle cx="573.68" cy="477.23" r="2.4" fill="#117733"/>
<circle cx="573.68" cy="473.33" r="2.4" fill="#117733"/>
<circle cx="573.68" cy="469.43" r="2.4" fill="#117733"/>
<circle cx="573.68" cy="450.91" r="2.4" fill="#117733"/>
<circle cx="573.68" cy="438.73" r="2.4" fill="#117733"/>
<circle cx="573.68" cy="438.25" r="2.4" fill="#117733"/>
<circle cx="573.68" cy="428.50" r="2.4" fill="#117733"/>
<circle cx="573.68" cy="376.36" r="2.4" fill="#117733"/>
<circle cx="503.65" cy="550.32" r="2.4" fill="#999999"/>
<circle cx="503.65" cy="544.96" r="2.4" fill="#999999"/>
<circle cx="503.65" cy="539.35" r="2.4" fill="#999999"/>
<circle cx="503.65" cy="534.48" r="2.4" fill="#999999"/>
<circle cx="503.65" cy="529.61" r="2.4" fill="#999999"/>
<circle cx="503.65" cy="521.57" r="2.4" fill="#999999"/>
<circle cx="503.65" cy="503.30" r="2.4" fill="#999999"/>
<circle cx="503.65" cy="491.36" r="2.4" fill="#999999"/>
<circle cx="503.65" cy="489.17" r="2.4" fill="#999999"/>
<circle cx="503.65" cy="464.56" r="2.4" fill="#999999"/>
<circle cx="503.65" cy="450.91" r="2.4" fill="#999999"/>
<circle cx="503.65" cy="439.95" r="2.4" fill="#999999"/>
<circle cx="503.65" cy="439.46" r="2.4" fill="#999999"/>
<circle cx="520.00" cy="552.75" r="2.4" fill="#332288"/>
<circle cx="520.00" cy="549.10" r="2.4" fill="#332288"/>
<circle cx="520.00" cy="544.23" r="2.4" fill="#332288"/>
<circle cx="520.00" cy="539.35" r="2.4" fill="#332288"/>
<circle cx="520.00" cy="534.48" r="2.4" fill="#332288"/>
<circle cx="520.00" cy="529.61" r="2.4" fill="#332288"/>
<circle cx="520.00" cy="524.74" r="2.4" fill="#332288"/>
<circle cx="520.00" cy="519.86" r="2.4" fill="#332288"/>
<circle cx="520.00" cy="481.37" r="2.4" fill="#332288"/>
<circle cx="520.00" cy="478.93" r="2.4" fill="#332288"/>
<circle cx="520.00" cy="476.01" r="2.4" fill="#332288"/>
<circle cx="520.00" cy="462.85" r="2.4" fill="#332288"/>
<circle cx="520.00" cy="438.73" r="2.4" fill="#332288"/>
<circle cx="520.00" cy="438.25" r="2.4" fill="#332288"/>
<circle cx="520.00" cy="432.15" r="2.4" fill="#332288"/>
<circle cx="520.00" cy="432.15" r="2.4" fill="#332288"/>
<circle cx="497.65" cy="553.73" r="2.4" fill="#56B4E9"/>
<circle cx="497.65" cy="549.59" r="2.4" fill="#56B4E9"/>
<circle cx="497.65" cy="545.45" r="2.4" fill="#56B4E9"/>
<circle cx="497.65" cy="541.79" r="2.4" fill="#56B4E9"/>
<circle cx="497.65" cy="537.16" r="2.4" fill="#56B4E9"/>
<circle cx="497.65" cy="527.42" r="2.4" fill="#56B4E9"/>
<circle cx="497.65" cy="503.30" r="2.4" fill="#56B4E9"/>
<circle cx="497.65" cy="481.37" r="2.4" fill="#56B4E9"/>
<circle cx="497.65" cy="477.23" r="2.4" fill="#56B4E9"/>
<circle cx="497.65" cy="473.82" r="2.4" fill="#56B4E9"/>
<circle cx="497.65" cy="462.85" r="2.4" fill="#56B4E9"/>
<circle cx="497.65" cy="440.93" r="2.4" fill="#56B4E9"/>
<circle cx="497.65" cy="437.27" r="2.4" fill="#56B4E9"/>
<circle cx="497.65" cy="434.59" r="2.4" fill="#56B4E9"/>
<circle cx="497.65" cy="429.96" r="2.4" fill="#56B4E9"/>
<circle cx="497.65" cy="428.50" r="2.4" fill="#56B4E9"/>
<circle cx="464.68" cy="545.93" r="2.4" fill="#CC79A7"/>
<circle cx="464.68" cy="539.35" r="2.4" fill="#CC79A7"/>
<circle cx="464.68" cy="534.48" r="2.4" fill="#CC79A7"/>
<circle cx="464.68" cy="527.17" r="2.4" fill="#CC79A7"/>
<circle cx="464.68" cy="492.33" r="2.4" fill="#CC79A7"/>
<circle cx="464.68" cy="480.39" r="2.4" fill="#CC79A7"/>
<circle cx="464.68" cy="471.62" r="2.4" fill="#CC79A7"/>
<circle cx="464.68" cy="362.23" r="2.4" fill="#CC79A7"/>
<circle cx="464.68" cy="353.95" r="2.4" fill="#CC79A7"/>
<circle cx="468.50" cy="545.93" r="2.4" fill="#994F00"/>
<circle cx="468.50" cy="540.57" r="2.4" fill="#994F00"/>
<circle cx="468.50" cy="536.92" r="2.4" fill="#994F00"/>
<circle cx="468.50" cy="533.26" r="2.4" fill="#994F00"/>
<circle cx="468.50" cy="529.61" r="2.4" fill="#994F00"/>
<circle cx="468.50" cy="525.95" r="2.4" fill="#994F00"/>
<circle cx="468.50" cy="522.30" r="2.4" fill="#994F00"/>
<circle cx="468.50" cy="518.65" r="2.4" fill="#994F00"/>
<circle cx="468.50" cy="489.17" r="2.4" fill="#994F00"/>
<circle cx="468.50" cy="476.98" r="2.4" fill="#994F00"/>
<circle cx="468.50" cy="473.57" r="2.4" fill="#994F00"/>
<circle cx="468.50" cy="470.41" r="2.4" fill="#994F00"/>
<circle cx="468.50" cy="467.24" r="2.4" fill="#994F00"/>
<circle cx="468.50" cy="362.23" r="2.4" fill="#994F00"/>
<circle cx="468.50" cy="337.14" r="2.4" fill="#994F00"/>
<circle cx="374.48" cy="555.19" r="2.4" fill="#648FFF"/>
<circle cx="374.48" cy="555.01" r="2.4" fill="#648FFF"/>
<circle cx="374.48" cy="554.44" r="2.4" fill="#648FFF"/>
<circle cx="374.48" cy="546.55" r="2.4" fill="#648FFF"/>
<circle cx="374.48" cy="539.65" r="2.4" fill="#648FFF"/>
<circle cx="374.48" cy="526.06" r="2.4" fill="#648FFF"/>
<circle cx="374.48" cy="519.56" r="2.4" fill="#648FFF"/>
<circle cx="374.48" cy="502.25" r="2.4" fill="#648FFF"/>
<circle cx="374.48" cy="494.38" r="2.4" fill="#648FFF"/>
<circle cx="374.48" cy="489.15" r="2.4" fill="#648FFF"/>
<circle cx="374.48" cy="485.55" r="2.4" fill="#648FFF"/>
<circle cx="374.48" cy="478.42" r="2.4" fill="#648FFF"/>
<circle cx="374.48" cy="473.80" r="2.4" fill="#648FFF"/>
<circle cx="374.48" cy="471.36" r="2.4" fill="#648FFF"/>
<circle cx="374.48" cy="467.77" r="2.4" fill="#648FFF"/>
<circle cx="374.48" cy="432.99" r="2.4" fill="#648FFF"/>
<circle cx="374.48" cy="397.10" r="2.4" fill="#648FFF"/>
<circle cx="374.48" cy="390.01" r="2.4" fill="#648FFF"/>
<circle cx="462.77" cy="543.98" r="2.4" fill="#0072B2"/>
<circle cx="462.77" cy="539.35" r="2.4" fill="#0072B2"/>
<circle cx="462.77" cy="535.70" r="2.4" fill="#0072B2"/>
<circle cx="462.77" cy="532.05" r="2.4" fill="#0072B2"/>
<circle cx="462.77" cy="528.39" r="2.4" fill="#0072B2"/>
<circle cx="462.77" cy="524.74" r="2.4" fill="#0072B2"/>
<circle cx="462.77" cy="521.08" r="2.4" fill="#0072B2"/>
<circle cx="462.77" cy="517.67" r="2.4" fill="#0072B2"/>
<circle cx="462.77" cy="489.17" r="2.4" fill="#0072B2"/>
<circle cx="462.77" cy="482.59" r="2.4" fill="#0072B2"/>
<circle cx="462.77" cy="479.18" r="2.4" fill="#0072B2"/>
<circle cx="462.77" cy="476.01" r="2.4" fill="#0072B2"/>
<circle cx="462.77" cy="472.84" r="2.4" fill="#0072B2"/>
<circle cx="462.77" cy="353.95" r="2.4" fill="#0072B2"/>
<circle cx="462.77" cy="337.14" r="2.4" fill="#0072B2"/>
<circle cx="396.56" cy="542.77" r="2.4" fill="#DDCC77"/>
<circle cx="396.56" cy="535.94" r="2.4" fill="#DDCC77"/>
<circle cx="396.56" cy="527.66" r="2.4" fill="#DDCC77"/>
<circle cx="396.56" cy="524.25" r="2.4" fill="#DDCC77"/>
<circle cx="396.56" cy="520.84" r="2.4" fill="#DDCC77"/>
<circle cx="396.56" cy="507.68" r="2.4" fill="#DDCC77"/>
<circle cx="396.56" cy="501.83" r="2.4" fill="#DDCC77"/>
<circle cx="396.56" cy="498.91" r="2.4" fill="#DDCC77"/>
<circle cx="396.56" cy="495.74" r="2.4" fill="#DDCC77"/>
<circle cx="396.56" cy="484.78" r="2.4" fill="#DDCC77"/>
<circle cx="396.56" cy="474.79" r="2.4" fill="#DDCC77"/>
<circle cx="396.56" cy="469.92" r="2.4" fill="#DDCC77"/>
<circle cx="396.56" cy="463.83" r="2.4" fill="#DDCC77"/>
<circle cx="396.56" cy="458.95" r="2.4" fill="#DDCC77"/>
<circle cx="396.56" cy="449.94" r="2.4" fill="#DDCC77"/>
<circle cx="554.88" cy="554.70" r="2.4" fill="#882255"/>
<circle cx="554.88" cy="551.54" r="2.4" fill="#882255"/>
<circle cx="554.88" cy="547.64" r="2.4" fill="#882255"/>
<circle cx="554.88" cy="543.50" r="2.4" fill="#882255"/>
<circle cx="554.88" cy="539.35" r="2.4" fill="#882255"/>
<circle cx="554.88" cy="534.97" r="2.4" fill="#882255"/>
<circle cx="554.88" cy="524.25" r="2.4" fill="#882255"/>
<circle cx="554.88" cy="476.01" r="2.4" fill="#882255"/>
<circle cx="554.88" cy="471.87" r="2.4" fill="#882255"/>
<circle cx="554.88" cy="467.97" r="2.4" fill="#882255"/>
<circle cx="554.88" cy="463.83" r="2.4" fill="#882255"/>
<circle cx="554.88" cy="437.27" r="2.4" fill="#882255"/>
<circle cx="554.88" cy="434.59" r="2.4" fill="#882255"/>
<circle cx="554.88" cy="432.15" r="2.4" fill="#882255"/>
<circle cx="554.88" cy="376.36" r="2.4" fill="#882255"/>
<circle cx="378.84" cy="553.73" r="2.4" fill="#009E73"/>
<circle cx="378.84" cy="550.42" r="2.4" fill="#009E73"/>
<circle cx="378.84" cy="547.56" r="2.4" fill="#009E73"/>
<circle cx="378.84" cy="541.63" r="2.4" fill="#009E73"/>
<circle cx="378.84" cy="529.50" r="2.4" fill="#009E73"/>
<circle cx="378.84" cy="516.23" r="2.4" fill="#009E73"/>
<circle cx="378.84" cy="509.94" r="2.4" fill="#009E73"/>
<circle cx="378.84" cy="495.25" r="2.4" fill="#009E73"/>
<circle cx="378.84" cy="487.46" r="2.4" fill="#009E73"/>
<circle cx="378.84" cy="479.52" r="2.4" fill="#009E73"/>
<circle cx="378.84" cy="471.43" r="2.4" fill="#009E73"/>
<circle cx="378.84" cy="464.17" r="2.4" fill="#009E73"/>
<circle cx="378.84" cy="456.99" r="2.4" fill="#009E73"/>
<circle cx="378.84" cy="447.72" r="2.4" fill="#009E73"/>
<circle cx="378.84" cy="440.99" r="2.4" fill="#009E73"/>
<circle cx="378.84" cy="420.80" r="2.4" fill="#009E73"/>
<circle cx="378.84" cy="397.45" r="2.4" fill="#009E73"/>
<circle cx="378.84" cy="362.23" r="2.4" fill="#009E73"/>
<circle cx="375.57" cy="553.73" r="2.4" fill="#E1BE6A"/>
<circle cx="375.57" cy="552.04" r="2.4" fill="#E1BE6A"/>
<circle cx="375.57" cy="549.60" r="2.4" fill="#E1BE6A"/>
<circle cx="375.57" cy="517.73" r="2.4" fill="#E1BE6A"/>
<circle cx="375.57" cy="512.06" r="2.4" fill="#E1BE6A"/>
<circle cx="375.57" cy="506.94" r="2.4" fill="#E1BE6A"/>
<circle cx="375.57" cy="501.86" r="2.4" fill="#E1BE6A"/>
<circle cx="375.57" cy="500.78" r="2.4" fill="#E1BE6A"/>
<circle cx="375.57" cy="496.19" r="2.4" fill="#E1BE6A"/>
<circle cx="375.57" cy="493.48" r="2.4" fill="#E1BE6A"/>
<circle cx="375.57" cy="486.06" r="2.4" fill="#E1BE6A"/>
<circle cx="375.57" cy="478.41" r="2.4" fill="#E1BE6A"/>
<circle cx="375.57" cy="468.72" r="2.4" fill="#E1BE6A"/>
<circle cx="375.57" cy="460.30" r="2.4" fill="#E1BE6A"/>
<circle cx="375.57" cy="454.41" r="2.4" fill="#E1BE6A"/>
<circle cx="375.57" cy="447.93" r="2.4" fill="#E1BE6A"/>
<circle cx="375.57" cy="437.15" r="2.4" fill="#E1BE6A"/>
<circle cx="375.57" cy="427.04" r="2.4" fill="#E1BE6A"/>
<circle cx="378.84" cy="555.19" r="2.4" fill="#F0E442"/>
<circle cx="378.84" cy="554.37" r="2.4" fill="#F0E442"/>
<circle cx="378.84" cy="547.63" r="2.4" fill="#F0E442"/>
<circle cx="378.84" cy="515.11" r="2.4" fill="#F0E442"/>
<circle cx="378.84" cy="499.79" r="2.4" fill="#F0E442"/>
<circle cx="378.84" cy="494.91" r="2.4" fill="#F0E442"/>
<circle cx="378.84" cy="490.15" r="2.4" fill="#F0E442"/>
<circle cx="378.84" cy="484.62" r="2.4" fill="#F0E442"/>
<circle cx="378.84" cy="482.89" r="2.4" fill="#F0E442"/>
<circle cx="378.84" cy="474.86" r="2.4" fill="#F0E442"/>
<circle cx="378.84" cy="469.98" r="2.4" fill="#F0E442"/>
<circle cx="378.84" cy="461.06" r="2.4" fill="#F0E442"/>
<circle cx="378.84" cy="451.91" r="2.4" fill="#F0E442"/>
<circle cx="378.84" cy="445.46" r="2.4" fill="#F0E442"/>
<circle cx="378.84" cy="439.24" r="2.4" fill="#F0E442"/>
<circle cx="378.84" cy="410.19" r="2.4" fill="#F0E442"/>
<circle cx="378.84" cy="395.86" r="2.4" fill="#F0E442"/>
<circle cx="378.84" cy="362.23" r="2.4" fill="#F0E442"/>
<circle cx="378.84" cy="550.56" r="2.4" fill="#000000"/>
<circle cx="378.84" cy="550.43" r="2.4" fill="#000000"/>
<circle cx="378.84" cy="550.16" r="2.4" fill="#000000"/>
<circle cx="378.84" cy="521.95" r="2.4" fill="#000000"/>
<circle cx="378.84" cy="505.74" r="2.4" fill="#000000"/>
<circle cx="378.84" cy="500.65" r="2.4" fill="#000000"/>
<circle cx="378.84" cy="495.74" r="2.4" fill="#000000"/>
<circle cx="378.84" cy="492.69" r="2.4" fill="#000000"/>
<circle cx="378.84" cy="488.19" r="2.4" fill="#000000"/>
<circle cx="378.84" cy="484.62" r="2.4" fill="#000000"/>
<circle cx="378.84" cy="480.96" r="2.4" fill="#000000"/>
<circle cx="378.84" cy="478.44" r="2.4" fill="#000000"/>
<circle cx="378.84" cy="473.18" r="2.4" fill="#000000"/>
<circle cx="378.84" cy="467.33" r="2.4" fill="#000000"/>
<circle cx="378.84" cy="464.57" r="2.4" fill="#000000"/>
<circle cx="378.84" cy="444.47" r="2.4" fill="#000000"/>
<circle cx="378.84" cy="377.93" r="2.4" fill="#000000"/>
<circle cx="378.84" cy="355.90" r="2.4" fill="#000000"/>
<circle cx="380.48" cy="549.10" r="2.4" fill="#FE6100"/>
<circle cx="380.48" cy="549.06" r="2.4" fill="#FE6100"/>
<circle cx="380.48" cy="548.80" r="2.4" fill="#FE6100"/>
<circle cx="380.48" cy="515.91" r="2.4" fill="#FE6100"/>
<circle cx="380.48" cy="505.55" r="2.4" fill="#FE6100"/>
<circle cx="380.48" cy="493.39" r="2.4" fill="#FE6100"/>
<circle cx="380.48" cy="491.68" r="2.4" fill="#FE6100"/>
<circle cx="380.48" cy="485.16" r="2.4" fill="#FE6100"/>
<circle cx="380.48" cy="481.91" r="2.4" fill="#FE6100"/>
<circle cx="380.48" cy="475.81" r="2.4" fill="#FE6100"/>
<circle cx="380.48" cy="473.61" r="2.4" fill="#FE6100"/>
<circle cx="380.48" cy="467.98" r="2.4" fill="#FE6100"/>
<circle cx="380.48" cy="463.07" r="2.4" fill="#FE6100"/>
<circle cx="380.48" cy="458.49" r="2.4" fill="#FE6100"/>
<circle cx="380.48" cy="454.52" r="2.4" fill="#FE6100"/>
<circle cx="380.48" cy="431.67" r="2.4" fill="#FE6100"/>
<circle cx="380.48" cy="396.44" r="2.4" fill="#FE6100"/>
<circle cx="380.48" cy="355.90" r="2.4" fill="#FE6100"/>
<circle cx="385.93" cy="550.56" r="2.4" fill="#DC267F"/>
<circle cx="385.93" cy="542.74" r="2.4" fill="#DC267F"/>
<circle cx="385.93" cy="536.70" r="2.4" fill="#DC267F"/>
<circle cx="385.93" cy="505.22" r="2.4" fill="#DC267F"/>
<circle cx="385.93" cy="485.09" r="2.4" fill="#DC267F"/>
<circle cx="385.93" cy="481.30" r="2.4" fill="#DC267F"/>
<circle cx="385.93" cy="474.39" r="2.4" fill="#DC267F"/>
<circle cx="385.93" cy="472.62" r="2.4" fill="#DC267F"/>
<circle cx="385.93" cy="468.22" r="2.4" fill="#DC267F"/>
<circle cx="385.93" cy="459.40" r="2.4" fill="#DC267F"/>
<circle cx="385.93" cy="453.24" r="2.4" fill="#DC267F"/>
<circle cx="385.93" cy="450.68" r="2.4" fill="#DC267F"/>
<circle cx="385.93" cy="441.14" r="2.4" fill="#DC267F"/>
<circle cx="385.93" cy="434.39" r="2.4" fill="#DC267F"/>
<circle cx="385.93" cy="428.48" r="2.4" fill="#DC267F"/>
<circle cx="385.93" cy="421.19" r="2.4" fill="#DC267F"/>
<circle cx="385.93" cy="401.41" r="2.4" fill="#DC267F"/>
<circle cx="385.93" cy="390.49" r="2.4" fill="#DC267F"/>
<circle cx="389.20" cy="542.77" r="2.4" fill="#AA4499"/>
<circle cx="389.20" cy="537.35" r="2.4" fill="#AA4499"/>
<circle cx="389.20" cy="534.33" r="2.4" fill="#AA4499"/>
<circle cx="389.20" cy="498.90" r="2.4" fill="#AA4499"/>
<circle cx="389.20" cy="493.39" r="2.4" fill="#AA4499"/>
<circle cx="389.20" cy="485.26" r="2.4" fill="#AA4499"/>
<circle cx="389.20" cy="482.16" r="2.4" fill="#AA4499"/>
<circle cx="389.20" cy="477.66" r="2.4" fill="#AA4499"/>
<circle cx="389.20" cy="474.50" r="2.4" fill="#AA4499"/>
<circle cx="389.20" cy="472.93" r="2.4" fill="#AA4499"/>
<circle cx="389.20" cy="466.85" r="2.4" fill="#AA4499"/>
<circle cx="389.20" cy="464.69" r="2.4" fill="#AA4499"/>
<circle cx="389.20" cy="459.71" r="2.4" fill="#AA4499"/>
<circle cx="389.20" cy="454.82" r="2.4" fill="#AA4499"/>
<circle cx="389.20" cy="451.53" r="2.4" fill="#AA4499"/>
<circle cx="389.20" cy="427.08" r="2.4" fill="#AA4499"/>
<circle cx="389.20" cy="404.00" r="2.4" fill="#AA4499"/>
<circle cx="389.20" cy="379.77" r="2.4" fill="#AA4499"/>
<circle cx="383.75" cy="550.56" r="2.4" fill="#CC6677"/>
<circle cx="383.75" cy="546.88" r="2.4" fill="#CC6677"/>
<circle cx="383.75" cy="540.25" r="2.4" fill="#CC6677"/>
<circle cx="383.75" cy="500.91" r="2.4" fill="#CC6677"/>
<circle cx="383.75" cy="485.90" r="2.4" fill="#CC6677"/>
<circle cx="383.75" cy="479.08" r="2.4" fill="#CC6677"/>
<circle cx="383.75" cy="472.96" r="2.4" fill="#CC6677"/>
<circle cx="383.75" cy="469.13" r="2.4" fill="#CC6677"/>
<circle cx="383.75" cy="464.77" r="2.4" fill="#CC6677"/>
<circle cx="383.75" cy="457.66" r="2.4" fill="#CC6677"/>
<circle cx="383.75" cy="453.89" r="2.4" fill="#CC6677"/>
<circle cx="383.75" cy="444.17" r="2.4" fill="#CC6677"/>
<circle cx="383.75" cy="438.29" r="2.4" fill="#CC6677"/>
<circle cx="383.75" cy="432.63" r="2.4" fill="#CC6677"/>
<circle cx="383.75" cy="423.87" r="2.4" fill="#CC6677"/>
<circle cx="383.75" cy="407.65" r="2.4" fill="#CC6677"/>
<circle cx="383.75" cy="364.75" r="2.4" fill="#CC6677"/>
<circle cx="383.75" cy="341.03" r="2.4" fill="#CC6677"/>
<circle cx="383.75" cy="549.10" r="2.4" fill="#D55E00"/>
<circle cx="383.75" cy="548.20" r="2.4" fill="#D55E00"/>
<circle cx="383.75" cy="538.55" r="2.4" fill="#D55E00"/>
<circle cx="383.75" cy="499.63" r="2.4" fill="#D55E00"/>
<circle cx="383.75" cy="491.17" r="2.4" fill="#D55E00"/>
<circle cx="383.75" cy="482.88" r="2.4" fill="#D55E00"/>
<circle cx="383.75" cy="472.73" r="2.4" fill="#D55E00"/>
<circle cx="383.75" cy="470.07" r="2.4" fill="#D55E00"/>
<circle cx="383.75" cy="466.29" r="2.4" fill="#D55E00"/>
<circle cx="383.75" cy="459.99" r="2.4" fill="#D55E00"/>
<circle cx="383.75" cy="452.65" r="2.4" fill="#D55E00"/>
<circle cx="383.75" cy="449.62" r="2.4" fill="#D55E00"/>
<circle cx="383.75" cy="440.46" r="2.4" fill="#D55E00"/>
<circle cx="383.75" cy="437.51" r="2.4" fill="#D55E00"/>
<circle cx="383.75" cy="428.32" r="2.4" fill="#D55E00"/>
<circle cx="383.75" cy="413.31" r="2.4" fill="#D55E00"/>
<circle cx="383.75" cy="400.76" r="2.4" fill="#D55E00"/>
<circle cx="383.75" cy="381.97" r="2.4" fill="#D55E00"/>
<circle cx="385.93" cy="544.23" r="2.4" fill="#E69F00"/>
<circle cx="385.93" cy="538.71" r="2.4" fill="#E69F00"/>
<circle cx="385.93" cy="535.88" r="2.4" fill="#E69F00"/>
<circle cx="385.93" cy="497.33" r="2.4" fill="#E69F00"/>
<circle cx="385.93" cy="488.22" r="2.4" fill="#E69F00"/>
<circle cx="385.93" cy="480.60" r="2.4" fill="#E69F00"/>
<circle cx="385.93" cy="473.98" r="2.4" fill="#E69F00"/>
<circle cx="385.93" cy="467.57" r="2.4" fill="#E69F00"/>
<circle cx="385.93" cy="464.86" r="2.4" fill="#E69F00"/>
<circle cx="385.93" cy="460.46" r="2.4" fill="#E69F00"/>
<circle cx="385.93" cy="457.34" r="2.4" fill="#E69F00"/>
<circle cx="385.93" cy="454.72" r="2.4" fill="#E69F00"/>
<circle cx="385.93" cy="452.89" r="2.4" fill="#E69F00"/>
<circle cx="385.93" cy="449.77" r="2.4" fill="#E69F00"/>
<circle cx="385.93" cy="446.34" r="2.4" fill="#E69F00"/>
<circle cx="385.93" cy="430.43" r="2.4" fill="#E69F00"/>
<circle cx="385.93" cy="368.88" r="2.4" fill="#E69F00"/>
<circle cx="385.93" cy="361.50" r="2.4" fill="#E69F00"/>
<circle cx="383.75" cy="548.13" r="2.4" fill="#88CCEE"/>
<circle cx="383.75" cy="544.01" r="2.4" fill="#88CCEE"/>
<circle cx="383.75" cy="535.64" r="2.4" fill="#88CCEE"/>
<circle cx="383.75" cy="499.74" r="2.4" fill="#88CCEE"/>
<circle cx="383.75" cy="479.18" r="2.4" fill="#88CCEE"/>
<circle cx="383.75" cy="471.67" r="2.4" fill="#88CCEE"/>
<circle cx="383.75" cy="465.55" r="2.4" fill="#88CCEE"/>
<circle cx="383.75" cy="461.91" r="2.4" fill="#88CCEE"/>
<circle cx="383.75" cy="458.58" r="2.4" fill="#88CCEE"/>
<circle cx="383.75" cy="451.24" r="2.4" fill="#88CCEE"/>
<circle cx="383.75" cy="448.50" r="2.4" fill="#88CCEE"/>
<circle cx="383.75" cy="439.96" r="2.4" fill="#88CCEE"/>
<circle cx="383.75" cy="435.71" r="2.4" fill="#88CCEE"/>
<circle cx="383.75" cy="426.08" r="2.4" fill="#88CCEE"/>
<circle cx="383.75" cy="420.87" r="2.4" fill="#88CCEE"/>
<circle cx="383.75" cy="391.82" r="2.4" fill="#88CCEE"/>
<circle cx="383.75" cy="372.48" r="2.4" fill="#88CCEE"/>
<circle cx="383.75" cy="341.03" r="2.4" fill="#88CCEE"/>
<text x="503.65" y="323.48" font-size="7.25" fill="#000" stroke="#000" text-anchor="middle">Pearson's r [95% CI] = &#8722;0.21 [&#8722;0.3; &#8722;0.12], P = 5e&#8722;06</text>
<polygon points="370.67,757.09 372.31,758.30 373.95,759.49 375.59,760.67 377.23,761.84 378.87,762.99 380.51,764.11 382.15,765.22 383.79,766.31 385.43,767.37 387.07,768.42 388.70,769.44 390.34,770.44 391.98,771.42 393.62,772.38 395.26,773.33 396.90,774.26 398.54,775.18 400.18,776.08 401.82,776.98 403.46,777.86 405.10,778.74 406.74,779.61 408.38,780.47 410.02,781.33 411.66,782.18 413.30,783.02 414.94,783.87 416.58,784.70 418.22,785.54 419.86,786.37 421.50,787.20 423.14,788.03 424.77,788.85 426.41,789.68 428.05,790.50 429.69,791.32 431.33,792.14 432.97,792.96 434.61,793.77 436.25,794.59 437.89,795.40 439.53,796.21 441.17,797.03 442.81,797.84 444.45,798.65 446.09,799.46 447.73,800.27 449.37,801.08 451.01,801.89 452.65,802.69 454.29,803.50 455.93,804.31 457.57,805.11 459.21,805.92 460.84,806.72 462.48,807.53 464.12,808.34 465.76,809.14 467.40,809.94 469.04,810.75 469.04,838.43 467.40,837.11 465.76,835.80 464.12,834.48 462.48,833.17 460.84,831.85 459.21,830.54 457.57,829.22 455.93,827.91 454.29,826.60 452.65,825.29 451.01,823.97 449.37,822.66 447.73,821.35 446.09,820.04 444.45,818.73 442.81,817.42 441.17,816.11 439.53,814.81 437.89,813.50 436.25,812.19 434.61,810.89 432.97,809.59 431.33,808.28 429.69,806.98 428.05,805.68 426.41,804.39 424.77,803.09 423.14,801.80 421.50,800.50 419.86,799.21 418.22,797.93 416.58,796.64 414.94,795.36 413.30,794.08 411.66,792.81 410.02,791.54 408.38,790.28 406.74,789.02 405.10,787.77 403.46,786.53 401.82,785.29 400.18,784.07 398.54,782.85 396.90,781.65 395.26,780.46 393.62,779.29 391.98,778.13 390.34,776.99 388.70,775.87 387.07,774.78 385.43,773.70 383.79,772.64 382.15,771.61 380.51,770.60 378.87,769.61 377.23,768.64 375.59,767.68 373.95,766.74 372.31,765.82 370.67,764.91" fill="#AFAFAF"/>
<line x1="370.67" y1="761.00" x2="469.04" y2="824.59" stroke="#000" stroke-width="3"/>
<circle cx="384.29" cy="834.58" r="2.4" fill="#FFB000"/>
<circle cx="384.29" cy="833.74" r="2.4" fill="#FFB000"/>
<circle cx="384.29" cy="831.88" r="2.4" fill="#FFB000"/>
<circle cx="384.29" cy="830.03" r="2.4" fill="#FFB000"/>
<circle cx="384.29" cy="829.23" r="2.4" fill="#FFB000"/>
<circle cx="384.29" cy="827.71" r="2.4" fill="#FFB000"/>
<circle cx="384.29" cy="825.45" r="2.4" fill="#FFB000"/>
<circle cx="384.29" cy="824.26" r="2.4" fill="#FFB000"/>
<circle cx="384.29" cy="822.22" r="2.4" fill="#FFB000"/>
<circle cx="384.29" cy="820.29" r="2.4" fill="#FFB000"/>
<circle cx="384.29" cy="819.64" r="2.4" fill="#FFB000"/>
<circle cx="384.29" cy="817.44" r="2.4" fill="#FFB000"/>
<circle cx="384.29" cy="815.94" r="2.4" fill="#FFB000"/>
<circle cx="384.29" cy="813.98" r="2.4" fill="#FFB000"/>
<circle cx="384.29" cy="811.36" r="2.4" fill="#FFB000"/>
<circle cx="384.29" cy="809.47" r="2.4" fill="#FFB000"/>
<circle cx="384.29" cy="800.10" r="2.4" fill="#FFB000"/>
<circle cx="384.29" cy="795.35" r="2.4" fill="#FFB000"/>
<circle cx="469.04" cy="835.31" r="2.4" fill="#117733"/>
<circle cx="469.04" cy="832.14" r="2.4" fill="#117733"/>
<circle cx="469.04" cy="828.97" r="2.4" fill="#117733"/>
<circle cx="469.04" cy="826.05" r="2.4" fill="#117733"/>
<circle cx="469.04" cy="819.23" r="2.4" fill="#117733"/>
<circle cx="469.04" cy="817.52" r="2.4" fill="#117733"/>
<circle cx="469.04" cy="815.57" r="2.4" fill="#117733"/>
<circle cx="469.04" cy="769.04" r="2.4" fill="#117733"/>
<circle cx="469.04" cy="759.29" r="2.4" fill="#117733"/>
<circle cx="469.04" cy="726.89" r="2.4" fill="#117733"/>
<circle cx="417.00" cy="833.60" r="2.4" fill="#999999"/>
<circle cx="417.00" cy="830.68" r="2.4" fill="#999999"/>
<circle cx="417.00" cy="827.75" r="2.4" fill="#999999"/>
<circle cx="417.00" cy="824.10" r="2.4" fill="#999999"/>
<circle cx="417.00" cy="820.45" r="2.4" fill="#999999"/>
<circle cx="417.00" cy="816.79" r="2.4" fill="#999999"/>
<circle cx="417.00" cy="813.14" r="2.4" fill="#999999"/>
<circle cx="417.00" cy="798.76" r="2.4" fill="#999999"/>
<circle cx="417.00" cy="793.40" r="2.4" fill="#999999"/>
<circle cx="417.00" cy="769.04" r="2.4" fill="#999999"/>
<circle cx="417.00" cy="754.42" r="2.4" fill="#999999"/>
<circle cx="417.00" cy="728.84" r="2.4" fill="#999999"/>
<circle cx="460.05" cy="831.17" r="2.4" fill="#332288"/>
<circle cx="460.05" cy="827.75" r="2.4" fill="#332288"/>
<circle cx="460.05" cy="825.07" r="2.4" fill="#332288"/>
<circle cx="460.05" cy="822.15" r="2.4" fill="#332288"/>
<circle cx="460.05" cy="819.23" r="2.4" fill="#332288"/>
<circle cx="460.05" cy="816.55" r="2.4" fill="#332288"/>
<circle cx="460.05" cy="813.62" r="2.4" fill="#332288"/>
<circle cx="460.05" cy="810.70" r="2.4" fill="#332288"/>
<circle cx="460.05" cy="789.99" r="2.4" fill="#332288"/>
<circle cx="460.05" cy="763.92" r="2.4" fill="#332288"/>
<circle cx="460.05" cy="754.42" r="2.4" fill="#332288"/>
<circle cx="460.05" cy="726.89" r="2.4" fill="#332288"/>
<circle cx="412.09" cy="826.78" r="2.4" fill="#56B4E9"/>
<circle cx="412.09" cy="821.91" r="2.4" fill="#56B4E9"/>
<circle cx="412.09" cy="818.74" r="2.4" fill="#56B4E9"/>
<circle cx="412.09" cy="815.57" r="2.4" fill="#56B4E9"/>
<circle cx="412.09" cy="812.65" r="2.4" fill="#56B4E9"/>
<circle cx="412.09" cy="809.48" r="2.4" fill="#56B4E9"/>
<circle cx="412.09" cy="806.31" r="2.4" fill="#56B4E9"/>
<circle cx="412.09" cy="793.40" r="2.4" fill="#56B4E9"/>
<circle cx="412.09" cy="763.92" r="2.4" fill="#56B4E9"/>
<circle cx="412.09" cy="758.81" r="2.4" fill="#56B4E9"/>
<circle cx="412.09" cy="728.84" r="2.4" fill="#56B4E9"/>
<circle cx="382.39" cy="831.41" r="2.4" fill="#CC79A7"/>
<circle cx="382.39" cy="828.34" r="2.4" fill="#CC79A7"/>
<circle cx="382.39" cy="817.53" r="2.4" fill="#CC79A7"/>
<circle cx="382.39" cy="813.94" r="2.4" fill="#CC79A7"/>
<circle cx="382.39" cy="811.77" r="2.4" fill="#CC79A7"/>
<circle cx="382.39" cy="805.49" r="2.4" fill="#CC79A7"/>
<circle cx="382.39" cy="802.45" r="2.4" fill="#CC79A7"/>
<circle cx="382.39" cy="798.35" r="2.4" fill="#CC79A7"/>
<circle cx="382.39" cy="791.07" r="2.4" fill="#CC79A7"/>
<circle cx="382.39" cy="788.46" r="2.4" fill="#CC79A7"/>
<circle cx="382.39" cy="787.38" r="2.4" fill="#CC79A7"/>
<circle cx="382.39" cy="785.49" r="2.4" fill="#CC79A7"/>
<circle cx="382.39" cy="784.46" r="2.4" fill="#CC79A7"/>
<circle cx="382.39" cy="782.80" r="2.4" fill="#CC79A7"/>
<circle cx="382.39" cy="780.81" r="2.4" fill="#CC79A7"/>
<circle cx="382.39" cy="778.05" r="2.4" fill="#CC79A7"/>
<circle cx="382.39" cy="747.89" r="2.4" fill="#CC79A7"/>
<circle cx="382.39" cy="742.48" r="2.4" fill="#CC79A7"/>
<circle cx="373.39" cy="829.70" r="2.4" fill="#994F00"/>
<circle cx="373.39" cy="821.91" r="2.4" fill="#994F00"/>
<circle cx="373.39" cy="809.48" r="2.4" fill="#994F00"/>
<circle cx="373.39" cy="807.42" r="2.4" fill="#994F00"/>
<circle cx="373.39" cy="797.60" r="2.4" fill="#994F00"/>
<circle cx="373.39" cy="795.18" r="2.4" fill="#994F00"/>
<circle cx="373.39" cy="793.42" r="2.4" fill="#994F00"/>
<circle cx="373.39" cy="791.98" r="2.4" fill="#994F00"/>
<circle cx="373.39" cy="790.86" r="2.4" fill="#994F00"/>
<circle cx="373.39" cy="789.12" r="2.4" fill="#994F00"/>
<circle cx="373.39" cy="786.51" r="2.4" fill="#994F00"/>
<circle cx="373.39" cy="784.76" r="2.4" fill="#994F00"/>
<circle cx="373.39" cy="782.25" r="2.4" fill="#994F00"/>
<circle cx="373.39" cy="779.56" r="2.4" fill="#994F00"/>
<circle cx="373.39" cy="766.08" r="2.4" fill="#994F00"/>
<circle cx="373.39" cy="758.32" r="2.4" fill="#994F00"/>
<circle cx="373.39" cy="742.48" r="2.4" fill="#994F00"/>
<circle cx="373.39" cy="718.12" r="2.4" fill="#994F00"/>
<circle cx="370.67" cy="836.28" r="2.4" fill="#648FFF"/>
<circle cx="370.67" cy="830.94" r="2.4" fill="#648FFF"/>
<circle cx="370.67" cy="821.88" r="2.4" fill="#648FFF"/>
<circle cx="370.67" cy="813.87" r="2.4" fill="#648FFF"/>
<circle cx="370.67" cy="806.94" r="2.4" fill="#648FFF"/>
<circle cx="370.67" cy="801.59" r="2.4" fill="#648FFF"/>
<circle cx="370.67" cy="796.80" r="2.4" fill="#648FFF"/>
<circle cx="370.67" cy="791.82" r="2.4" fill="#648FFF"/>
<circle cx="370.67" cy="785.24" r="2.4" fill="#648FFF"/>
<circle cx="370.67" cy="778.74" r="2.4" fill="#648FFF"/>
<circle cx="370.67" cy="776.04" r="2.4" fill="#648FFF"/>
<circle cx="370.67" cy="773.88" r="2.4" fill="#648FFF"/>
<circle cx="370.67" cy="772.07" r="2.4" fill="#648FFF"/>
<circle cx="370.67" cy="768.79" r="2.4" fill="#648FFF"/>
<circle cx="370.67" cy="765.55" r="2.4" fill="#648FFF"/>
<circle cx="370.67" cy="742.53" r="2.4" fill="#648FFF"/>
<circle cx="370.67" cy="728.87" r="2.4" fill="#648FFF"/>
<circle cx="370.67" cy="699.85" r="2.4" fill="#648FFF"/>
<circle cx="373.39" cy="828.24" r="2.4" fill="#0072B2"/>
<circle cx="373.39" cy="825.98" r="2.4" fill="#0072B2"/>
<circle cx="373.39" cy="797.50" r="2.4" fill="#0072B2"/>
<circle cx="373.39" cy="795.30" r="2.4" fill="#0072B2"/>
<circle cx="373.39" cy="791.85" r="2.4" fill="#0072B2"/>
<circle cx="373.39" cy="789.32" r="2.4" fill="#0072B2"/>
<circle cx="373.39" cy="786.43" r="2.4" fill="#0072B2"/>
<circle cx="373.39" cy="782.62" r="2.4" fill="#0072B2"/>
<circle cx="373.39" cy="778.89" r="2.4" fill="#0072B2"/>
<circle cx="373.39" cy="775.68" r="2.4" fill="#0072B2"/>
<circle cx="373.39" cy="773.33" r="2.4" fill="#0072B2"/>
<circle cx="373.39" cy="769.95" r="2.4" fill="#0072B2"/>
<circle cx="373.39" cy="768.40" r="2.4" fill="#0072B2"/>
<circle cx="373.39" cy="765.87" r="2.4" fill="#0072B2"/>
<circle cx="373.39" cy="761.49" r="2.4" fill="#0072B2"/>
<circle cx="373.39" cy="745.26" r="2.4" fill="#0072B2"/>
<circle cx="373.39" cy="729.81" r="2.4" fill="#0072B2"/>
<circle cx="373.39" cy="717.39" r="2.4" fill="#0072B2"/>
<circle cx="378.84" cy="828.24" r="2.4" fill="#DDCC77"/>
<circle cx="378.84" cy="815.96" r="2.4" fill="#DDCC77"/>
<circle cx="378.84" cy="803.06" r="2.4" fill="#DDCC77"/>
<circle cx="378.84" cy="796.66" r="2.4" fill="#DDCC77"/>
<circle cx="378.84" cy="794.90" r="2.4" fill="#DDCC77"/>
<circle cx="378.84" cy="792.90" r="2.4" fill="#DDCC77"/>
<circle cx="378.84" cy="790.39" r="2.4" fill="#DDCC77"/>
<circle cx="378.84" cy="788.78" r="2.4" fill="#DDCC77"/>
<circle cx="378.84" cy="785.49" r="2.4" fill="#DDCC77"/>
<circle cx="378.84" cy="784.22" r="2.4" fill="#DDCC77"/>
<circle cx="378.84" cy="782.16" r="2.4" fill="#DDCC77"/>
<circle cx="378.84" cy="780.96" r="2.4" fill="#DDCC77"/>
<circle cx="378.84" cy="778.77" r="2.4" fill="#DDCC77"/>
<circle cx="378.84" cy="777.59" r="2.4" fill="#DDCC77"/>
<circle cx="378.84" cy="776.48" r="2.4" fill="#DDCC77"/>
<circle cx="378.84" cy="767.67" r="2.4" fill="#DDCC77"/>
<circle cx="378.84" cy="752.72" r="2.4" fill="#DDCC77"/>
<circle cx="378.84" cy="751.01" r="2.4" fill="#DDCC77"/>
<circle cx="387.56" cy="818.74" r="2.4" fill="#882255"/>
<circle cx="387.56" cy="808.82" r="2.4" fill="#882255"/>
<circle cx="387.56" cy="804.02" r="2.4" fill="#882255"/>
<circle cx="387.56" cy="795.33" r="2.4" fill="#882255"/>
<circle cx="387.56" cy="791.45" r="2.4" fill="#882255"/>
<circle cx="387.56" cy="787.28" r="2.4" fill="#882255"/>
<circle cx="387.56" cy="783.62" r="2.4" fill="#882255"/>
<circle cx="387.56" cy="779.56" r="2.4" fill="#882255"/>
<circle cx="387.56" cy="774.29" r="2.4" fill="#882255"/>
<circle cx="387.56" cy="771.58" r="2.4" fill="#882255"/>
<circle cx="387.56" cy="767.47" r="2.4" fill="#882255"/>
<circle cx="387.56" cy="763.44" r="2.4" fill="#882255"/>
<circle cx="387.56" cy="761.26" r="2.4" fill="#882255"/>
<circle cx="387.56" cy="757.99" r="2.4" fill="#882255"/>
<circle cx="387.56" cy="752.24" r="2.4" fill="#882255"/>
<circle cx="387.56" cy="748.03" r="2.4" fill="#882255"/>
<circle cx="387.56" cy="738.08" r="2.4" fill="#882255"/>
<circle cx="387.56" cy="728.11" r="2.4" fill="#882255"/>
<circle cx="378.84" cy="831.41" r="2.4" fill="#009E73"/>
<circle cx="378.84" cy="823.85" r="2.4" fill="#009E73"/>
<circle cx="378.84" cy="805.05" r="2.4" fill="#009E73"/>
<circle cx="378.84" cy="784.64" r="2.4" fill="#009E73"/>
<circle cx="378.84" cy="782.34" r="2.4" fill="#009E73"/>
<circle cx="378.84" cy="778.44" r="2.4" fill="#009E73"/>
<circle cx="378.84" cy="771.55" r="2.4" fill="#009E73"/>
<circle cx="378.84" cy="770.18" r="2.4" fill="#009E73"/>
<circle cx="378.84" cy="763.34" r="2.4" fill="#009E73"/>
<circle cx="378.84" cy="758.73" r="2.4" fill="#009E73"/>
<circle cx="378.84" cy="751.25" r="2.4" fill="#009E73"/>
<circle cx="378.84" cy="741.79" r="2.4" fill="#009E73"/>
<circle cx="378.84" cy="733.81" r="2.4" fill="#009E73"/>
<circle cx="378.84" cy="722.67" r="2.4" fill="#009E73"/>
<circle cx="378.84" cy="712.75" r="2.4" fill="#009E73"/>
<circle cx="378.84" cy="703.25" r="2.4" fill="#009E73"/>
<circle cx="378.84" cy="689.57" r="2.4" fill="#009E73"/>
<circle cx="378.84" cy="676.46" r="2.4" fill="#009E73"/>
<circle cx="372.85" cy="833.11" r="2.4" fill="#E1BE6A"/>
<circle cx="372.85" cy="817.61" r="2.4" fill="#E1BE6A"/>
<circle cx="372.85" cy="804.55" r="2.4" fill="#E1BE6A"/>
<circle cx="372.85" cy="788.93" r="2.4" fill="#E1BE6A"/>
<circle cx="372.85" cy="784.75" r="2.4" fill="#E1BE6A"/>
<circle cx="372.85" cy="780.25" r="2.4" fill="#E1BE6A"/>
<circle cx="372.85" cy="775.88" r="2.4" fill="#E1BE6A"/>
<circle cx="372.85" cy="771.07" r="2.4" fill="#E1BE6A"/>
<circle cx="372.85" cy="768.53" r="2.4" fill="#E1BE6A"/>
<circle cx="372.85" cy="760.42" r="2.4" fill="#E1BE6A"/>
<circle cx="372.85" cy="756.61" r="2.4" fill="#E1BE6A"/>
<circle cx="372.85" cy="750.28" r="2.4" fill="#E1BE6A"/>
<circle cx="372.85" cy="744.89" r="2.4" fill="#E1BE6A"/>
<circle cx="372.85" cy="736.53" r="2.4" fill="#E1BE6A"/>
<circle cx="372.85" cy="729.75" r="2.4" fill="#E1BE6A"/>
<circle cx="372.85" cy="722.75" r="2.4" fill="#E1BE6A"/>
<circle cx="372.85" cy="691.53" r="2.4" fill="#E1BE6A"/>
<circle cx="372.85" cy="684.01" r="2.4" fill="#E1BE6A"/>
<circle cx="372.85" cy="829.95" r="2.4" fill="#F0E442"/>
<circle cx="372.85" cy="822.28" r="2.4" fill="#F0E442"/>
<circle cx="372.85" cy="799.53" r="2.4" fill="#F0E442"/>
<circle cx="372.85" cy="777.98" r="2.4" fill="#F0E442"/>
<circle cx="372.85" cy="769.94" r="2.4" fill="#F0E442"/>
<circle cx="372.85" cy="766.98" r="2.4" fill="#F0E442"/>
<circle cx="372.85" cy="758.98" r="2.4" fill="#F0E442"/>
<circle cx="372.85" cy="755.20" r="2.4" fill="#F0E442"/>
<circle cx="372.85" cy="749.16" r="2.4" fill="#F0E442"/>
<circle cx="372.85" cy="741.46" r="2.4" fill="#F0E442"/>
<circle cx="372.85" cy="738.01" r="2.4" fill="#F0E442"/>
<circle cx="372.85" cy="726.48" r="2.4" fill="#F0E442"/>
<circle cx="372.85" cy="720.73" r="2.4" fill="#F0E442"/>
<circle cx="372.85" cy="715.77" r="2.4" fill="#F0E442"/>
<circle cx="372.85" cy="709.15" r="2.4" fill="#F0E442"/>
<circle cx="372.85" cy="699.09" r="2.4" fill="#F0E442"/>
<circle cx="372.85" cy="686.53" r="2.4" fill="#F0E442"/>
<circle cx="372.85" cy="684.01" r="2.4" fill="#F0E442"/>
<circle cx="376.39" cy="826.54" r="2.4" fill="#000000"/>
<circle cx="376.39" cy="806.96" r="2.4" fill="#000000"/>
<circle cx="376.39" cy="791.66" r="2.4" fill="#000000"/>
<circle cx="376.39" cy="775.85" r="2.4" fill="#000000"/>
<circle cx="376.39" cy="773.06" r="2.4" fill="#000000"/>
<circle cx="376.39" cy="768.91" r="2.4" fill="#000000"/>
<circle cx="376.39" cy="763.83" r="2.4" fill="#000000"/>
<circle cx="376.39" cy="761.10" r="2.4" fill="#000000"/>
<circle cx="376.39" cy="758.56" r="2.4" fill="#000000"/>
<circle cx="376.39" cy="755.67" r="2.4" fill="#000000"/>
<circle cx="376.39" cy="750.92" r="2.4" fill="#000000"/>
<circle cx="376.39" cy="750.08" r="2.4" fill="#000000"/>
<circle cx="376.39" cy="746.42" r="2.4" fill="#000000"/>
<circle cx="376.39" cy="743.63" r="2.4" fill="#000000"/>
<circle cx="376.39" cy="739.13" r="2.4" fill="#000000"/>
<circle cx="376.39" cy="726.86" r="2.4" fill="#000000"/>
<circle cx="376.39" cy="717.39" r="2.4" fill="#000000"/>
<circle cx="376.39" cy="595.08" r="2.4" fill="#000000"/>
<circle cx="376.39" cy="826.54" r="2.4" fill="#FE6100"/>
<circle cx="376.39" cy="806.96" r="2.4" fill="#FE6100"/>
<circle cx="376.39" cy="791.66" r="2.4" fill="#FE6100"/>
<circle cx="376.39" cy="775.85" r="2.4" fill="#FE6100"/>
<circle cx="376.39" cy="773.06" r="2.4" fill="#FE6100"/>
<circle cx="376.39" cy="768.91" r="2.4" fill="#FE6100"/>
<circle cx="376.39" cy="763.83" r="2.4" fill="#FE6100"/>
<circle cx="376.39" cy="761.10" r="2.4" fill="#FE6100"/>
<circle cx="376.39" cy="758.56" r="2.4" fill="#FE6100"/>
<circle cx="376.39" cy="755.67" r="2.4" fill="#FE6100"/>
<circle cx="376.39" cy="750.92" r="2.4" fill="#FE6100"/>
<circle cx="376.39" cy="750.08" r="2.4" fill="#FE6100"/>
<circle cx="376.39" cy="746.42" r="2.4" fill="#FE6100"/>
<circle cx="376.39" cy="743.63" r="2.4" fill="#FE6100"/>
<circle cx="376.39" cy="739.13" r="2.4" fill="#FE6100"/>
<circle cx="376.39" cy="726.86" r="2.4" fill="#FE6100"/>
<circle cx="376.39" cy="717.39" r="2.4" fill="#FE6100"/>
<circle cx="376.39" cy="595.08" r="2.4" fill="#FE6100"/>
<circle cx="379.39" cy="828.24" r="2.4" fill="#DC267F"/>
<circle cx="379.39" cy="825.71" r="2.4" fill="#DC267F"/>
<circle cx="379.39" cy="807.27" r="2.4" fill="#DC267F"/>
<circle cx="379.39" cy="793.86" r="2.4" fill="#DC267F"/>
<circle cx="379.39" cy="781.26" r="2.4" fill="#DC267F"/>
<circle cx="379.39" cy="774.31" r="2.4" fill="#DC267F"/>
<circle cx="379.39" cy="763.63" r="2.4" fill="#DC267F"/>
<circle cx="379.39" cy="750.71" r="2.4" fill="#DC267F"/>
<circle cx="379.39" cy="744.44" r="2.4" fill="#DC267F"/>
<circle cx="379.39" cy="738.95" r="2.4" fill="#DC267F"/>
<circle cx="379.39" cy="727.65" r="2.4" fill="#DC267F"/>
<circle cx="379.39" cy="716.98" r="2.4" fill="#DC267F"/>
<circle cx="379.39" cy="711.09" r="2.4" fill="#DC267F"/>
<circle cx="379.39" cy="696.76" r="2.4" fill="#DC267F"/>
<circle cx="379.39" cy="690.61" r="2.4" fill="#DC267F"/>
<circle cx="379.39" cy="681.94" r="2.4" fill="#DC267F"/>
<circle cx="379.39" cy="672.18" r="2.4" fill="#DC267F"/>
<circle cx="379.39" cy="666.95" r="2.4" fill="#DC267F"/>
<circle cx="376.39" cy="826.54" r="2.4" fill="#AA4499"/>
<circle cx="376.39" cy="812.55" r="2.4" fill="#AA4499"/>
<circle cx="376.39" cy="799.17" r="2.4" fill="#AA4499"/>
<circle cx="376.39" cy="779.92" r="2.4" fill="#AA4499"/>
<circle cx="376.39" cy="770.98" r="2.4" fill="#AA4499"/>
<circle cx="376.39" cy="764.54" r="2.4" fill="#AA4499"/>
<circle cx="376.39" cy="759.95" r="2.4" fill="#AA4499"/>
<circle cx="376.39" cy="747.87" r="2.4" fill="#AA4499"/>
<circle cx="376.39" cy="740.83" r="2.4" fill="#AA4499"/>
<circle cx="376.39" cy="737.08" r="2.4" fill="#AA4499"/>
<circle cx="376.39" cy="730.82" r="2.4" fill="#AA4499"/>
<circle cx="376.39" cy="722.84" r="2.4" fill="#AA4499"/>
<circle cx="376.39" cy="716.71" r="2.4" fill="#AA4499"/>
<circle cx="376.39" cy="705.95" r="2.4" fill="#AA4499"/>
<circle cx="376.39" cy="699.97" r="2.4" fill="#AA4499"/>
<circle cx="376.39" cy="670.38" r="2.4" fill="#AA4499"/>
<circle cx="376.39" cy="656.49" r="2.4" fill="#AA4499"/>
<circle cx="376.39" cy="632.36" r="2.4" fill="#AA4499"/>
<circle cx="376.39" cy="832.87" r="2.4" fill="#CC6677"/>
<circle cx="376.39" cy="822.30" r="2.4" fill="#CC6677"/>
<circle cx="376.39" cy="794.13" r="2.4" fill="#CC6677"/>
<circle cx="376.39" cy="786.96" r="2.4" fill="#CC6677"/>
<circle cx="376.39" cy="779.87" r="2.4" fill="#CC6677"/>
<circle cx="376.39" cy="776.00" r="2.4" fill="#CC6677"/>
<circle cx="376.39" cy="767.41" r="2.4" fill="#CC6677"/>
<circle cx="376.39" cy="757.40" r="2.4" fill="#CC6677"/>
<circle cx="376.39" cy="753.60" r="2.4" fill="#CC6677"/>
<circle cx="376.39" cy="740.16" r="2.4" fill="#CC6677"/>
<circle cx="376.39" cy="730.61" r="2.4" fill="#CC6677"/>
<circle cx="376.39" cy="718.81" r="2.4" fill="#CC6677"/>
<circle cx="376.39" cy="711.34" r="2.4" fill="#CC6677"/>
<circle cx="376.39" cy="702.36" r="2.4" fill="#CC6677"/>
<circle cx="376.39" cy="693.80" r="2.4" fill="#CC6677"/>
<circle cx="376.39" cy="678.82" r="2.4" fill="#CC6677"/>
<circle cx="376.39" cy="659.33" r="2.4" fill="#CC6677"/>
<circle cx="376.39" cy="651.12" r="2.4" fill="#CC6677"/>
<circle cx="376.39" cy="832.87" r="2.4" fill="#D55E00"/>
<circle cx="376.39" cy="821.22" r="2.4" fill="#D55E00"/>
<circle cx="376.39" cy="784.16" r="2.4" fill="#D55E00"/>
<circle cx="376.39" cy="775.54" r="2.4" fill="#D55E00"/>
<circle cx="376.39" cy="772.73" r="2.4" fill="#D55E00"/>
<circle cx="376.39" cy="764.09" r="2.4" fill="#D55E00"/>
<circle cx="376.39" cy="758.93" r="2.4" fill="#D55E00"/>
<circle cx="376.39" cy="754.94" r="2.4" fill="#D55E00"/>
<circle cx="376.39" cy="747.99" r="2.4" fill="#D55E00"/>
<circle cx="376.39" cy="742.94" r="2.4" fill="#D55E00"/>
<circle cx="376.39" cy="729.00" r="2.4" fill="#D55E00"/>
<circle cx="376.39" cy="723.47" r="2.4" fill="#D55E00"/>
<circle cx="376.39" cy="711.46" r="2.4" fill="#D55E00"/>
<circle cx="376.39" cy="695.32" r="2.4" fill="#D55E00"/>
<circle cx="376.39" cy="686.12" r="2.4" fill="#D55E00"/>
<circle cx="376.39" cy="680.67" r="2.4" fill="#D55E00"/>
<circle cx="376.39" cy="638.87" r="2.4" fill="#D55E00"/>
<circle cx="376.39" cy="632.36" r="2.4" fill="#D55E00"/>
<circle cx="376.39" cy="832.87" r="2.4" fill="#E69F00"/>
<circle cx="376.39" cy="815.06" r="2.4" fill="#E69F00"/>
<circle cx="376.39" cy="797.56" r="2.4" fill="#E69F00"/>
<circle cx="376.39" cy="789.27" r="2.4" fill="#E69F00"/>
<circle cx="376.39" cy="781.74" r="2.4" fill="#E69F00"/>
<circle cx="376.39" cy="772.81" r="2.4" fill="#E69F00"/>
<circle cx="376.39" cy="762.53" r="2.4" fill="#E69F00"/>
<circle cx="376.39" cy="756.44" r="2.4" fill="#E69F00"/>
<circle cx="376.39" cy="750.39" r="2.4" fill="#E69F00"/>
<circle cx="376.39" cy="739.42" r="2.4" fill="#E69F00"/>
<circle cx="376.39" cy="736.57" r="2.4" fill="#E69F00"/>
<circle cx="376.39" cy="724.27" r="2.4" fill="#E69F00"/>
<circle cx="376.39" cy="715.86" r="2.4" fill="#E69F00"/>
<circle cx="376.39" cy="707.10" r="2.4" fill="#E69F00"/>
<circle cx="376.39" cy="699.44" r="2.4" fill="#E69F00"/>
<circle cx="376.39" cy="690.80" r="2.4" fill="#E69F00"/>
<circle cx="376.39" cy="629.98" r="2.4" fill="#E69F00"/>
<circle cx="376.39" cy="595.08" r="2.4" fill="#E69F00"/>
<circle cx="376.39" cy="832.87" r="2.4" fill="#88CCEE"/>
<circle cx="376.39" cy="815.06" r="2.4" fill="#88CCEE"/>
<circle cx="376.39" cy="797.56" r="2.4" fill="#88CCEE"/>
<circle cx="376.39" cy="789.27" r="2.4" fill="#88CCEE"/>
<circle cx="376.39" cy="781.74" r="2.4" fill="#88CCEE"/>
<circle cx="376.39" cy="772.81" r="2.4" fill="#88CCEE"/>
<circle cx="376.39" cy="762.53" r="2.4" fill="#88CCEE"/>
<circle cx="376.39" cy="756.44" r="2.4" fill="#88CCEE"/>
<circle cx="376.39" cy="750.39" r="2.4" fill="#88CCEE"/>
<circle cx="376.39" cy="739.42" r="2.4" fill="#88CCEE"/>
<circle cx="376.39" cy="736.57" r="2.4" fill="#88CCEE"/>
<circle cx="376.39" cy="724.27" r="2.4" fill="#88CCEE"/>
<circle cx="376.39" cy="715.86" r="2.4" fill="#88CCEE"/>
<circle cx="376.39" cy="707.10" r="2.4" fill="#88CCEE"/>
<circle cx="376.39" cy="699.44" r="2.4" fill="#88CCEE"/>
<circle cx="376.39" cy="690.80" r="2.4" fill="#88CCEE"/>
<circle cx="376.39" cy="629.98" r="2.4" fill="#88CCEE"/>
<circle cx="376.39" cy="595.08" r="2.4" fill="#88CCEE"/>
<text x="503.65" y="598.48" font-size="7.25" fill="#000" stroke="#000" text-anchor="middle">Pearson's r [95% CI] = &#8722;0.34 [&#8722;0.41; &#8722;0.25], P = 1e&#8722;13</text>
<rect x="356.30" y="32.90" width="240.00" height="268.00" fill="none" stroke="#2A2A2A" stroke-width="1.6"/>
<rect x="596.30" y="33.50" width="9.10" height="267.40" fill="#D9D9D9" stroke="#2A2A2A" stroke-width="1.0"/>
<text x="600.85" y="166.90" font-size="8.5" fill="#1A1A1A" stroke="#1A1A1A" text-anchor="middle" transform="rotate(90 600.85 166.90) translate(0 3.0)">Dataset 1</text>
<rect x="356.30" y="307.90" width="240.00" height="268.00" fill="none" stroke="#2A2A2A" stroke-width="1.6"/>
<rect x="596.30" y="308.50" width="9.10" height="267.40" fill="#D9D9D9" stroke="#2A2A2A" stroke-width="1.0"/>
<text x="600.85" y="441.90" font-size="8.5" fill="#1A1A1A" stroke="#1A1A1A" text-anchor="middle" transform="rotate(90 600.85 441.90) translate(0 3.0)">Dataset 2</text>
<rect x="356.30" y="582.90" width="240.00" height="268.00" fill="none" stroke="#2A2A2A" stroke-width="1.6"/>
<rect x="596.30" y="583.50" width="9.10" height="267.40" fill="#D9D9D9" stroke="#2A2A2A" stroke-width="1.0"/>
<text x="600.85" y="716.90" font-size="8.5" fill="#1A1A1A" stroke="#1A1A1A" text-anchor="middle" transform="rotate(90 600.85 716.90) translate(0 3.0)">Replicated</text>
<line x1="367.40" x2="367.40" y1="30.10" y2="32.90" stroke="#2A2A2A" stroke-width="1.1"/>
<text x="367.40" y="27.0" font-size="7" fill="#3A3A3A" stroke="#3A3A3A" text-anchor="middle">0.0</text>
<line x1="421.90" x2="421.90" y1="30.10" y2="32.90" stroke="#2A2A2A" stroke-width="1.1"/>
<text x="421.90" y="27.0" font-size="7" fill="#3A3A3A" stroke="#3A3A3A" text-anchor="middle">0.2</text>
<line x1="476.40" x2="476.40" y1="30.10" y2="32.90" stroke="#2A2A2A" stroke-width="1.1"/>
<text x="476.40" y="27.0" font-size="7" fill="#3A3A3A" stroke="#3A3A3A" text-anchor="middle">0.4</text>
<line x1="530.90" x2="530.90" y1="30.10" y2="32.90" stroke="#2A2A2A" stroke-width="1.1"/>
<text x="530.90" y="27.0" font-size="7" fill="#3A3A3A" stroke="#3A3A3A" text-anchor="middle">0.6</text>
<line x1="585.40" x2="585.40" y1="30.10" y2="32.90" stroke="#2A2A2A" stroke-width="1.1"/>
<text x="585.40" y="27.0" font-size="7" fill="#3A3A3A" stroke="#3A3A3A" text-anchor="middle">0.8</text>
<text x="476.30" y="16.3" font-size="7.3" fill="#000" stroke="#000" text-anchor="middle">Proportion DA</text>
<text x="330.6" y="441.8" font-size="7.3" fill="#000" stroke="#000" text-anchor="middle" transform="rotate(-90 330.6 441.8)">Concordances</text>
<circle cx="618.2" cy="252.60" r="3.6" fill="#88CCEE"/>
<text x="623.3" y="255.20" font-size="7.3" fill="#000" stroke="#000">ANCOM&#8722;BC</text>
<circle cx="618.2" cy="270.10" r="3.6" fill="#E69F00"/>
<text x="623.3" y="272.70" font-size="7.3" fill="#000" stroke="#000">t&#8722;test CLR</text>
<circle cx="618.2" cy="287.60" r="3.6" fill="#D55E00"/>
<text x="623.3" y="290.20" font-size="7.3" fill="#000" stroke="#000">GLM TSS</text>
<circle cx="618.2" cy="305.10" r="3.6" fill="#CC6677"/>
<text x="623.3" y="307.70" font-size="7.3" fill="#000" stroke="#000">GLM CLR</text>
<circle cx="618.2" cy="322.60" r="3.6" fill="#AA4499"/>
<text x="623.3" y="325.20" font-size="7.3" fill="#000" stroke="#000">t&#8722;test TSS</text>
<circle cx="618.2" cy="340.10" r="3.6" fill="#DC267F"/>
<text x="623.3" y="342.70" font-size="7.3" fill="#000" stroke="#000">ANCOM</text>
<circle cx="618.2" cy="357.60" r="3.6" fill="#FE6100"/>
<text x="623.3" y="360.20" font-size="7.3" fill="#000" stroke="#000">KW TSS</text>
<circle cx="618.2" cy="375.10" r="3.6" fill="#000000"/>
<text x="623.3" y="377.70" font-size="7.3" fill="#000" stroke="#000">LEfSe</text>
<circle cx="618.2" cy="392.60" r="3.6" fill="#F0E442"/>
<text x="623.3" y="395.20" font-size="7.3" fill="#000" stroke="#000">ALDEx2 Wilcoxon</text>
<circle cx="618.2" cy="410.10" r="3.6" fill="#E1BE6A"/>
<text x="623.3" y="412.70" font-size="7.3" fill="#000" stroke="#000">fitFeatureModel</text>
<circle cx="618.2" cy="427.60" r="3.6" fill="#785EF0"/>
<text x="623.3" y="430.20" font-size="7.3" fill="#000" stroke="#000">SAMseq</text>
<circle cx="618.2" cy="445.10" r="3.6" fill="#009E73"/>
<text x="623.3" y="447.70" font-size="7.3" fill="#000" stroke="#000">KW CLR</text>
<circle cx="618.2" cy="462.60" r="3.6" fill="#882255"/>
<text x="623.3" y="465.20" font-size="7.3" fill="#000" stroke="#000">limma&#8722;voom</text>
<circle cx="618.2" cy="480.10" r="3.6" fill="#DDCC77"/>
<text x="623.3" y="482.70" font-size="7.3" fill="#000" stroke="#000">DESeq2</text>
<circle cx="618.2" cy="497.60" r="3.6" fill="#0072B2"/>
<text x="623.3" y="500.20" font-size="7.3" fill="#000" stroke="#000">GLM rCLR</text>
<circle cx="618.2" cy="515.10" r="3.6" fill="#648FFF"/>
<text x="623.3" y="517.70" font-size="7.3" fill="#000" stroke="#000">ALDEx2 t&#8722;test</text>
<circle cx="618.2" cy="532.60" r="3.6" fill="#994F00"/>
<text x="623.3" y="535.20" font-size="7.3" fill="#000" stroke="#000">t&#8722;test rCLR</text>
<circle cx="618.2" cy="550.10" r="3.6" fill="#CC79A7"/>
<text x="623.3" y="552.70" font-size="7.3" fill="#000" stroke="#000">KW rCLR</text>
<circle cx="618.2" cy="567.60" r="3.6" fill="#56B4E9"/>
<text x="623.3" y="570.20" font-size="7.3" fill="#000" stroke="#000">edgeR TMM</text>
<circle cx="618.2" cy="585.10" r="3.6" fill="#332288"/>
<text x="623.3" y="587.70" font-size="7.3" fill="#000" stroke="#000">fitZIG</text>
<circle cx="618.2" cy="602.60" r="3.6" fill="#999999"/>
<text x="623.3" y="605.20" font-size="7.3" fill="#000" stroke="#000">edgeR RLE</text>
<circle cx="618.2" cy="620.10" r="3.6" fill="#117733"/>
<text x="623.3" y="622.70" font-size="7.3" fill="#000" stroke="#000">baySeq</text>
<circle cx="618.2" cy="637.60" r="3.6" fill="#FFB000"/>
<text x="623.3" y="640.20" font-size="7.3" fill="#000" stroke="#000">GLM NBZI</text>
<text x="2" y="0" font-size="19" font-weight="bold" fill="#000" stroke="#000" transform="translate(0 19.9) scale(1 1.08)">a</text>
<text x="336.3" y="21.2" font-size="19" font-weight="bold" fill="#000" stroke="#000">b</text>
</svg></body></html>
